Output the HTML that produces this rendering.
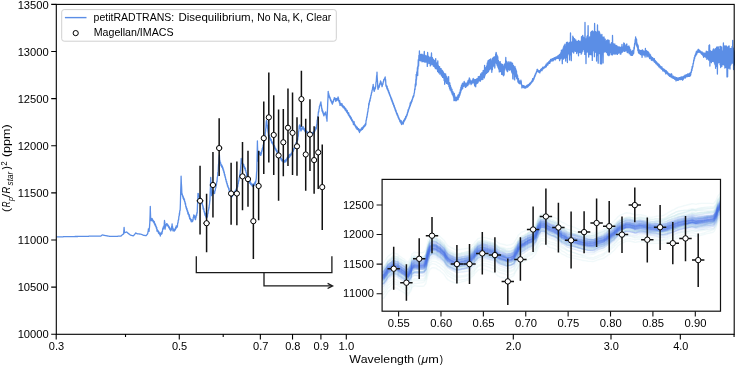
<!DOCTYPE html><html><head><meta charset="utf-8"><style>html,body{margin:0;padding:0;background:#fff;}svg text{font-kerning:none;}</style></head><body><svg width="735" height="366" viewBox="0 0 735 366" font-family='"Liberation Sans", sans-serif' style="display:block;filter:blur(0.3px)">
<rect x="0" y="0" width="735" height="366" fill="#fff"/>
<path d="M56.5 236.8 56.8 236.8 57.1 236.8 57.4 236.8 57.7 236.8 58.0 236.8 58.3 236.8 58.6 236.8 58.9 236.8 59.2 236.8 59.5 236.8 59.8 236.8 60.1 236.8 60.4 236.8 60.7 236.8 61.0 236.8 61.3 236.8 61.6 236.8 61.9 236.8 62.2 236.8 62.5 236.8 62.8 236.8 63.1 236.8 63.4 236.7 63.7 236.7 64.0 236.7 64.3 236.7 64.6 236.7 64.9 236.7 65.2 236.7 65.5 236.7 65.8 236.7 66.1 236.7 66.4 236.7 66.7 236.7 67.0 236.7 67.3 236.7 67.6 236.7 67.9 236.7 68.2 236.7 68.5 236.7 68.8 236.7 69.1 236.7 69.4 236.7 69.7 236.7 70.0 236.7 70.3 236.7 70.6 236.7 70.9 236.7 71.2 236.7 71.5 236.7 71.8 236.6 72.1 236.6 72.4 236.6 72.7 236.6 73.0 236.6 73.3 236.6 73.6 236.6 73.9 236.6 74.2 236.6 74.5 236.6 74.8 236.5 75.1 236.5 75.4 236.5 75.7 236.5 76.0 236.5 76.3 236.5 76.6 236.5 76.9 236.5 77.2 236.5 77.5 236.5 77.8 236.5 78.1 236.4 78.4 236.4 78.7 236.4 79.0 236.4 79.3 236.4 79.6 236.4 79.9 236.4 80.2 236.4 80.5 236.4 80.8 236.4 81.1 236.4 81.4 236.3 81.7 236.3 82.0 236.3 82.3 236.3 82.6 236.3 82.7 236.3 82.9 236.3 83.2 236.3 83.5 236.3 83.8 236.3 84.1 236.3 84.4 236.3 84.7 236.3 85.0 236.3 85.3 236.3 85.6 236.3 85.9 236.3 86.2 236.3 86.5 236.3 86.8 236.3 87.1 236.3 87.4 236.3 87.7 236.3 88.0 236.3 88.3 236.3 88.6 236.3 88.9 236.2 89.2 236.2 89.5 236.2 89.8 236.2 90.1 236.2 90.4 236.2 90.7 236.2 91.0 236.2 91.3 236.2 91.6 236.2 91.9 236.2 92.2 236.2 92.5 236.2 92.8 236.2 93.1 236.2 93.4 236.2 93.7 236.2 94.0 236.2 94.3 236.2 94.6 236.2 94.9 236.2 95.0 236.2 95.2 236.2 95.5 236.2 95.8 236.2 96.1 236.2 96.4 236.2 96.7 236.2 97.0 236.2 97.3 236.2 97.6 236.2 97.9 236.1 98.2 236.1 98.5 236.1 98.8 236.1 99.1 236.1 99.4 236.1 99.7 236.1 100.0 236.1 100.3 236.1 100.6 236.1 100.8 236.1 100.9 236.0 101.2 235.8 101.5 235.5 101.8 235.2 102.1 235.0 102.2 234.9 102.4 234.9 102.7 235.0 103.0 235.1 103.3 235.2 103.5 235.2 103.6 235.2 103.9 235.3 104.2 235.3 104.5 235.4 104.8 235.5 105.1 235.5 105.4 235.6 105.5 235.6 105.7 235.6 106.0 235.7 106.3 235.7 106.6 235.8 106.9 235.9 107.2 235.9 107.5 236.0 107.8 236.0 108.1 236.1 108.4 236.1 108.7 236.2 109.0 236.2 109.3 236.3 109.6 236.3 109.9 236.3 110.2 236.3 110.5 236.3 110.8 236.3 111.1 236.3 111.4 236.3 111.7 236.3 112.0 236.3 112.3 236.3 112.6 236.3 112.9 236.3 113.2 236.3 113.5 236.3 113.8 236.3 114.1 236.3 114.4 236.3 114.7 236.3 115.0 236.3 115.3 236.3 115.6 236.3 115.9 236.3 116.2 236.3 116.5 236.3 116.8 236.3 117.1 236.3 117.4 236.3 117.7 236.3 118.0 236.2 118.3 236.2 118.6 236.2 118.9 236.2 119.2 236.2 119.5 236.2 119.8 236.2 120.1 236.2 120.4 236.2 120.7 236.2 120.8 236.2 121.0 236.0 121.3 235.7 121.6 235.4 121.9 235.2 122.2 234.9 122.5 234.6 122.7 234.4 122.8 234.4 123.1 234.2 123.4 234.1 123.6 234.0 123.7 232.7 124.0 228.6 124.1 227.3 124.3 230.1 124.5 232.8 124.6 232.8 124.9 232.6 125.2 232.5 125.5 232.4 125.8 232.3 126.1 232.2 126.4 232.1 126.6 232.0 126.7 232.1 127.0 232.3 127.3 232.6 127.6 232.9 127.9 233.1 128.0 233.2 128.2 233.4 128.5 233.6 128.8 233.8 129.1 234.1 129.4 234.3 129.7 234.5 130.0 234.8 130.3 235.0 130.4 235.1 130.6 235.2 130.9 235.2 131.2 235.3 131.5 235.4 131.8 235.5 132.1 235.6 132.4 235.7 132.7 235.7 133.0 235.8 133.3 235.9 133.6 235.6 133.9 235.2 134.2 234.9 134.5 234.5 134.8 234.2 135.1 233.8 135.2 233.7 135.4 233.4 135.7 233.0 136.0 233.2 136.3 233.3 136.6 233.4 136.9 233.6 137.1 233.7 137.2 233.7 137.5 233.8 137.8 233.8 138.1 233.8 138.4 233.9 138.7 233.9 139.0 233.9 139.3 234.0 139.6 234.0 139.9 234.1 140.2 234.1 140.5 234.1 140.8 234.2 141.0 234.2 141.1 234.2 141.4 234.4 141.7 234.5 142.0 234.6 142.3 234.8 142.6 234.9 142.9 235.0 143.2 235.1 143.5 235.3 143.8 235.4 144.1 235.4 144.4 235.4 144.7 235.5 145.0 235.5 145.3 235.5 145.6 235.6 145.9 235.6 146.2 235.6 146.5 235.2 146.8 234.8 147.1 234.5 147.4 234.1 147.7 233.7 148.0 231.9 148.3 230.5 148.4 228.9 148.6 230.1 148.9 229.1 149.1 231.3 149.2 229.1 149.5 227.1 149.8 222.6 150.1 214.7 150.3 206.5 150.4 211.2 150.7 219.4 151.0 220.6 151.3 219.1 151.6 220.7 151.9 218.4 152.0 220.4 152.2 218.6 152.5 220.6 152.8 219.9 153.1 221.7 153.4 220.6 153.7 222.4 154.0 221.3 154.3 223.6 154.4 221.6 154.6 224.3 154.9 223.3 155.2 225.7 155.5 224.5 155.8 226.7 156.1 226.1 156.4 228.3 156.7 227.4 157.0 231.2 157.2 229.3 157.3 231.0 157.6 230.1 157.9 231.6 158.2 230.9 158.5 233.2 158.8 231.6 159.1 233.7 159.4 232.9 159.7 234.3 160.0 233.2 160.3 236.0 160.6 233.1 160.9 234.6 161.2 232.8 161.5 234.2 161.8 232.1 162.0 233.6 162.1 231.4 162.4 231.6 162.7 228.6 163.0 228.5 163.3 226.8 163.6 228.9 163.9 226.5 164.2 224.9 164.5 220.5 164.6 221.2 164.8 222.3 165.1 229.1 165.4 226.3 165.7 226.7 166.0 224.4 166.3 225.0 166.6 223.6 166.9 225.0 167.2 223.8 167.5 225.5 167.8 224.5 168.1 226.4 168.4 225.6 168.7 227.4 169.0 226.4 169.3 228.3 169.6 227.3 169.7 229.2 169.9 228.2 170.2 229.9 170.5 228.8 170.8 230.9 171.1 229.9 171.4 229.6 171.7 226.4 172.0 225.9 172.1 223.9 172.3 226.4 172.6 226.7 172.9 230.8 173.0 228.3 173.2 230.6 173.5 229.1 173.8 230.9 174.1 229.3 174.4 231.0 174.5 229.9 174.7 230.7 175.0 229.0 175.3 229.9 175.6 227.5 175.9 228.8 176.2 225.9 176.5 227.8 176.8 225.9 177.1 227.3 177.3 225.3 177.4 226.5 177.7 223.0 178.0 223.1 178.3 220.0 178.6 220.1 178.9 216.3 179.2 215.9 179.4 213.1 179.5 214.7 179.8 210.7 180.1 210.4 180.2 208.5 180.4 203.2 180.7 191.0 181.0 182.1 181.1 176.2 181.3 182.3 181.6 186.8 181.9 194.4 182.2 193.9 182.5 196.2 182.8 195.5 183.1 198.3 183.4 197.0 183.7 199.3 184.0 198.4 184.3 200.7 184.5 199.6 184.6 201.8 184.9 201.5 185.2 204.2 185.5 203.2 185.8 206.7 186.1 206.2 186.2 208.3 186.4 207.1 186.7 209.8 187.0 208.7 187.3 211.5 187.6 210.7 187.9 213.9 188.2 212.1 188.5 214.7 188.8 214.0 189.1 216.6 189.4 215.0 189.6 218.5 189.7 216.7 190.0 219.1 190.3 218.3 190.6 220.2 190.9 219.5 191.2 221.7 191.3 219.5 191.5 221.8 191.8 220.2 192.1 221.7 192.4 220.1 192.6 221.5 192.7 219.6 193.0 220.5 193.3 217.1 193.6 217.2 193.8 214.8 193.9 216.8 194.2 215.7 194.5 217.7 194.8 216.0 195.1 219.1 195.4 217.9 195.5 219.7 195.7 217.4 196.0 217.7 196.3 214.8 196.6 215.7 196.9 212.6 197.2 213.1 197.5 205.0 197.8 199.3 198.0 193.3 198.1 195.2 198.4 193.7 198.7 196.3 199.0 195.1 199.2 197.3 199.3 195.8 199.6 198.1 199.9 196.9 200.2 199.2 200.5 198.2 200.8 200.8 201.1 199.7 201.4 201.7 201.7 201.1 202.0 204.2 202.3 203.2 202.6 206.0 202.9 205.7 203.1 208.9 203.2 206.7 203.5 209.6 203.8 208.6 204.1 211.9 204.4 211.5 204.7 214.3 204.8 213.4 205.0 215.3 205.3 213.1 205.6 216.3 205.9 215.6 206.2 218.0 206.5 215.8 206.8 217.5 207.1 215.3 207.4 216.9 207.7 213.8 208.0 213.5 208.3 210.3 208.6 210.3 208.9 207.2 209.1 208.0 209.2 205.6 209.5 204.3 209.8 200.4 209.9 201.3 210.1 194.4 210.4 187.7 210.7 177.3 211.0 185.2 211.3 189.0 211.6 195.7 211.9 193.9 212.2 194.4 212.5 192.4 212.8 193.3 213.1 190.9 213.3 192.5 213.4 190.4 213.7 193.2 214.0 191.4 214.3 193.4 214.5 192.1 214.6 193.5 214.9 190.8 215.2 190.8 215.5 188.2 215.8 188.0 216.1 185.3 216.4 185.2 216.7 181.9 217.0 181.8 217.3 177.3 217.6 176.4 217.9 172.3 218.2 171.4 218.5 164.7 218.8 163.1 219.1 157.5 219.3 156.3 219.4 155.0 219.7 160.0 220.0 160.9 220.3 163.3 220.6 162.5 220.9 165.4 221.2 164.3 221.5 166.6 221.8 165.1 222.1 167.3 222.4 166.4 222.7 168.8 223.0 167.8 223.3 170.7 223.6 169.9 223.9 172.6 224.2 171.8 224.5 175.2 224.8 174.4 225.1 177.2 225.4 176.7 225.7 179.6 226.0 179.3 226.3 182.0 226.6 181.3 226.9 183.8 227.2 183.4 227.5 186.2 227.8 185.3 228.1 187.4 228.4 187.1 228.7 189.2 229.0 188.3 229.3 191.4 229.6 190.6 229.9 193.5 230.2 193.4 230.5 195.7 230.8 193.3 231.1 196.2 231.4 195.3 231.7 196.9 232.0 196.0 232.3 196.6 232.6 194.5 232.9 195.4 233.2 193.4 233.5 194.4 233.8 192.5 234.1 193.8 234.4 191.8 234.7 193.0 235.0 191.0 235.3 192.7 235.6 190.1 235.9 191.1 236.2 188.8 236.5 190.0 236.8 187.6 237.1 188.0 237.4 185.5 237.7 186.8 238.0 183.6 238.3 183.6 238.6 180.6 238.9 180.8 239.2 177.8 239.5 177.6 239.8 174.1 240.1 173.4 240.4 169.8 240.5 170.7 240.7 166.4 241.0 163.0 241.2 158.5 241.3 160.4 241.6 159.8 241.9 162.9 242.1 161.7 242.2 163.7 242.5 162.7 242.8 165.4 243.1 164.2 243.4 166.0 243.7 164.5 244.0 167.2 244.3 166.4 244.6 168.3 244.9 167.3 245.2 169.8 245.4 168.4 245.5 170.8 245.8 170.3 246.1 172.6 246.4 172.6 246.7 176.3 247.0 174.5 247.3 177.7 247.6 176.1 247.9 178.7 248.2 177.6 248.5 180.3 248.8 179.6 249.1 181.8 249.4 181.1 249.5 182.8 249.7 181.7 250.0 183.4 250.3 181.5 250.6 184.1 250.9 182.9 251.1 184.7 251.2 183.4 251.5 184.9 251.8 184.0 252.1 185.8 252.4 184.1 252.7 186.5 252.8 184.8 253.0 186.4 253.3 184.3 253.6 185.6 253.9 183.6 254.2 185.4 254.4 183.6 254.5 184.7 254.8 182.5 255.1 184.5 255.4 181.4 255.7 182.5 256.0 180.2 256.3 178.1 256.6 172.2 256.8 171.0 256.9 164.2 257.2 152.1 257.4 141.0 257.5 145.4 257.8 153.0 258.0 161.0 258.1 158.2 258.4 157.0 258.7 152.4 258.8 152.6 259.0 151.6 259.3 153.5 259.6 152.1 259.9 154.6 260.2 153.3 260.5 155.2 260.7 154.5 260.8 155.4 261.1 152.2 261.4 153.9 261.7 150.7 262.0 151.3 262.3 148.3 262.6 149.5 262.7 147.3 262.9 147.9 263.2 144.8 263.5 145.3 263.8 142.1 264.1 141.7 264.4 138.7 264.6 139.5 264.7 136.9 265.0 136.4 265.3 132.4 265.6 131.4 265.7 128.9 265.9 128.1 266.2 122.7 266.5 120.4 266.8 121.3 267.1 125.0 267.4 125.4 267.5 128.3 267.7 128.4 268.0 132.3 268.3 133.4 268.4 135.9 268.6 133.7 268.9 136.7 269.2 135.4 269.5 137.7 269.8 137.1 270.1 139.3 270.3 138.0 270.4 140.0 270.7 138.8 271.0 140.7 271.3 139.7 271.6 142.6 271.9 141.4 272.2 143.5 272.5 142.3 272.8 144.2 273.1 143.2 273.4 146.1 273.7 144.8 274.0 146.5 274.2 145.3 274.3 147.6 274.6 146.1 274.9 148.7 275.2 147.9 275.5 149.6 275.8 148.6 276.1 150.7 276.4 149.9 276.7 151.8 277.0 150.6 277.3 152.8 277.6 152.1 277.9 154.2 278.2 152.5 278.5 155.3 278.8 154.0 279.0 156.1 279.1 154.3 279.4 156.2 279.7 155.3 280.0 157.6 280.3 156.4 280.6 158.6 280.9 157.6 281.2 159.8 281.5 158.7 281.8 160.8 282.1 159.4 282.4 160.9 282.7 160.0 283.0 161.6 283.3 159.3 283.6 162.7 283.7 160.9 283.9 162.2 284.2 160.7 284.5 162.2 284.8 160.4 285.1 161.8 285.4 160.1 285.7 161.9 286.0 159.3 286.3 161.0 286.6 158.9 286.9 159.9 287.2 157.6 287.5 159.1 287.6 157.1 287.8 158.7 288.1 156.6 288.4 158.0 288.7 155.5 289.0 157.5 289.3 154.3 289.5 157.1 289.6 155.3 289.9 156.6 290.2 154.3 290.5 155.7 290.8 153.9 291.1 155.1 291.4 153.1 291.7 154.1 292.0 152.1 292.3 152.8 292.6 150.4 292.9 151.5 293.2 149.4 293.3 151.1 293.5 148.8 293.8 150.0 294.1 148.0 294.4 148.7 294.7 146.4 295.0 147.4 295.2 145.5 295.3 147.2 295.6 144.6 295.9 144.6 296.2 142.3 296.5 142.8 296.8 140.1 297.1 140.6 297.4 138.4 297.7 139.9 298.0 136.7 298.3 136.2 298.6 131.7 298.9 130.8 299.2 126.3 299.5 125.4 299.8 124.9 300.1 128.4 300.4 126.1 300.7 130.1 300.9 128.9 301.0 131.0 301.3 128.8 301.6 130.0 301.9 128.0 302.2 129.2 302.5 126.9 302.8 128.0 303.1 126.7 303.4 129.1 303.7 128.1 304.0 129.8 304.3 128.5 304.6 130.9 304.7 129.5 304.9 131.0 305.2 130.0 305.5 132.3 305.8 130.2 306.1 132.0 306.4 131.1 306.7 132.7 307.0 131.5 307.3 133.3 307.6 132.2 307.9 133.8 308.2 132.6 308.5 134.2 308.8 132.5 309.1 134.4 309.4 132.8 309.7 134.3 310.0 132.8 310.3 134.8 310.4 133.0 310.6 134.6 310.9 132.7 311.2 134.8 311.5 133.0 311.8 134.2 312.1 132.6 312.4 134.7 312.7 132.4 313.0 134.1 313.3 132.2 313.6 133.5 313.9 131.5 314.2 132.3 314.5 130.0 314.8 131.3 315.1 129.0 315.4 130.2 315.7 127.4 316.0 129.2 316.2 127.4 316.3 128.4 316.6 124.7 316.9 124.7 317.2 120.2 317.5 119.8 317.8 116.2 318.1 115.4 318.4 111.7 318.7 112.1 319.0 109.0 319.3 108.8 319.4 106.4 319.6 107.1 319.9 104.9 320.2 105.2 320.5 102.9 320.8 103.4 320.9 101.8 321.1 104.5 321.4 105.1 321.7 108.7 321.9 108.1 322.0 111.0 322.3 109.7 322.6 112.3 322.9 111.1 323.2 113.9 323.5 113.1 323.8 115.8 324.1 113.7 324.4 115.0 324.7 113.2 325.0 114.4 325.3 112.8 325.6 113.9 325.7 111.9 325.9 115.2 326.2 114.9 326.5 118.2 326.8 118.5 327.0 121.2 327.1 117.1 327.4 111.8 327.7 103.3 328.0 97.6 328.2 91.3 328.3 93.2 328.6 93.0 328.9 96.0 329.1 95.0 329.2 97.1 329.5 96.2 329.8 98.1 330.1 97.6 330.4 99.8 330.5 98.9 330.7 100.6 331.0 99.9 331.3 102.0 331.6 101.1 331.9 103.2 332.2 102.3 332.4 104.1 332.5 101.9 332.8 103.2 333.1 101.0 333.4 102.0 333.7 99.5 334.0 100.0 334.3 97.7 334.6 99.7 334.9 98.2 335.2 99.6 335.5 98.4 335.8 101.4 336.1 98.7 336.2 100.2 336.4 98.9 336.7 100.4 337.0 98.4 337.3 99.7 337.6 98.1 337.9 100.1 338.1 97.0 338.2 99.9 338.5 98.0 338.8 101.1 339.1 100.4 339.4 102.8 339.7 100.7 340.0 105.4 340.3 103.1 340.6 104.8 340.9 103.5 341.2 105.1 341.5 104.0 341.8 105.6 342.0 103.7 342.1 106.2 342.4 104.9 342.7 106.8 343.0 105.8 343.3 107.6 343.6 106.2 343.9 108.0 344.2 106.6 344.5 108.7 344.8 107.5 345.1 109.9 345.4 108.3 345.7 110.3 346.0 109.0 346.3 111.3 346.6 110.3 346.9 112.4 347.2 110.4 347.5 113.3 347.7 112.2 347.8 113.7 348.1 112.7 348.4 115.0 348.7 112.8 349.0 115.8 349.3 114.8 349.6 116.8 349.9 115.6 350.2 117.7 350.5 116.6 350.6 118.8 350.8 117.1 351.1 119.1 351.4 118.0 351.7 120.6 352.0 119.3 352.3 121.2 352.6 120.4 352.9 122.4 353.2 121.5 353.4 124.5 353.5 121.9 353.8 123.8 354.1 121.7 354.4 124.8 354.7 124.0 355.0 125.8 355.3 125.0 355.6 127.0 355.9 125.8 356.2 128.1 356.3 126.3 356.5 128.1 356.8 127.2 357.1 129.3 357.4 127.5 357.7 129.4 358.0 128.7 358.3 130.1 358.6 128.7 358.9 131.1 359.2 129.4 359.5 132.5 359.8 130.1 360.1 131.4 360.4 129.7 360.7 130.5 361.0 129.0 361.3 130.2 361.6 127.9 361.9 129.7 362.2 128.0 362.5 129.4 362.6 127.3 362.8 128.6 363.1 126.6 363.4 128.0 363.7 125.9 364.0 127.2 364.3 125.6 364.6 126.5 364.9 124.5 365.2 125.8 365.5 123.4 365.8 124.8 366.1 120.2 366.4 120.1 366.7 116.9 367.0 117.2 367.3 114.0 367.4 114.6 367.6 112.0 367.9 112.0 368.2 108.3 368.5 108.2 368.8 103.5 369.1 104.8 369.3 101.8 369.4 102.6 369.7 100.0 370.0 101.1 370.3 97.8 370.6 98.2 370.9 95.1 371.2 95.3 371.5 92.6 371.8 92.6 372.1 90.0 372.4 89.9 372.7 86.8 373.0 87.2 373.2 84.3 373.3 86.6 373.6 86.8 373.9 90.5 374.1 90.1 374.2 91.4 374.5 89.0 374.8 89.8 375.1 87.5 375.4 88.4 375.6 86.4 375.7 86.7 376.0 82.3 376.3 81.1 376.6 76.2 376.9 74.8 377.0 72.1 377.2 77.3 377.5 81.3 377.8 88.0 377.9 88.6 378.1 89.4 378.4 87.3 378.7 87.8 379.0 85.6 379.3 87.0 379.5 84.2 379.6 85.8 379.9 83.2 380.2 84.2 380.5 81.0 380.8 82.0 381.1 81.9 381.4 84.5 381.7 84.0 382.0 86.6 382.1 85.7 382.3 86.2 382.6 83.7 382.9 84.5 383.2 81.7 383.5 82.1 383.7 79.6 383.8 80.8 384.1 79.1 384.4 79.7 384.7 77.9 385.0 79.0 385.2 77.0 385.3 79.5 385.6 79.5 385.9 85.4 386.0 84.4 386.2 86.4 386.5 85.9 386.8 88.2 387.1 86.2 387.4 89.7 387.7 88.4 388.0 90.6 388.3 90.0 388.4 91.9 388.6 90.6 388.9 93.2 389.2 92.3 389.5 94.9 389.8 94.0 390.1 96.1 390.4 95.8 390.7 97.9 391.0 97.1 391.3 99.8 391.6 98.6 391.9 101.3 392.2 100.1 392.5 102.9 392.8 101.9 393.1 104.3 393.4 103.3 393.7 106.0 394.0 105.1 394.2 107.2 394.3 105.7 394.6 108.3 394.9 107.6 395.2 110.1 395.5 109.2 395.8 111.6 396.1 110.6 396.4 113.3 396.7 112.5 397.0 114.8 397.3 113.7 397.6 115.9 397.9 115.0 398.2 117.6 398.5 116.9 398.8 119.0 399.1 118.1 399.4 120.0 399.7 119.5 399.9 121.6 400.0 119.8 400.3 122.0 400.6 120.7 400.9 123.1 401.2 120.7 401.5 124.5 401.8 123.0 402.1 124.2 402.4 122.2 402.7 123.3 403.0 121.6 403.3 124.0 403.6 120.5 403.7 122.2 403.9 120.2 404.2 121.3 404.5 119.0 404.8 120.3 405.1 118.1 405.4 119.3 405.7 116.5 406.0 118.1 406.3 115.9 406.6 116.5 406.9 114.2 407.2 115.1 407.5 112.2 407.8 112.9 408.1 109.7 408.4 111.1 408.5 109.5 408.7 110.0 409.0 107.6 409.3 108.3 409.6 105.9 409.9 106.9 410.2 103.0 410.4 105.4 410.5 103.6 410.8 104.3 411.1 101.5 411.4 102.9 411.7 100.1 412.0 101.4 412.3 98.8 412.6 99.2 412.9 96.6 413.2 97.6 413.5 95.3 413.8 96.3 414.1 93.3 414.4 93.0 414.7 88.8 415.0 89.7 415.3 84.0 415.6 86.3 415.9 79.2 416.1 84.9 416.2 74.3 416.5 79.9 416.8 72.0 417.1 75.7 417.4 67.6 417.7 75.4 417.8 66.2 418.0 68.9 418.3 59.7 418.6 66.1 418.9 55.5 419.2 60.6 419.4 51.0 419.5 53.8 419.8 59.5 420.1 54.4 420.4 60.8 420.7 54.5 421.0 60.7 421.3 55.4 421.6 60.1 421.9 54.1 422.0 61.8 422.2 54.3 422.5 61.5 422.8 56.0 423.1 61.2 423.4 55.1 423.7 61.7 424.0 56.3 424.3 51.5 424.6 61.5 424.9 56.7 425.0 62.3 425.2 55.3 425.5 61.3 425.8 55.8 426.1 61.8 426.4 56.6 426.7 62.2 427.0 55.6 427.3 66.4 427.6 52.5 427.9 57.3 428.2 61.7 428.5 56.3 428.8 63.5 429.0 58.0 429.1 62.9 429.4 57.8 429.7 63.4 430.0 57.1 430.3 65.9 430.6 59.0 430.9 63.8 431.2 58.5 431.5 53.0 431.8 64.8 432.0 59.7 432.1 64.2 432.4 57.7 432.7 64.3 433.0 59.2 433.3 65.9 433.6 59.5 433.9 66.4 434.2 60.4 434.5 66.8 434.8 60.7 435.0 67.6 435.1 62.6 435.4 68.7 435.7 58.6 436.0 67.4 436.3 64.1 436.6 68.7 436.9 63.0 437.2 69.6 437.5 64.0 437.6 71.5 437.8 60.8 438.1 70.6 438.4 65.6 438.7 72.8 439.0 66.6 439.3 72.0 439.6 66.6 439.9 74.2 440.2 68.4 440.5 73.3 440.6 68.8 440.8 73.9 441.1 68.6 441.4 75.6 441.7 70.2 442.0 76.2 442.3 70.5 442.6 77.4 442.9 71.2 443.2 77.4 443.5 72.2 443.8 78.2 444.0 74.4 444.1 80.5 444.4 73.6 444.7 84.3 445.0 76.0 445.3 81.9 445.6 73.8 445.9 81.3 446.2 76.0 446.5 83.4 446.8 76.7 447.1 82.5 447.4 78.1 447.7 84.0 448.0 79.6 448.3 84.3 448.6 76.6 448.9 86.4 449.2 82.6 449.5 88.3 449.8 82.9 450.1 90.0 450.4 85.4 450.7 90.2 451.0 87.2 451.3 91.9 451.6 89.0 451.9 93.3 452.0 89.2 452.2 94.3 452.5 91.6 452.8 95.2 453.1 91.8 453.4 96.9 453.7 94.4 454.0 100.6 454.3 93.3 454.6 99.5 454.9 95.9 455.2 100.4 455.5 97.4 455.8 100.8 456.1 97.9 456.4 100.7 456.7 97.2 457.0 99.9 457.3 96.9 457.6 99.7 457.9 95.2 458.1 99.7 458.2 95.7 458.5 98.0 458.8 94.4 459.1 97.1 459.4 92.6 459.7 95.5 460.0 91.7 460.2 94.0 460.3 89.6 460.6 92.6 460.9 87.2 461.2 90.8 461.5 85.2 461.8 89.4 462.1 85.1 462.2 87.8 462.4 83.4 462.7 88.5 463.0 83.2 463.3 86.3 463.6 83.5 463.9 86.3 464.2 81.4 464.3 85.9 464.5 82.7 464.8 85.7 465.1 82.8 465.4 87.4 465.7 83.6 466.0 86.9 466.3 83.9 466.6 86.2 466.9 82.9 467.2 85.0 467.5 81.8 467.8 85.7 468.1 80.5 468.4 83.2 468.7 80.0 469.0 84.1 469.3 78.0 469.4 81.5 469.6 78.3 469.9 82.2 470.2 79.8 470.5 83.1 470.8 80.8 471.1 84.6 471.2 81.3 471.4 83.8 471.7 81.0 472.0 83.5 472.3 80.1 472.6 82.5 472.9 79.3 473.0 81.9 473.2 78.4 473.5 82.3 473.8 79.1 474.1 83.8 474.4 79.9 474.7 85.9 475.0 79.6 475.3 84.0 475.6 79.6 475.7 86.8 475.9 79.6 476.2 83.9 476.5 79.0 476.8 83.5 477.1 79.0 477.4 83.2 477.7 78.3 478.0 82.7 478.3 76.7 478.6 81.0 478.9 76.8 479.2 80.9 479.5 76.5 479.8 80.7 480.1 76.0 480.4 81.1 480.7 74.0 481.0 79.7 481.3 74.1 481.6 79.5 481.9 72.7 482.2 78.9 482.5 72.9 482.8 79.5 483.1 70.7 483.4 77.0 483.6 72.6 483.7 77.2 484.0 70.1 484.3 77.9 484.6 65.3 484.9 75.9 485.2 69.8 485.5 74.3 485.8 67.6 486.1 73.4 486.3 67.1 486.4 73.4 486.7 65.9 487.0 72.2 487.3 63.0 487.6 72.5 487.9 61.5 488.1 70.8 488.2 60.4 488.5 71.6 488.8 61.7 489.1 68.7 489.4 59.7 489.7 69.8 490.0 60.4 490.3 68.2 490.6 59.0 490.7 68.4 490.9 59.2 491.2 69.1 491.5 60.6 491.8 72.3 492.1 60.6 492.4 69.7 492.5 58.1 492.7 67.3 493.0 58.9 493.3 66.3 493.6 57.4 493.9 65.0 494.2 56.7 494.3 65.6 494.5 57.6 494.8 68.0 495.1 57.1 495.4 63.1 495.7 53.8 496.0 61.4 496.1 52.5 496.3 52.9 496.6 63.5 496.9 54.8 497.0 65.1 497.2 55.6 497.5 66.1 497.8 56.7 498.1 67.7 498.4 60.4 498.7 69.0 499.0 61.6 499.3 71.9 499.6 63.0 499.9 70.1 500.2 61.7 500.5 71.5 500.8 63.3 501.1 71.3 501.4 64.1 501.7 74.4 502.0 65.3 502.3 74.1 502.6 64.4 502.9 74.8 503.2 66.9 503.5 75.8 503.8 66.0 504.1 74.9 504.4 64.1 504.7 69.9 505.0 63.6 505.3 68.0 505.6 61.7 505.8 57.5 505.9 67.7 506.2 60.8 506.5 69.9 506.8 61.4 507.1 71.2 507.4 63.6 507.6 71.7 507.7 63.0 508.0 69.6 508.3 63.4 508.6 69.4 508.9 61.7 509.2 70.0 509.4 62.8 509.5 70.2 509.8 62.8 510.1 69.9 510.4 62.2 510.7 69.0 511.0 62.2 511.2 69.7 511.3 62.7 511.6 72.1 511.9 64.4 512.2 73.2 512.5 63.2 512.8 78.7 512.9 65.9 513.1 79.1 513.4 65.4 513.7 73.9 514.0 67.2 514.3 73.1 514.6 68.0 514.7 79.9 514.9 66.3 515.2 75.2 515.5 68.2 515.8 76.6 516.1 69.9 516.4 76.5 516.5 71.1 516.7 78.6 517.0 74.2 517.3 79.1 517.6 75.7 517.9 81.7 518.2 78.3 518.3 82.6 518.5 78.6 518.8 83.1 519.1 80.3 519.4 83.3 519.7 81.3 520.0 83.8 520.3 81.7 520.6 82.9 520.9 80.1 521.0 82.3 521.2 81.3 521.5 85.0 521.8 84.7 521.9 87.9 522.1 85.4 522.4 86.9 522.7 85.7 523.0 87.2 523.3 85.6 523.6 87.5 523.9 86.0 524.2 87.8 524.5 86.2 524.8 88.0 525.1 86.7 525.4 88.1 525.7 86.4 526.0 87.8 526.3 85.9 526.6 87.2 526.9 85.3 527.2 87.2 527.5 85.2 527.6 87.2 527.8 85.1 528.1 86.3 528.4 84.7 528.7 86.0 529.0 84.2 529.3 85.3 529.6 83.3 529.9 84.9 530.2 82.9 530.5 84.2 530.8 82.3 531.1 83.4 531.4 81.5 531.7 82.2 532.0 80.6 532.3 81.9 532.6 78.7 532.9 81.2 533.2 79.2 533.4 80.0 533.5 78.4 533.8 79.5 534.1 76.9 534.4 77.8 534.7 75.5 535.0 76.4 535.3 74.0 535.6 74.9 535.9 72.8 536.2 73.3 536.5 71.5 536.8 72.0 537.1 69.4 537.2 70.8 537.4 69.5 537.7 71.0 538.0 70.2 538.3 71.9 538.6 70.8 538.9 72.2 539.1 71.0 539.2 72.4 539.5 70.8 539.8 72.9 540.1 70.3 540.4 71.3 540.7 69.3 541.0 70.6 541.3 68.9 541.6 70.0 541.9 68.4 542.0 70.7 542.2 68.3 542.5 69.4 542.8 67.2 543.1 68.9 543.4 67.4 543.7 68.6 544.0 67.1 544.3 67.8 544.6 66.6 544.8 67.6 544.9 66.3 545.2 67.2 545.5 65.3 545.8 67.1 546.1 64.2 546.4 66.5 546.7 64.3 547.0 65.4 547.3 62.8 547.6 65.0 547.7 63.1 547.9 64.8 548.2 62.7 548.5 63.6 548.8 61.7 549.1 63.4 549.4 61.1 549.7 63.4 550.0 60.4 550.3 62.0 550.6 59.3 550.9 61.4 551.2 59.5 551.5 60.8 551.8 59.2 552.1 60.9 552.4 58.6 552.7 60.8 553.0 58.7 553.3 60.7 553.4 58.4 553.6 59.9 553.9 58.1 554.2 59.7 554.5 57.7 554.8 59.5 555.1 57.6 555.4 59.8 555.7 57.1 556.0 58.7 556.3 57.1 556.6 58.6 556.9 56.7 557.2 58.1 557.5 56.2 557.8 58.4 558.1 56.0 558.4 58.2 558.7 55.3 559.0 58.7 559.3 54.6 559.6 60.6 559.9 54.3 560.0 59.0 560.2 53.9 560.5 58.9 560.8 52.7 561.1 58.1 561.4 50.2 561.7 57.2 562.0 51.4 562.3 63.7 562.6 49.6 562.9 57.8 563.2 47.8 563.5 59.1 563.8 46.2 564.1 56.4 564.4 45.1 564.7 58.0 565.0 44.1 565.3 56.7 565.6 47.0 565.7 61.1 565.9 46.6 566.2 57.7 566.5 42.5 566.8 54.1 567.1 44.2 567.4 62.5 567.7 42.2 568.0 53.8 568.3 43.2 568.6 52.2 568.9 43.7 569.2 55.0 569.5 42.5 569.6 60.1 569.8 43.7 570.1 54.8 570.4 41.5 570.5 33.0 570.7 52.9 571.0 42.9 571.3 60.7 571.6 42.5 571.9 50.8 572.2 41.4 572.5 51.9 572.8 36.1 573.1 49.6 573.4 37.4 573.7 53.0 574.0 38.7 574.3 49.8 574.6 38.7 574.9 51.0 575.2 41.8 575.5 51.3 575.8 39.8 576.1 51.4 576.4 42.5 576.7 53.6 577.0 41.5 577.3 51.8 577.6 42.3 577.9 51.7 578.2 41.0 578.5 55.8 578.8 40.5 579.0 50.8 579.1 43.8 579.4 52.6 579.7 41.7 580.0 51.5 580.3 42.0 580.6 52.4 580.9 40.8 581.2 54.2 581.5 36.7 581.8 53.1 582.1 38.5 582.4 51.3 582.7 35.3 583.0 49.3 583.3 37.0 583.6 49.4 583.9 38.2 584.2 51.2 584.5 37.7 584.8 54.4 585.0 22.5 585.1 38.6 585.4 50.8 585.7 40.0 586.0 63.5 586.3 38.7 586.6 49.8 586.9 36.6 587.2 52.1 587.5 35.4 587.8 50.2 588.1 25.7 588.4 50.2 588.7 57.0 589.0 39.2 589.3 54.1 589.6 36.9 589.9 54.5 590.2 38.8 590.5 52.3 590.8 32.4 591.1 54.8 591.4 31.3 591.7 52.1 592.0 32.3 592.3 60.4 592.5 31.0 592.6 52.3 592.9 31.2 593.2 49.1 593.5 31.9 593.8 50.7 594.1 35.2 594.4 56.7 594.6 23.5 594.7 32.2 595.0 51.9 595.3 31.9 595.4 47.7 595.6 31.7 595.9 52.4 596.2 32.1 596.5 51.9 596.6 61.0 596.8 33.6 597.1 52.3 597.4 34.1 597.5 25.0 597.7 55.6 598.0 33.6 598.2 63.2 598.3 35.7 598.6 50.8 598.9 31.1 599.2 53.6 599.5 32.0 599.8 52.3 600.1 33.8 600.4 63.8 600.7 34.9 601.0 53.9 601.3 36.4 601.6 63.9 601.9 34.4 602.0 52.0 602.2 36.6 602.5 52.8 602.8 37.2 603.1 62.9 603.4 38.7 603.7 51.5 604.0 37.0 604.3 52.0 604.6 39.0 604.9 51.6 605.2 39.2 605.5 51.7 605.8 41.5 606.0 51.2 606.1 42.3 606.4 52.5 606.7 40.3 607.0 52.5 607.3 43.1 607.6 54.8 607.9 39.7 608.2 55.2 608.5 43.0 608.8 55.7 609.1 40.5 609.4 55.0 609.7 44.0 610.0 52.8 610.3 45.7 610.6 52.6 610.9 43.8 611.2 54.7 611.5 42.6 611.8 53.7 612.1 44.7 612.4 54.9 612.5 35.5 612.7 44.9 613.0 53.7 613.3 43.6 613.5 53.9 613.6 44.4 613.9 53.6 614.2 46.0 614.5 54.1 614.8 43.8 615.1 53.2 615.4 47.8 615.7 54.0 616.0 45.5 616.3 53.4 616.6 46.0 616.9 53.9 617.2 46.1 617.4 54.4 617.5 47.9 617.8 53.5 618.1 47.1 618.4 53.2 618.7 46.9 619.0 52.6 619.3 46.9 619.6 52.2 619.9 47.9 620.2 54.0 620.5 47.3 620.8 54.1 621.1 47.1 621.2 53.1 621.4 47.4 621.7 51.7 622.0 44.4 622.3 52.2 622.6 46.9 622.9 51.3 623.2 47.3 623.5 50.9 623.8 42.8 624.1 51.0 624.4 43.4 624.7 51.4 625.0 46.3 625.3 50.9 625.6 45.6 625.9 50.4 626.2 44.3 626.5 50.7 626.8 43.9 627.1 52.2 627.4 46.5 627.7 52.7 628.0 46.7 628.3 51.9 628.6 46.9 628.8 51.7 628.9 45.9 629.2 53.7 629.5 47.1 629.8 53.7 630.1 49.1 630.4 55.0 630.7 50.0 631.0 54.9 631.3 51.3 631.6 55.4 631.7 52.1 631.9 55.1 632.2 51.2 632.5 55.3 632.8 50.3 633.1 54.2 633.4 50.3 633.7 53.3 634.0 47.2 634.3 49.0 634.6 43.5 634.9 45.0 635.2 39.6 635.5 41.2 635.6 36.9 635.8 41.9 636.1 38.3 636.4 44.3 636.6 39.5 636.7 46.1 637.0 42.8 637.3 47.1 637.6 44.3 637.9 50.7 638.2 45.7 638.5 52.7 638.8 49.3 639.1 53.4 639.4 50.2 639.7 53.5 640.0 50.4 640.3 54.5 640.6 51.1 640.9 54.1 641.2 50.4 641.5 54.9 641.8 51.4 642.1 57.4 642.4 50.0 642.7 54.4 643.0 50.3 643.3 54.6 643.6 51.2 643.9 55.2 644.2 51.3 644.5 54.6 644.8 51.2 645.1 57.0 645.4 48.5 645.7 54.8 646.0 50.5 646.3 54.7 646.6 50.9 646.9 56.9 647.2 51.6 647.5 55.6 647.8 51.5 648.0 56.2 648.1 52.8 648.4 55.6 648.7 52.5 649.0 57.1 649.3 53.9 649.6 58.5 649.9 54.1 650.2 58.6 650.5 54.8 650.8 58.1 651.1 56.5 651.4 60.3 651.7 57.1 651.9 59.8 652.0 57.7 652.3 59.5 652.6 57.7 652.9 60.6 653.2 58.4 653.5 60.7 653.8 59.1 654.1 61.8 654.4 58.7 654.7 62.3 654.8 60.5 655.0 62.1 655.3 60.6 655.6 63.2 655.9 61.5 656.2 63.8 656.5 61.9 656.8 64.1 657.1 62.9 657.4 65.2 657.6 63.2 657.7 65.0 658.0 63.3 658.3 65.9 658.6 64.4 658.9 66.8 659.2 64.3 659.5 67.0 659.8 65.7 660.1 67.9 660.4 66.1 660.5 67.7 660.7 66.5 661.0 68.6 661.3 66.8 661.6 69.2 661.9 66.9 662.2 69.5 662.5 68.3 662.8 70.9 663.1 69.0 663.4 70.8 663.7 69.0 664.0 71.2 664.3 69.4 664.6 71.7 664.9 70.1 665.2 72.1 665.5 70.5 665.8 73.9 666.1 70.6 666.2 72.9 666.4 70.8 666.7 73.2 667.0 71.9 667.3 73.7 667.6 72.2 667.9 74.5 668.2 73.2 668.5 75.1 668.8 73.6 669.1 75.7 669.4 74.0 669.7 76.3 670.0 74.3 670.3 76.4 670.6 74.4 670.9 77.0 671.2 73.7 671.5 76.9 671.8 74.2 672.0 77.6 672.1 75.9 672.4 78.0 672.7 76.4 673.0 77.8 673.3 76.1 673.6 78.3 673.9 77.0 674.2 78.6 674.5 77.1 674.8 79.3 675.1 77.0 675.4 79.1 675.7 77.8 676.0 80.9 676.3 77.7 676.6 79.9 676.9 77.7 677.2 80.1 677.5 78.2 677.7 80.4 677.8 78.4 678.1 80.3 678.4 77.8 678.7 79.9 679.0 77.9 679.3 79.5 679.6 77.7 679.9 79.4 680.2 77.5 680.5 79.5 680.6 77.5 680.8 79.7 681.1 77.2 681.4 79.3 681.7 76.9 682.0 78.8 682.3 77.1 682.6 80.2 682.9 76.9 683.2 79.3 683.4 76.4 683.5 78.8 683.8 76.5 684.1 77.9 684.4 76.0 684.7 77.8 685.0 75.2 685.3 78.0 685.6 75.1 685.9 76.8 686.0 75.3 686.2 76.9 686.5 74.7 686.8 76.5 687.1 74.6 687.4 76.7 687.7 73.8 688.0 76.1 688.3 74.1 688.6 76.3 688.9 74.0 689.2 75.8 689.5 73.5 689.8 76.4 690.1 72.8 690.4 75.4 690.5 73.2 690.7 74.9 691.0 71.8 691.3 72.5 691.6 69.1 691.9 70.5 692.2 66.4 692.4 68.3 692.5 66.5 692.8 66.8 693.1 63.4 693.4 63.7 693.7 60.0 694.0 60.9 694.3 57.4 694.6 58.7 694.9 55.5 695.2 56.6 695.5 53.9 695.8 55.6 696.1 52.5 696.2 54.6 696.4 51.4 696.7 54.2 697.0 51.1 697.3 52.8 697.6 50.6 697.9 52.1 698.1 49.4 698.2 51.8 698.5 49.5 698.8 52.3 699.1 49.9 699.4 52.1 699.7 50.6 700.0 52.2 700.1 50.9 700.3 52.7 700.6 51.2 700.9 53.1 701.2 52.0 701.5 54.1 701.8 52.2 702.0 54.1 702.1 51.8 702.4 54.8 702.7 53.2 703.0 55.6 703.3 52.8 703.6 57.3 703.9 54.1 704.2 56.3 704.5 53.1 704.8 56.7 705.1 53.4 705.4 56.6 705.7 53.0 706.0 57.7 706.3 51.1 706.6 58.0 706.7 52.2 706.9 59.4 707.2 51.6 707.5 57.4 707.8 51.9 708.1 58.5 708.4 52.1 708.7 60.0 709.0 45.4 709.3 59.1 709.6 45.0 709.9 66.0 710.0 50.6 710.2 61.6 710.5 50.8 710.8 61.5 711.1 52.0 711.4 62.7 711.7 51.3 712.0 61.1 712.3 51.4 712.6 61.4 712.9 49.9 713.2 60.5 713.5 48.8 713.8 61.5 714.1 49.7 714.4 63.0 714.7 52.3 715.0 64.7 715.3 48.6 715.6 68.3 715.9 48.9 716.2 66.4 716.5 47.4 716.8 65.4 717.1 46.9 717.4 74.1 717.7 50.9 718.0 63.3 718.3 46.8 718.6 62.4 718.9 49.4 719.2 62.4 719.5 50.3 719.8 61.8 720.0 46.3 720.1 64.8 720.4 46.3 720.7 67.5 721.0 48.6 721.3 61.7 721.6 47.0 721.9 66.3 722.2 51.2 722.5 64.6 722.8 50.9 723.1 61.9 723.4 43.0 723.7 64.7 724.0 45.6 724.3 65.2 724.6 46.2 724.9 68.1 725.0 46.2 725.2 66.1 725.5 46.5 725.8 67.3 726.1 45.9 726.4 67.6 726.7 46.3 727.0 76.9 727.3 50.7 727.6 76.8 727.9 47.2 728.2 68.4 728.5 46.3 728.8 67.3 729.1 45.9 729.4 68.0 729.7 48.7 730.0 69.1 730.3 48.9 730.6 65.2 730.9 48.5 731.2 64.1 731.5 50.9 731.8 62.5 732.1 46.5 732.4 63.0 732.7 40.3 733.0 62.6 733.3 47.9 733.6 69.6 733.9 50.5 734.0 62.1 734.2 51.7 734.5 65.4" stroke="#5b8ee6" stroke-width="1.3" fill="none" stroke-linejoin="round"/>
<path d="M200.05 165.83V234.60M196.71 200.86H203.34" stroke="#111" stroke-width="1.5" fill="none"/>
<path d="M206.59 193.82V252.20M203.34 223.25H209.79" stroke="#111" stroke-width="1.5" fill="none"/>
<path d="M212.96 152.07V217.49M209.79 185.02H216.08" stroke="#111" stroke-width="1.5" fill="none"/>
<path d="M219.16 118.32V176.06M216.08 148.07H222.21" stroke="#111" stroke-width="1.5" fill="none"/>
<path d="M231.11 162.79V224.69M228.18 193.50H234.01" stroke="#111" stroke-width="1.5" fill="none"/>
<path d="M236.87 161.51V225.17M234.01 193.50H239.70" stroke="#111" stroke-width="1.5" fill="none"/>
<path d="M242.50 141.99V210.29M239.70 176.38H245.26" stroke="#111" stroke-width="1.5" fill="none"/>
<path d="M247.99 150.63V206.77M245.26 179.10H250.70" stroke="#111" stroke-width="1.5" fill="none"/>
<path d="M253.37 184.38V258.92M250.70 221.17H256.01" stroke="#111" stroke-width="1.5" fill="none"/>
<path d="M258.63 150.63V220.21M256.01 185.98H261.21" stroke="#111" stroke-width="1.5" fill="none"/>
<path d="M263.77 101.53V173.98M261.21 138.16H266.30" stroke="#111" stroke-width="1.5" fill="none"/>
<path d="M268.81 72.42V162.47M266.30 117.36H271.29" stroke="#111" stroke-width="1.5" fill="none"/>
<path d="M273.74 95.29V175.10M271.29 134.96H276.17" stroke="#111" stroke-width="1.5" fill="none"/>
<path d="M278.58 109.53V200.70M276.17 155.43H280.96" stroke="#111" stroke-width="1.5" fill="none"/>
<path d="M283.32 108.89V176.22M280.96 142.31H285.65" stroke="#111" stroke-width="1.5" fill="none"/>
<path d="M287.97 88.41V165.99M285.65 127.76H290.26" stroke="#111" stroke-width="1.5" fill="none"/>
<path d="M292.53 92.41V174.94M290.26 132.88H294.78" stroke="#111" stroke-width="1.5" fill="none"/>
<path d="M297.00 117.20V175.74M294.78 146.31H299.21" stroke="#111" stroke-width="1.5" fill="none"/>
<path d="M301.40 70.82V126.64M299.21 99.13H303.57" stroke="#111" stroke-width="1.5" fill="none"/>
<path d="M305.71 118.80V190.78M303.57 154.47H307.84" stroke="#111" stroke-width="1.5" fill="none"/>
<path d="M309.95 99.13V171.11M307.84 134.48H312.05" stroke="#111" stroke-width="1.5" fill="none"/>
<path d="M314.12 126.32V193.66M312.05 160.07H316.18" stroke="#111" stroke-width="1.5" fill="none"/>
<path d="M318.21 116.56V189.02M316.18 152.39H320.24" stroke="#111" stroke-width="1.5" fill="none"/>
<path d="M322.24 144.55V229.97M320.24 187.10H324.23" stroke="#111" stroke-width="1.5" fill="none"/>
<circle cx="200.05" cy="200.86" r="2.6" fill="#fff" stroke="#000" stroke-width="1"/>
<circle cx="206.59" cy="223.25" r="2.6" fill="#fff" stroke="#000" stroke-width="1"/>
<circle cx="212.96" cy="185.02" r="2.6" fill="#fff" stroke="#000" stroke-width="1"/>
<circle cx="219.16" cy="148.07" r="2.6" fill="#fff" stroke="#000" stroke-width="1"/>
<circle cx="231.11" cy="193.50" r="2.6" fill="#fff" stroke="#000" stroke-width="1"/>
<circle cx="236.87" cy="193.50" r="2.6" fill="#fff" stroke="#000" stroke-width="1"/>
<circle cx="242.50" cy="176.38" r="2.6" fill="#fff" stroke="#000" stroke-width="1"/>
<circle cx="247.99" cy="179.10" r="2.6" fill="#fff" stroke="#000" stroke-width="1"/>
<circle cx="253.37" cy="221.17" r="2.6" fill="#fff" stroke="#000" stroke-width="1"/>
<circle cx="258.63" cy="185.98" r="2.6" fill="#fff" stroke="#000" stroke-width="1"/>
<circle cx="263.77" cy="138.16" r="2.6" fill="#fff" stroke="#000" stroke-width="1"/>
<circle cx="268.81" cy="117.36" r="2.6" fill="#fff" stroke="#000" stroke-width="1"/>
<circle cx="273.74" cy="134.96" r="2.6" fill="#fff" stroke="#000" stroke-width="1"/>
<circle cx="278.58" cy="155.43" r="2.6" fill="#fff" stroke="#000" stroke-width="1"/>
<circle cx="283.32" cy="142.31" r="2.6" fill="#fff" stroke="#000" stroke-width="1"/>
<circle cx="287.97" cy="127.76" r="2.6" fill="#fff" stroke="#000" stroke-width="1"/>
<circle cx="292.53" cy="132.88" r="2.6" fill="#fff" stroke="#000" stroke-width="1"/>
<circle cx="297.00" cy="146.31" r="2.6" fill="#fff" stroke="#000" stroke-width="1"/>
<circle cx="301.40" cy="99.13" r="2.6" fill="#fff" stroke="#000" stroke-width="1"/>
<circle cx="305.71" cy="154.47" r="2.6" fill="#fff" stroke="#000" stroke-width="1"/>
<circle cx="309.95" cy="134.48" r="2.6" fill="#fff" stroke="#000" stroke-width="1"/>
<circle cx="314.12" cy="160.07" r="2.6" fill="#fff" stroke="#000" stroke-width="1"/>
<circle cx="318.21" cy="152.39" r="2.6" fill="#fff" stroke="#000" stroke-width="1"/>
<circle cx="322.24" cy="187.10" r="2.6" fill="#fff" stroke="#000" stroke-width="1"/>
<path d="M196.3 256.3V272.6H331.9V256.3M264 272.6V285.9H332" stroke="#1a1a1a" stroke-width="1.3" fill="none"/>
<path d="M327.6 283.3L332.6 285.9L327.6 288.5" stroke="#1a1a1a" stroke-width="1.3" fill="none"/>
<rect x="56.3" y="4.4" width="677.9" height="329.9" fill="none" stroke="#000" stroke-width="1.1"/>
<path d="M51.2 334.30H56.3M51.2 287.17H56.3M51.2 240.04H56.3M51.2 192.91H56.3M51.2 145.79H56.3M51.2 98.66H56.3M51.2 51.53H56.3M51.2 4.40H56.3M56.20 334V339.4M179.28 334V339.4M260.35 334V339.4M292.53 334V339.4M320.91 334V339.4M346.29 334V339.4M513.30 334V339.4M611.00 334V339.4M680.32 334V339.4M125.52 334V337M223.21 334V337M734.08 334V337" stroke="#000" stroke-width="1.1" fill="none"/>
<text x="17.65" y="338.40" font-size="10.6" textLength="31.09" lengthAdjust="spacingAndGlyphs" fill="#000">10000</text>
<text x="17.65" y="291.27" font-size="10.6" textLength="31.09" lengthAdjust="spacingAndGlyphs" fill="#000">10500</text>
<text x="17.65" y="244.14" font-size="10.6" textLength="31.09" lengthAdjust="spacingAndGlyphs" fill="#000">11000</text>
<text x="17.65" y="197.01" font-size="10.6" textLength="31.09" lengthAdjust="spacingAndGlyphs" fill="#000">11500</text>
<text x="17.65" y="149.89" font-size="10.6" textLength="31.09" lengthAdjust="spacingAndGlyphs" fill="#000">12000</text>
<text x="17.65" y="102.76" font-size="10.6" textLength="31.09" lengthAdjust="spacingAndGlyphs" fill="#000">12500</text>
<text x="17.65" y="55.63" font-size="10.6" textLength="31.09" lengthAdjust="spacingAndGlyphs" fill="#000">13000</text>
<text x="17.65" y="8.50" font-size="10.6" textLength="31.09" lengthAdjust="spacingAndGlyphs" fill="#000">13500</text>
<text x="48.87" y="349.70" font-size="10.6" textLength="15.31" lengthAdjust="spacingAndGlyphs" fill="#000">0.3</text>
<text x="171.95" y="349.70" font-size="10.6" textLength="15.29" lengthAdjust="spacingAndGlyphs" fill="#000">0.5</text>
<text x="253.02" y="349.70" font-size="10.6" textLength="15.39" lengthAdjust="spacingAndGlyphs" fill="#000">0.7</text>
<text x="285.20" y="349.70" font-size="10.6" textLength="15.31" lengthAdjust="spacingAndGlyphs" fill="#000">0.8</text>
<text x="313.58" y="349.70" font-size="10.6" textLength="15.35" lengthAdjust="spacingAndGlyphs" fill="#000">0.9</text>
<text x="338.53" y="349.70" font-size="10.6" textLength="15.70" lengthAdjust="spacingAndGlyphs" fill="#000">1.0</text>
<text x="505.85" y="349.70" font-size="10.6" textLength="15.39" lengthAdjust="spacingAndGlyphs" fill="#000">2.0</text>
<text x="603.68" y="349.70" font-size="10.6" textLength="15.25" lengthAdjust="spacingAndGlyphs" fill="#000">3.0</text>
<text x="673.17" y="349.70" font-size="10.6" textLength="15.07" lengthAdjust="spacingAndGlyphs" fill="#000">4.0</text>
<text x="349.15" y="362.50" font-size="10.5" textLength="65.05" lengthAdjust="spacingAndGlyphs" fill="#000">Wavelength</text>
<text x="417.49" y="362.50" font-size="10.5" textLength="3.27" lengthAdjust="spacingAndGlyphs" fill="#000">(</text>
<text x="421.45" y="362.50" font-size="10.5" textLength="6.54" lengthAdjust="spacingAndGlyphs" font-style="italic" fill="#000">μ</text>
<text x="428.26" y="362.50" font-size="10.5" textLength="10.58" lengthAdjust="spacingAndGlyphs" fill="#000">m</text>
<text x="439.84" y="362.50" font-size="10.5" textLength="3.27" lengthAdjust="spacingAndGlyphs" fill="#000">)</text>
<g transform="translate(10.3 213.2) rotate(-90)"><text x="1.15" y="0.00" font-size="10.4" textLength="4.02" lengthAdjust="spacingAndGlyphs">(</text><text x="5.95" y="0.00" font-size="10.6" textLength="5.79" lengthAdjust="spacingAndGlyphs" font-style="italic">R</text><text x="12.18" y="2.20" font-size="8.0" textLength="3.95" lengthAdjust="spacingAndGlyphs" font-style="italic">p</text><text x="15.60" y="0.00" font-size="10.4" textLength="3.80" lengthAdjust="spacingAndGlyphs">/</text><text x="19.82" y="0.00" font-size="10.6" textLength="6.67" lengthAdjust="spacingAndGlyphs" font-style="italic">R</text><text x="27.78" y="2.20" font-size="8.2" textLength="13.64" lengthAdjust="spacingAndGlyphs" font-style="italic">star</text><text x="43.64" y="0.00" font-size="10.4" textLength="3.27" lengthAdjust="spacingAndGlyphs">)</text><text x="47.40" y="-3.20" font-size="8.4" textLength="4.39" lengthAdjust="spacingAndGlyphs">2</text><text x="56.12" y="0.00" font-size="10.9" textLength="32.65" lengthAdjust="spacingAndGlyphs">(ppm)</text></g>
<rect x="61.7" y="9.6" width="274.6" height="31.6" rx="2.5" fill="#fff" fill-opacity="0.8" stroke="#d0d0d0" stroke-width="1"/>
<path d="M64.9 17.6H86.5" stroke="#5b8ee6" stroke-width="1.4"/>
<circle cx="75.7" cy="33.1" r="2.6" fill="#fff" stroke="#000" stroke-width="1"/>
<text x="93.62" y="21.00" font-size="10.5" textLength="80.64" lengthAdjust="spacingAndGlyphs" fill="#000">petitRADTRANS:</text>
<text x="178.46" y="21.00" font-size="10.5" textLength="75.38" lengthAdjust="spacingAndGlyphs" fill="#000">Disequilibrium,</text>
<text x="257.15" y="21.00" font-size="10.5" textLength="13.29" lengthAdjust="spacingAndGlyphs" fill="#000">No</text>
<text x="273.30" y="21.00" font-size="10.5" textLength="17.09" lengthAdjust="spacingAndGlyphs" fill="#000">Na,</text>
<text x="292.49" y="21.00" font-size="10.5" textLength="10.51" lengthAdjust="spacingAndGlyphs" fill="#000">K,</text>
<text x="306.37" y="21.00" font-size="10.5" textLength="24.90" lengthAdjust="spacingAndGlyphs" fill="#000">Clear</text>
<text x="93.73" y="35.50" font-size="10.5" textLength="79.86" lengthAdjust="spacingAndGlyphs" fill="#000">Magellan/IMACS</text>
<rect x="382" y="179" width="338.5" height="132" fill="#fff"/>
<defs><clipPath id="insclip"><rect x="382" y="179" width="338.5" height="132"/></clipPath></defs><g clip-path="url(#insclip)" fill="none" stroke-linejoin="round"><g stroke="#a8d8e0" stroke-opacity="0.16" stroke-width="1.4"><path d="M381 266.8 382 266.8 384 266.1 384 265.9 386 263.3 388 259.9 391 257.7 393 255.8 394 255.9 396 256.6 398 256.9 398 257.6 401 259.3 402 260.0 404 261.1 406 262.8 406 263.0 408 264.4 410 261.1 411 259.9 412 256.3 414 255.5 414 255.0 416 255.6 418 256.2 418 256.3 421 256.6 422 256.7 424 256.5 424 256.4 426 253.8 426 252.9 428 244.8 430 239.2 431 238.7 432 237.4 434 237.4 436 237.4 438 238.6 440 239.3 441 240.3 444 242.8 446 246.0 447 247.3 448 248.6 450 249.8 451 250.5 454 252.2 454 252.2 456 253.2 457 253.6 458 253.4 461 253.0 462 252.7 464 252.5 466 252.0 468 251.5 470 251.3 471 249.4 472 248.2 474 246.3 475 244.5 476 243.5 478 241.2 478 241.1 481 240.2 482 239.8 484 240.1 486 240.6 487 240.9 488 241.3 490 241.8 491 242.1 494 242.9 495 243.4 496 244.1 498 245.8 500 246.9 501 247.1 504 247.7 506 248.4 507 248.7 508 248.4 511 248.2 514 246.9 514 246.5 516 243.5 518 240.6 518 239.7 521 236.8 521 236.4 524 235.4 526 234.0 527 233.6 528 232.6 531 231.2 532 230.7 534 228.4 536 225.5 536 224.5 538 220.2 538 219.3 541 214.9 541 214.9 544 214.8 544 214.8 546 215.9 548 217.6 550 218.7 551 219.2 554 220.5 556 221.7 557 222.2 558 223.6 561 225.9 562 226.9 564 227.6 566 228.8 567 229.4 568 229.7 571 230.4 573 230.9 574 231.1 576 231.7 578 232.4 578 232.5 581 233.2 583 234.0 584 234.0 586 234.7 588 235.2 589 235.3 591 235.3 593 235.2 594 235.1 596 234.0 597 233.6 598 233.0 601 231.9 604 230.9 604 230.6 606 229.3 608 227.7 610 227.0 611 225.9 614 224.0 615 223.0 616 222.2 618 220.5 620 219.3 621 219.0 624 218.2 626 217.3 626 217.3 628 217.3 630 217.3 631 217.5 634 218.0 635 218.4 636 218.1 638 217.4 640 217.0 641 217.0 644 217.4 646 217.9 646 217.9 648 218.7 651 219.4 651 219.4 654 219.2 656 219.0 656 218.9 658 219.0 661 219.0 662 219.0 664 218.3 666 217.3 667 216.8 668 215.9 671 214.4 672 213.8 674 213.0 676 211.9 678 211.3 678 211.2 681 210.6 684 210.1 684 210.0 686 209.9 688 209.7 688 209.7 691 209.0 692 208.6 694 209.0 696 209.3 696 209.2 698 208.4 701 207.8 703 207.6 704 207.4 706 207.1 708 206.9 710 206.8 711 206.7 713 206.9 714 206.4 716 204.0 718 198.8 720 196.8 721 193.4"/><path d="M381 281.4 382 281.4 384 280.6 384 280.3 386 277.5 388 273.9 391 271.3 393 269.3 394 269.5 396 270.2 398 270.6 398 271.4 401 273.4 402 274.1 404 275.4 406 277.1 406 277.2 408 278.4 410 274.7 411 273.4 412 269.4 414 268.3 414 267.7 416 267.7 418 267.8 418 267.8 421 267.8 422 267.8 424 267.7 424 267.7 426 265.3 426 264.5 428 256.9 430 251.8 431 251.5 432 250.6 434 250.9 436 251.5 438 253.1 440 254.0 441 255.0 444 257.5 446 260.6 447 261.8 448 262.9 450 264.1 451 264.7 454 266.1 454 266.2 456 266.9 457 267.2 458 266.8 461 266.1 462 265.7 464 265.3 466 264.4 468 263.5 470 263.1 471 261.1 472 259.7 474 257.7 475 255.9 476 254.9 478 252.7 478 252.7 481 251.9 482 251.7 484 252.1 486 252.9 487 253.2 488 253.7 490 254.3 491 254.8 494 255.7 495 256.2 496 257.0 498 258.9 500 260.1 501 260.5 504 261.4 506 262.4 507 262.8 508 262.7 511 262.4 514 260.9 514 260.4 516 257.0 518 253.6 518 252.5 521 248.8 521 248.4 524 246.7 526 244.8 527 244.4 528 243.3 531 242.0 532 241.6 534 239.6 536 237.2 536 236.2 538 232.4 538 231.6 541 227.7 541 227.7 544 227.7 544 227.7 546 228.8 548 230.2 550 231.1 551 231.5 554 232.4 556 233.5 557 234.1 558 235.5 561 238.0 562 239.1 564 240.0 566 241.5 567 242.2 568 242.6 571 243.3 573 243.6 574 243.7 576 244.0 578 244.3 578 244.4 581 244.7 583 245.2 584 245.3 586 245.8 588 246.4 589 246.5 591 246.7 593 246.9 594 246.8 596 246.0 597 245.6 598 245.1 601 244.1 604 243.1 604 242.8 606 241.5 608 239.8 610 239.1 611 237.9 614 236.0 615 234.9 616 234.1 618 232.2 620 230.8 621 230.5 624 229.3 626 228.2 626 228.1 628 227.8 630 227.6 631 227.7 634 228.2 635 228.5 636 228.3 638 227.9 640 227.7 641 227.9 644 228.6 646 229.3 646 229.3 648 230.2 651 230.9 651 230.9 654 230.9 656 230.8 656 230.8 658 231.0 661 231.3 662 231.5 664 231.1 666 230.7 667 230.6 668 230.1 671 229.3 672 228.9 674 228.5 676 227.6 678 226.7 678 226.6 681 225.5 684 224.5 684 224.2 686 223.7 688 223.1 688 223.0 691 222.2 692 221.9 694 222.4 696 223.1 696 223.1 698 223.0 701 222.9 703 222.8 704 222.8 706 222.5 708 222.1 710 221.9 711 221.7 713 221.4 714 220.8 716 217.5 718 211.6 720 209.3 721 205.5"/><path d="M381 278.1 382 277.9 384 277.0 384 276.6 386 273.7 388 270.3 391 268.0 393 266.4 394 266.6 396 267.6 398 268.2 398 269.0 401 271.0 402 271.8 404 273.0 406 274.7 406 274.9 408 276.1 410 272.6 411 271.4 412 267.7 414 266.8 414 266.3 416 266.7 418 267.2 418 267.3 421 267.6 422 267.6 424 267.3 424 267.2 426 264.5 426 263.5 428 255.3 430 249.4 431 248.9 432 247.4 434 247.4 436 247.3 438 248.6 440 249.5 441 250.6 444 253.6 446 257.3 447 258.8 448 260.3 450 261.8 451 262.6 454 264.2 454 264.3 456 265.0 457 265.3 458 264.8 461 263.8 462 263.3 464 262.9 466 262.2 468 261.5 470 261.3 471 259.6 472 258.4 474 256.6 475 254.9 476 253.9 478 251.7 478 251.7 481 250.7 482 250.2 484 250.4 486 250.6 487 250.7 488 251.1 490 251.5 491 251.9 494 252.9 495 253.6 496 254.5 498 256.8 500 258.1 501 258.6 504 259.5 506 260.3 507 260.5 508 260.1 511 259.4 514 257.5 514 256.9 516 253.4 518 250.2 518 249.1 521 246.0 521 245.7 524 244.6 526 243.4 527 243.2 528 242.4 531 241.3 532 240.9 534 238.7 536 235.9 536 234.8 538 230.6 538 229.6 541 225.2 541 225.2 544 225.0 544 225.0 546 226.1 548 227.9 550 229.1 551 229.7 554 231.2 556 232.6 557 233.2 558 234.5 561 236.6 562 237.5 564 238.0 566 238.8 567 239.3 568 239.4 571 239.8 573 240.2 574 240.4 576 241.1 578 241.8 578 241.9 581 242.8 583 243.7 584 243.7 586 244.3 588 244.8 589 244.9 591 244.9 593 244.9 594 244.7 596 243.8 597 243.4 598 243.0 601 242.3 604 241.7 604 241.5 606 240.4 608 238.7 610 238.0 611 236.7 614 234.2 615 232.7 616 231.6 618 229.1 620 227.5 621 227.1 624 225.9 626 225.2 626 225.2 628 225.7 630 226.0 631 226.5 634 227.8 635 228.5 636 228.4 638 228.1 640 227.6 641 227.6 644 227.7 646 227.6 646 227.6 648 227.8 651 228.2 651 228.2 654 228.1 656 228.3 656 228.3 658 228.9 661 229.6 662 229.8 664 229.6 666 229.1 667 228.8 668 228.1 671 226.9 672 226.4 674 225.8 676 224.8 678 224.1 678 224.0 681 223.6 684 223.2 684 223.1 686 223.1 688 223.0 688 223.0 691 222.4 692 222.1 694 222.4 696 222.8 696 222.7 698 222.1 701 221.5 703 221.2 704 221.1 706 220.8 708 220.6 710 220.5 711 220.4 713 220.2 714 219.5 716 216.2 718 210.0 720 207.4 721 203.3"/><path d="M381 278.1 382 278.2 384 277.5 384 277.3 386 274.9 388 271.8 391 269.8 393 268.2 394 268.4 396 269.3 398 269.9 398 270.6 401 272.4 402 273.1 404 274.2 406 275.7 406 275.8 408 276.7 410 272.8 411 271.5 412 267.5 414 266.3 414 265.8 416 265.8 418 265.9 418 265.8 421 265.8 422 265.8 424 265.6 424 265.6 426 263.1 426 262.3 428 254.6 430 249.5 431 249.2 432 248.3 434 248.6 436 249.3 438 251.1 440 252.2 441 253.2 444 255.8 446 258.8 447 260.0 448 261.0 450 261.9 451 262.3 454 263.4 454 263.4 456 263.9 457 264.1 458 263.7 461 263.1 462 262.9 464 262.7 466 262.5 468 262.4 470 262.3 471 260.8 472 259.6 474 257.9 475 256.3 476 255.3 478 253.1 478 253.1 481 252.0 482 251.5 484 251.6 486 251.6 487 251.6 488 251.8 490 252.1 491 252.3 494 252.8 495 253.2 496 253.9 498 255.7 500 256.8 501 257.1 504 258.0 506 259.1 507 259.5 508 259.5 511 259.4 514 258.2 514 257.9 516 254.8 518 251.8 518 250.8 521 247.8 521 247.4 524 246.2 526 244.7 527 244.3 528 243.2 531 241.8 532 241.3 534 239.1 536 236.4 536 235.3 538 231.2 538 230.3 541 226.1 541 226.1 544 226.0 544 226.0 546 227.0 548 228.5 550 229.4 551 229.8 554 230.8 556 231.8 557 232.2 558 233.4 561 235.6 562 236.6 564 237.2 566 238.5 567 239.2 568 239.6 571 240.5 573 241.1 574 241.3 576 242.2 578 242.9 578 243.0 581 243.8 583 244.5 584 244.6 586 245.1 588 245.5 589 245.6 591 245.5 593 245.4 594 245.3 596 244.2 597 243.8 598 243.2 601 242.2 604 241.3 604 241.1 606 239.9 608 238.3 610 237.6 611 236.5 614 234.6 615 233.5 616 232.7 618 230.8 620 229.5 621 229.1 624 228.0 626 227.1 626 227.0 628 226.8 630 226.7 631 226.8 634 227.2 635 227.4 636 227.1 638 226.3 640 225.7 641 225.7 644 226.0 646 226.4 646 226.5 648 227.3 651 228.3 651 228.3 654 228.8 656 229.3 656 229.4 658 230.1 661 231.0 662 231.2 664 231.0 666 230.7 667 230.4 668 229.8 671 228.5 672 228.0 674 227.3 676 226.0 678 224.9 678 224.7 681 223.6 684 222.6 684 222.5 686 222.1 688 221.8 688 221.7 691 221.1 692 220.9 694 221.5 696 222.3 696 222.3 698 222.2 701 222.1 703 222.1 704 222.0 706 221.7 708 221.4 710 221.2 711 220.9 713 220.5 714 219.8 716 216.2 718 209.9 720 207.4 721 203.3"/><path d="M381 275.2 382 275.3 384 274.6 384 274.4 386 271.8 388 268.5 391 266.3 393 264.4 394 264.5 396 265.1 398 265.5 398 266.2 401 267.8 402 268.5 404 269.6 406 271.2 406 271.3 408 272.5 410 268.9 411 267.6 412 263.9 414 262.9 414 262.4 416 262.7 418 263.0 418 263.0 421 263.2 422 263.2 424 263.0 424 262.9 426 260.4 426 259.5 428 251.7 430 246.3 431 245.9 432 244.8 434 245.0 436 245.4 438 246.9 440 247.9 441 248.9 444 251.5 446 254.7 447 255.9 448 257.1 450 258.2 451 258.7 454 260.2 454 260.2 456 261.0 457 261.3 458 261.0 461 260.5 462 260.3 464 260.1 466 259.7 468 259.2 470 259.0 471 257.3 472 256.0 474 254.1 475 252.2 476 251.1 478 248.6 478 248.6 481 247.3 482 246.8 484 246.9 486 247.1 487 247.3 488 247.6 490 248.1 491 248.4 494 249.4 495 249.9 496 250.9 498 253.0 500 254.3 501 254.7 504 255.8 506 256.9 507 257.3 508 257.2 511 257.0 514 255.6 514 255.2 516 251.9 518 248.8 518 247.7 521 244.4 521 244.0 524 242.5 526 240.8 527 240.4 528 239.2 531 237.7 532 237.1 534 234.9 536 232.1 536 231.1 538 226.9 538 226.0 541 221.9 541 221.9 544 221.9 544 221.9 546 223.1 548 224.9 550 225.9 551 226.4 554 227.7 556 228.9 557 229.4 558 230.8 561 233.2 562 234.2 564 234.9 566 236.2 567 236.9 568 237.2 571 238.0 573 238.5 574 238.6 576 239.2 578 239.7 578 239.8 581 240.3 583 240.9 584 240.9 586 241.4 588 241.8 589 241.9 591 242.0 593 242.0 594 241.9 596 241.1 597 240.7 598 240.2 601 239.4 604 238.5 604 238.2 606 237.0 608 235.2 610 234.4 611 233.1 614 230.8 615 229.6 616 228.6 618 226.5 620 225.0 621 224.7 624 223.6 626 222.8 626 222.9 628 223.1 630 223.2 631 223.7 634 224.7 635 225.4 636 225.3 638 225.1 640 224.9 641 225.0 644 225.5 646 225.9 646 226.0 648 226.5 651 226.9 651 226.9 654 226.5 656 226.1 656 226.1 658 226.1 661 226.1 662 226.1 664 225.5 666 224.7 667 224.4 668 223.8 671 222.7 672 222.3 674 221.8 676 221.1 678 220.6 678 220.5 681 220.1 684 219.7 684 219.7 686 219.6 688 219.5 688 219.4 691 218.8 692 218.6 694 219.0 696 219.5 696 219.4 698 218.9 701 218.4 703 218.2 704 218.0 706 217.6 708 217.2 710 217.0 711 216.8 713 216.5 714 215.9 716 212.8 718 206.9 720 204.6 721 200.7"/><path d="M381 281.6 382 281.7 384 281.1 384 280.9 386 278.4 388 275.4 391 273.4 393 271.8 394 272.0 396 272.9 398 273.4 398 274.1 401 276.1 402 276.8 404 278.0 406 279.8 406 280.0 408 281.4 410 277.9 411 276.6 412 272.9 414 271.9 414 271.4 416 271.6 418 271.8 418 271.8 421 271.6 422 271.6 424 271.1 424 270.9 426 268.1 426 267.2 428 259.2 430 253.6 431 253.3 432 252.2 434 252.4 436 252.9 438 254.6 440 255.7 441 256.8 444 259.5 446 262.6 447 263.9 448 264.9 450 265.9 451 266.3 454 267.4 454 267.4 456 267.8 457 268.0 458 267.5 461 266.9 462 266.6 464 266.4 466 266.2 468 266.0 470 266.0 471 264.4 472 263.3 474 261.6 475 260.1 476 259.1 478 256.9 478 256.9 481 255.9 482 255.5 484 255.7 486 256.0 487 256.1 488 256.5 490 256.9 491 257.2 494 258.1 495 258.5 496 259.4 498 261.2 500 262.3 501 262.5 504 263.1 506 263.6 507 263.8 508 263.4 511 262.8 514 261.1 514 260.6 516 257.3 518 254.2 518 253.3 521 250.3 521 250.0 524 249.0 526 247.8 527 247.5 528 246.7 531 245.6 532 245.2 534 243.0 536 240.3 536 239.3 538 235.1 538 234.1 541 229.8 541 229.8 544 229.6 544 229.5 546 230.6 548 232.2 550 233.2 551 233.7 554 234.9 556 236.2 557 236.7 558 238.1 561 240.5 562 241.5 564 242.2 566 243.4 567 244.0 568 244.3 571 244.9 573 245.4 574 245.5 576 246.0 578 246.5 578 246.6 581 247.1 583 247.6 584 247.6 586 247.9 588 248.1 589 248.1 591 248.0 593 247.8 594 247.7 596 246.7 597 246.3 598 245.9 601 245.2 604 244.6 604 244.5 606 243.6 608 242.3 610 241.8 611 240.8 614 238.9 615 237.8 616 236.9 618 234.8 620 233.2 621 232.8 624 231.3 626 230.1 626 230.0 628 229.7 630 229.5 631 229.8 634 230.4 635 230.8 636 230.6 638 230.2 640 229.9 641 230.1 644 230.6 646 231.0 646 231.0 648 231.6 651 232.1 651 232.1 654 232.0 656 232.0 656 231.9 658 232.2 661 232.6 662 232.8 664 232.4 666 231.9 667 231.7 668 231.2 671 230.1 672 229.7 674 229.1 676 228.2 678 227.5 678 227.3 681 226.6 684 226.0 684 225.9 686 225.8 688 225.7 688 225.7 691 225.3 692 225.2 694 225.8 696 226.6 696 226.6 698 226.4 701 226.0 703 225.7 704 225.5 706 224.8 708 224.0 710 223.6 711 223.1 713 222.5 714 221.7 716 218.1 718 211.9 720 209.4 721 205.4"/><path d="M381 283.0 382 282.9 384 282.1 384 281.9 386 279.3 388 276.2 391 274.2 393 272.5 394 272.7 396 273.7 398 274.2 398 275.0 401 276.9 402 277.6 404 278.8 406 280.5 406 280.7 408 282.0 410 278.5 411 277.2 412 273.5 414 272.5 414 272.0 416 272.2 418 272.4 418 272.4 421 272.3 422 272.3 424 271.8 424 271.6 426 268.9 426 268.0 428 259.9 430 254.3 431 253.9 432 252.8 434 253.0 436 253.5 438 255.4 440 256.5 441 257.6 444 260.5 446 263.8 447 265.0 448 266.1 450 267.2 451 267.6 454 268.7 454 268.7 456 269.1 457 269.2 458 268.7 461 268.0 462 267.7 464 267.5 466 267.2 468 267.0 470 267.0 471 265.4 472 264.3 474 262.6 475 261.0 476 260.0 478 257.7 478 257.7 481 256.5 482 256.0 484 256.1 486 256.2 487 256.2 488 256.5 490 256.9 491 257.1 494 257.9 495 258.4 496 259.3 498 261.3 500 262.6 501 262.9 504 263.9 506 264.8 507 265.2 508 265.0 511 264.6 514 263.1 514 262.7 516 259.3 518 256.2 518 255.1 521 251.9 521 251.5 524 250.1 526 248.5 527 248.1 528 247.0 531 245.6 532 245.1 534 242.9 536 240.2 536 239.2 538 235.2 538 234.3 541 230.3 541 230.3 544 230.5 544 230.6 546 231.9 548 233.8 550 234.9 551 235.3 554 236.4 556 237.3 557 237.6 558 238.7 561 240.6 562 241.4 564 241.9 566 242.9 567 243.5 568 243.8 571 244.6 573 245.3 574 245.5 576 246.6 578 247.4 578 247.6 581 248.5 583 249.3 584 249.3 586 249.7 588 250.0 589 250.0 591 249.7 593 249.4 594 249.2 596 248.0 597 247.5 598 247.0 601 246.1 604 245.4 604 245.2 606 244.2 608 242.7 610 242.1 611 241.0 614 238.9 615 237.7 616 236.8 618 234.6 620 233.1 621 232.7 624 231.5 626 230.5 626 230.5 628 230.5 630 230.5 631 230.8 634 231.6 635 232.0 636 231.8 638 231.3 640 230.8 641 230.8 644 231.0 646 231.2 646 231.2 648 231.7 651 232.2 651 232.3 654 232.4 656 232.7 656 232.8 658 233.4 661 234.1 662 234.4 664 234.1 666 233.6 667 233.3 668 232.5 671 231.1 672 230.5 674 229.6 676 228.3 678 227.4 678 227.2 681 226.5 684 226.1 684 226.1 686 226.2 688 226.5 688 226.5 691 226.3 692 226.2 694 226.8 696 227.4 696 227.3 698 226.8 701 226.0 703 225.4 704 225.0 706 224.1 708 223.3 710 223.0 711 222.7 713 222.5 714 221.9 716 218.9 718 213.2 720 211.0 721 207.2"/><path d="M381 281.2 382 281.1 384 280.4 384 280.1 386 277.4 388 274.0 391 271.8 393 270.0 394 270.2 396 271.0 398 271.5 398 272.2 401 274.1 402 274.8 404 276.0 406 277.7 406 277.9 408 279.1 410 275.6 411 274.3 412 270.5 414 269.5 414 269.0 416 269.3 418 269.6 418 269.6 421 269.8 422 269.8 424 269.6 424 269.5 426 266.9 426 266.1 428 258.2 430 252.7 431 252.4 432 251.3 434 251.4 436 251.7 438 253.1 440 254.0 441 255.0 444 257.5 446 260.6 447 261.8 448 262.9 450 264.1 451 264.6 454 266.0 454 266.1 456 266.8 457 267.1 458 266.8 461 266.3 462 266.0 464 265.8 466 265.3 468 264.8 470 264.5 471 262.8 472 261.5 474 259.6 475 257.9 476 256.8 478 254.5 478 254.5 481 253.6 482 253.2 484 253.5 486 254.0 487 254.3 488 254.8 490 255.3 491 255.7 494 256.6 495 257.1 496 257.9 498 259.7 500 260.7 501 260.9 504 261.5 506 262.1 507 262.4 508 262.1 511 261.6 514 260.1 514 259.7 516 256.4 518 253.4 518 252.4 521 249.3 521 249.0 524 247.8 526 246.3 527 246.0 528 245.0 531 243.7 532 243.2 534 241.1 536 238.4 536 237.4 538 233.4 538 232.5 541 228.4 541 228.4 544 228.5 544 228.6 546 229.7 548 231.4 550 232.4 551 232.9 554 233.9 556 234.8 557 235.2 558 236.3 561 238.3 562 239.2 564 239.8 566 240.9 567 241.5 568 241.8 571 242.6 573 243.2 574 243.5 576 244.3 578 245.1 578 245.2 581 246.0 583 246.8 584 246.8 586 247.3 588 247.7 589 247.7 591 247.6 593 247.5 594 247.4 596 246.3 597 245.8 598 245.3 601 244.5 604 243.7 604 243.4 606 242.3 608 240.8 610 240.1 611 239.0 614 236.9 615 235.7 616 234.8 618 232.5 620 231.0 621 230.6 624 229.2 626 228.1 626 228.1 628 227.9 630 227.9 631 228.2 634 229.0 635 229.6 636 229.5 638 229.3 640 229.2 641 229.3 644 229.9 646 230.4 646 230.5 648 231.0 651 231.5 651 231.5 654 231.3 656 231.0 656 231.0 658 231.1 661 231.4 662 231.5 664 231.1 666 230.6 667 230.4 668 230.0 671 229.1 672 228.7 674 228.3 676 227.6 678 226.9 678 226.7 681 226.0 684 225.2 684 225.0 686 224.6 688 224.2 688 224.2 691 223.4 692 223.2 694 223.6 696 224.3 696 224.3 698 224.2 701 224.1 703 224.1 704 224.0 706 223.8 708 223.4 710 223.1 711 222.8 713 222.3 714 221.6 716 217.9 718 211.5 720 208.9 721 204.8"/><path d="M381 292.2 382 292.2 384 291.5 384 291.3 386 288.6 388 285.3 391 283.0 393 281.2 394 281.4 396 282.1 398 282.6 398 283.3 401 285.2 402 286.0 404 287.1 406 288.9 406 289.0 408 290.4 410 286.8 411 285.6 412 281.8 414 280.8 414 280.3 416 280.6 418 280.8 418 280.8 421 280.7 422 280.7 424 280.4 424 280.2 426 277.5 426 276.6 428 268.5 430 262.9 431 262.5 432 261.3 434 261.4 436 261.6 438 263.0 440 263.9 441 264.9 444 267.5 446 270.7 447 272.0 448 273.2 450 274.4 451 275.0 454 276.5 454 276.5 456 277.4 457 277.7 458 277.5 461 277.1 462 276.8 464 276.7 466 276.3 468 275.9 470 275.7 471 273.9 472 272.6 474 270.7 475 268.9 476 267.8 478 265.3 478 265.3 481 264.0 482 263.5 484 263.6 486 263.8 487 263.9 488 264.2 490 264.6 491 264.9 494 265.7 495 266.2 496 267.0 498 268.9 500 270.1 501 270.4 504 271.2 506 272.0 507 272.3 508 272.1 511 271.7 514 270.3 514 269.8 516 266.6 518 263.4 518 262.5 521 259.3 521 259.0 524 257.7 526 256.3 527 256.0 528 255.1 531 253.9 532 253.4 534 251.4 536 248.8 536 247.8 538 243.7 538 242.8 541 238.7 541 238.7 544 238.6 544 238.5 546 239.5 548 240.9 550 241.8 551 242.1 554 242.9 556 243.7 557 244.0 558 245.2 561 247.2 562 248.1 564 248.8 566 249.9 567 250.6 568 250.9 571 251.8 573 252.4 574 252.6 576 253.4 578 254.2 578 254.3 581 255.2 583 256.0 584 256.0 586 256.7 588 257.3 589 257.4 591 257.5 593 257.6 594 257.5 596 256.5 597 256.1 598 255.6 601 254.6 604 253.4 604 253.1 606 251.7 608 249.7 610 248.8 611 247.4 614 244.9 615 243.5 616 242.5 618 240.2 620 238.6 621 238.2 624 237.0 626 236.1 626 236.1 628 236.1 630 236.2 631 236.6 634 237.4 635 238.0 636 237.9 638 237.5 640 237.3 641 237.4 644 237.9 646 238.3 646 238.3 648 238.9 651 239.5 651 239.5 654 239.4 656 239.3 656 239.3 658 239.5 661 239.8 662 239.9 664 239.4 666 238.7 667 238.4 668 237.8 671 236.6 672 236.1 674 235.5 676 234.6 678 233.8 678 233.7 681 232.9 684 232.2 684 232.1 686 231.8 688 231.5 688 231.4 691 230.7 692 230.4 694 230.8 696 231.4 696 231.4 698 231.1 701 230.7 703 230.5 704 230.4 706 230.1 708 229.8 710 229.7 711 229.5 713 229.2 714 228.5 716 225.2 718 219.0 720 216.6 721 212.5"/><path d="M381 275.1 382 275.0 384 274.1 384 273.8 386 270.8 388 267.1 391 264.5 393 262.6 394 262.8 396 263.6 398 264.2 398 265.1 401 267.3 402 268.1 404 269.5 406 271.5 406 271.7 408 273.1 410 269.6 411 268.3 412 264.5 414 263.4 414 262.9 416 263.0 418 263.1 418 263.1 421 263.1 422 263.1 424 262.8 424 262.7 426 260.2 426 259.3 428 251.5 430 246.1 431 245.8 432 244.7 434 244.8 436 245.1 438 246.4 440 247.2 441 248.1 444 250.5 446 253.5 447 254.8 448 255.9 450 257.2 451 257.8 454 259.6 454 259.6 456 260.8 457 261.2 458 261.1 461 260.9 462 260.6 464 260.4 466 259.8 468 259.0 470 258.6 471 256.5 472 255.1 474 252.9 475 250.9 476 249.7 478 247.3 478 247.2 481 246.3 482 246.0 484 246.5 486 247.4 487 247.8 488 248.5 490 249.2 491 249.7 494 250.9 495 251.4 496 252.2 498 253.9 500 254.8 501 254.9 504 255.3 506 255.7 507 256.0 508 255.6 511 255.2 514 253.9 514 253.5 516 250.4 518 247.4 518 246.5 521 243.5 521 243.2 524 242.0 526 240.4 527 240.0 528 239.0 531 237.5 532 237.0 534 234.8 536 232.2 536 231.2 538 227.2 538 226.4 541 222.4 541 222.4 544 222.7 544 222.7 546 223.9 548 225.6 550 226.5 551 226.9 554 227.6 556 228.3 557 228.6 558 229.7 561 231.7 562 232.7 564 233.4 566 234.9 567 235.8 568 236.3 571 237.5 573 238.4 574 238.7 576 239.7 578 240.4 578 240.5 581 240.9 583 241.1 584 241.1 586 241.0 588 240.9 589 240.9 591 240.5 593 240.4 594 240.3 596 239.5 597 239.3 598 239.1 601 238.8 604 238.5 604 238.4 606 237.5 608 236.1 610 235.4 611 234.1 614 231.7 615 230.3 616 229.2 618 226.7 620 225.0 621 224.6 624 223.3 626 222.4 626 222.4 628 222.6 630 222.8 631 223.3 634 224.3 635 225.0 636 224.9 638 224.5 640 224.1 641 224.1 644 224.4 646 224.6 646 224.6 648 225.0 651 225.6 651 225.6 654 225.6 656 225.7 656 225.7 658 226.1 661 226.6 662 226.8 664 226.4 666 225.7 667 225.3 668 224.6 671 223.1 672 222.5 674 221.8 676 220.6 678 219.9 678 219.8 681 219.3 684 219.0 684 218.9 686 219.1 688 219.2 688 219.2 691 218.7 692 218.5 694 218.9 696 219.4 696 219.2 698 218.4 701 217.6 703 217.1 704 216.8 706 216.1 708 215.7 710 215.6 711 215.5 713 215.6 714 215.0 716 212.4 718 207.0 720 204.8 721 201.2"/><path d="M381 270.1 382 270.2 384 269.6 384 269.4 386 266.9 388 263.8 391 261.8 393 260.2 394 260.4 396 261.3 398 261.8 398 262.6 401 264.4 402 265.1 404 266.3 406 267.9 406 268.1 408 269.3 410 265.7 411 264.4 412 260.7 414 259.6 414 259.1 416 259.4 418 259.7 418 259.7 421 259.7 422 259.7 424 259.4 424 259.2 426 256.5 426 255.6 428 247.6 430 242.0 431 241.6 432 240.4 434 240.4 436 240.6 438 242.1 440 243.0 441 244.0 444 246.7 446 250.1 447 251.4 448 252.7 450 254.1 451 254.8 454 256.5 454 256.6 456 257.6 457 257.9 458 257.7 461 257.3 462 257.0 464 256.8 466 256.3 468 255.6 470 255.3 471 253.4 472 252.1 474 250.1 475 248.2 476 247.1 478 244.6 478 244.6 481 243.5 482 243.1 484 243.4 486 243.9 487 244.1 488 244.6 490 245.1 491 245.5 494 246.4 495 246.9 496 247.7 498 249.5 500 250.6 501 250.8 504 251.4 506 252.1 507 252.4 508 252.1 511 251.8 514 250.4 514 250.1 516 247.0 518 244.1 518 243.2 521 240.4 521 240.1 524 239.0 526 237.8 527 237.4 528 236.5 531 235.1 532 234.6 534 232.4 536 229.5 536 228.4 538 224.2 538 223.2 541 218.9 541 218.8 544 218.7 544 218.6 546 219.7 548 221.3 550 222.4 551 222.9 554 224.1 556 225.2 557 225.7 558 227.0 561 229.2 562 230.2 564 230.8 566 231.8 567 232.4 568 232.7 571 233.3 573 233.8 574 233.9 576 234.7 578 235.4 578 235.5 581 236.5 583 237.5 584 237.5 586 238.4 588 239.2 589 239.3 591 239.4 593 239.5 594 239.4 596 238.4 597 237.9 598 237.2 601 236.0 604 234.8 604 234.5 606 233.1 608 231.3 610 230.5 611 229.3 614 227.3 615 226.2 616 225.4 618 223.6 620 222.3 621 222.0 624 221.1 626 220.2 626 220.2 628 220.1 630 219.9 631 220.1 634 220.6 635 221.0 636 220.7 638 220.1 640 219.8 641 219.9 644 220.5 646 221.2 646 221.3 648 222.3 651 223.3 651 223.4 654 223.5 656 223.6 656 223.6 658 223.8 661 223.8 662 223.8 664 223.1 666 221.9 667 221.4 668 220.4 671 218.7 672 218.1 674 217.3 676 216.2 678 215.5 678 215.4 681 214.9 684 214.5 684 214.4 686 214.3 688 214.1 688 214.1 691 213.4 692 213.1 694 213.4 696 213.8 696 213.6 698 212.9 701 212.3 703 212.1 704 212.0 706 211.7 708 211.7 710 211.7 711 211.8 713 212.0 714 211.5 716 209.1 718 203.9 720 201.8 721 198.2"/><path d="M381 284.0 382 283.9 384 283.0 384 282.7 386 279.8 388 276.3 391 274.0 393 272.2 394 272.4 396 273.3 398 273.9 398 274.7 401 276.8 402 277.7 404 279.0 406 280.9 406 281.0 408 282.4 410 278.9 411 277.6 412 273.8 414 272.7 414 272.2 416 272.3 418 272.4 418 272.3 421 272.2 422 272.2 424 271.8 424 271.6 426 269.0 426 268.1 428 260.2 430 254.8 431 254.5 432 253.5 434 253.7 436 254.2 438 256.0 440 257.0 441 258.0 444 260.7 446 263.8 447 265.0 448 266.0 450 267.0 451 267.5 454 268.6 454 268.7 456 269.2 457 269.5 458 269.1 461 268.5 462 268.2 464 268.1 466 267.8 468 267.5 470 267.3 471 265.7 472 264.5 474 262.6 475 260.9 476 259.8 478 257.5 478 257.4 481 256.2 482 255.7 484 255.8 486 256.0 487 256.1 488 256.5 490 256.9 491 257.2 494 258.1 495 258.7 496 259.6 498 261.7 500 263.0 501 263.4 504 264.4 506 265.4 507 265.8 508 265.6 511 265.1 514 263.5 514 263.0 516 259.5 518 256.2 518 255.1 521 251.7 521 251.3 524 249.8 526 248.3 527 247.9 528 247.0 531 245.8 532 245.4 534 243.4 536 240.9 536 239.9 538 236.0 538 235.1 541 231.1 541 231.1 544 231.1 544 231.1 546 232.1 548 233.6 550 234.4 551 234.7 554 235.5 556 236.4 557 236.8 558 238.0 561 240.2 562 241.3 564 242.0 566 243.5 567 244.3 568 244.8 571 245.8 573 246.5 574 246.7 576 247.5 578 248.1 578 248.2 581 248.7 583 249.2 584 249.2 586 249.4 588 249.6 589 249.6 591 249.4 593 249.3 594 249.2 596 248.3 597 247.9 598 247.4 601 246.7 604 246.0 604 245.8 606 244.7 608 243.1 610 242.4 611 241.2 614 239.0 615 237.7 616 236.7 618 234.4 620 232.8 621 232.4 624 231.1 626 230.1 626 230.0 628 230.0 630 230.0 631 230.4 634 231.3 635 231.9 636 231.8 638 231.5 640 231.3 641 231.5 644 232.0 646 232.4 646 232.4 648 233.0 651 233.4 651 233.4 654 233.2 656 233.0 656 233.0 658 233.1 661 233.4 662 233.5 664 233.1 666 232.6 667 232.4 668 231.9 671 231.0 672 230.6 674 230.2 676 229.4 678 228.7 678 228.6 681 227.9 684 227.1 684 226.9 686 226.5 688 226.1 688 226.0 691 225.2 692 224.8 694 225.2 696 225.8 696 225.7 698 225.4 701 225.3 703 225.2 704 225.1 706 225.0 708 224.9 710 224.8 711 224.6 713 224.3 714 223.7 716 220.3 718 214.0 720 211.5 721 207.3"/><path d="M381 298.7 382 298.7 384 298.0 384 297.7 386 295.0 388 291.6 391 289.2 393 287.3 394 287.4 396 288.0 398 288.4 398 289.1 401 290.8 402 291.5 404 292.6 406 294.3 406 294.4 408 295.7 410 292.1 411 290.9 412 287.1 414 286.1 414 285.6 416 285.9 418 286.2 418 286.2 421 286.3 422 286.3 424 286.0 424 285.9 426 283.3 426 282.5 428 274.5 430 269.0 431 268.7 432 267.6 434 267.7 436 268.1 438 269.7 440 270.6 441 271.7 444 274.3 446 277.5 447 278.7 448 279.8 450 280.9 451 281.4 454 282.6 454 282.6 456 283.2 457 283.4 458 282.9 461 282.1 462 281.7 464 281.4 466 280.7 468 280.1 470 279.9 471 278.1 472 276.8 474 275.0 475 273.2 476 272.2 478 270.0 478 270.0 481 269.1 482 268.8 484 269.2 486 269.8 487 270.1 488 270.6 490 271.2 491 271.6 494 272.6 495 273.2 496 274.0 498 275.9 500 276.9 501 277.2 504 277.7 506 278.2 507 278.4 508 277.9 511 277.2 514 275.3 514 274.8 516 271.3 518 268.1 518 267.0 521 263.8 521 263.4 524 262.1 526 260.7 527 260.4 528 259.6 531 258.5 532 258.1 534 256.1 536 253.6 536 252.7 538 248.8 538 247.9 541 243.8 541 243.8 544 243.9 544 243.8 546 244.9 548 246.4 550 247.3 551 247.7 554 248.6 556 249.5 557 249.9 558 251.1 561 253.2 562 254.1 564 254.8 566 255.9 567 256.6 568 256.9 571 257.6 573 258.1 574 258.2 576 258.8 578 259.3 578 259.4 581 259.9 583 260.5 584 260.5 586 260.9 588 261.3 589 261.4 591 261.4 593 261.5 594 261.4 596 260.6 597 260.2 598 259.8 601 259.0 604 258.2 604 257.9 606 256.7 608 254.9 610 254.2 611 252.9 614 250.5 615 249.2 616 248.1 618 245.8 620 244.2 621 243.7 624 242.4 626 241.2 626 241.2 628 241.1 630 241.0 631 241.3 634 242.0 635 242.4 636 242.3 638 241.8 640 241.5 641 241.6 644 242.1 646 242.4 646 242.5 648 243.0 651 243.5 651 243.5 654 243.4 656 243.2 656 243.2 658 243.3 661 243.5 662 243.6 664 243.1 666 242.4 667 242.1 668 241.4 671 240.3 672 239.9 674 239.4 676 238.6 678 238.0 678 237.9 681 237.4 684 236.8 684 236.7 686 236.6 688 236.4 688 236.3 691 235.6 692 235.4 694 235.8 696 236.3 696 236.2 698 235.7 701 235.2 703 234.8 704 234.5 706 233.9 708 233.3 710 233.0 711 232.7 713 232.2 714 231.5 716 227.9 718 221.7 720 219.2 721 215.1"/><path d="M381 282.0 382 281.9 384 281.1 384 280.8 386 278.0 388 274.6 391 272.4 393 270.7 394 270.9 396 271.8 398 272.3 398 273.1 401 275.2 402 276.0 404 277.3 406 279.1 406 279.3 408 280.7 410 277.3 411 276.0 412 272.3 414 271.3 414 270.9 416 271.1 418 271.4 418 271.4 421 271.4 422 271.4 424 271.1 424 271.0 426 268.3 426 267.5 428 259.5 430 253.9 431 253.6 432 252.4 434 252.5 436 252.8 438 254.2 440 255.1 441 256.1 444 258.5 446 261.6 447 262.8 448 263.9 450 264.9 451 265.5 454 266.8 454 266.8 456 267.5 457 267.8 458 267.5 461 267.0 462 266.8 464 266.7 466 266.4 468 266.1 470 266.0 471 264.4 472 263.2 474 261.4 475 259.7 476 258.7 478 256.4 478 256.3 481 255.3 482 254.8 484 255.0 486 255.3 487 255.4 488 255.7 490 256.1 491 256.4 494 257.2 495 257.7 496 258.5 498 260.4 500 261.5 501 261.8 504 262.6 506 263.4 507 263.8 508 263.5 511 263.1 514 261.6 514 261.2 516 257.8 518 254.7 518 253.7 521 250.4 521 250.1 524 248.7 526 247.2 527 246.8 528 245.9 531 244.6 532 244.2 534 242.1 536 239.4 536 238.5 538 234.5 538 233.6 541 229.5 541 229.5 544 229.6 544 229.6 546 230.7 548 232.3 550 233.3 551 233.7 554 234.7 556 235.8 557 236.2 558 237.4 561 239.6 562 240.6 564 241.3 566 242.5 567 243.2 568 243.5 571 244.3 573 244.8 574 245.0 576 245.7 578 246.3 578 246.4 581 247.0 583 247.6 584 247.6 586 248.0 588 248.4 589 248.4 591 248.3 593 248.2 594 248.1 596 247.1 597 246.7 598 246.2 601 245.2 604 244.4 604 244.1 606 242.9 608 241.3 610 240.7 611 239.5 614 237.5 615 236.4 616 235.6 618 233.6 620 232.3 621 232.0 624 231.0 626 230.1 626 230.1 628 230.1 630 230.1 631 230.4 634 231.0 635 231.3 636 231.1 638 230.4 640 229.9 641 229.9 644 230.1 646 230.3 646 230.3 648 230.8 651 231.3 651 231.3 654 231.3 656 231.3 656 231.3 658 231.7 661 232.2 662 232.4 664 232.1 666 231.7 667 231.5 668 231.0 671 230.0 672 229.6 674 229.2 676 228.4 678 227.7 678 227.6 681 227.0 684 226.4 684 226.3 686 226.1 688 225.9 688 225.8 691 225.2 692 224.9 694 225.3 696 225.8 696 225.7 698 225.3 701 224.8 703 224.5 704 224.3 706 223.8 708 223.2 710 223.0 711 222.7 713 222.2 714 221.5 716 218.1 718 211.9 720 209.5 721 205.5"/><path d="M381 274.1 382 273.9 384 272.9 384 272.5 386 269.6 388 266.0 391 263.8 393 262.2 394 262.4 396 263.6 398 264.4 398 265.3 401 267.6 402 268.5 404 269.9 406 271.8 406 271.9 408 273.2 410 269.5 411 268.2 412 264.3 414 263.1 414 262.6 416 262.6 418 262.7 418 262.6 421 262.6 422 262.6 424 262.4 424 262.3 426 259.8 426 259.0 428 251.3 430 246.1 431 245.8 432 244.8 434 245.1 436 245.6 438 247.2 440 248.1 441 249.1 444 251.5 446 254.4 447 255.6 448 256.6 450 257.7 451 258.2 454 259.5 454 259.5 456 260.3 457 260.5 458 260.2 461 259.7 462 259.4 464 259.2 466 258.7 468 258.1 470 257.8 471 256.0 472 254.7 474 252.7 475 250.9 476 249.8 478 247.5 478 247.5 481 246.6 482 246.3 484 246.7 486 247.5 487 248.0 488 248.6 490 249.4 491 249.9 494 251.1 495 251.7 496 252.5 498 254.4 500 255.4 501 255.5 504 255.9 506 256.2 507 256.3 508 255.8 511 255.1 514 253.4 514 253.0 516 249.7 518 246.8 518 245.8 521 243.0 521 242.7 524 241.7 526 240.5 527 240.2 528 239.3 531 238.0 532 237.5 534 235.2 536 232.4 536 231.3 538 227.0 538 226.1 541 221.7 541 221.7 544 221.5 544 221.5 546 222.6 548 224.4 550 225.5 551 226.1 554 227.5 556 228.9 557 229.5 558 230.9 561 233.3 562 234.3 564 235.0 566 236.2 567 236.8 568 237.1 571 237.7 573 238.1 574 238.2 576 238.8 578 239.3 578 239.4 581 240.0 583 240.6 584 240.7 586 241.1 588 241.4 589 241.4 591 241.3 593 241.1 594 240.9 596 239.8 597 239.3 598 238.7 601 237.8 604 237.0 604 236.9 606 235.9 608 234.6 610 234.1 611 233.2 614 231.5 615 230.6 616 229.8 618 228.0 620 226.6 621 226.3 624 225.0 626 223.8 626 223.7 628 223.3 630 223.1 631 223.2 634 223.6 635 224.0 636 223.8 638 223.4 640 223.2 641 223.4 644 224.1 646 224.8 646 224.9 648 225.8 651 226.5 651 226.5 654 226.4 656 226.1 656 226.0 658 226.0 661 225.9 662 225.8 664 225.1 666 224.3 667 223.9 668 223.2 671 222.2 672 221.8 674 221.4 676 220.9 678 220.5 678 220.5 681 220.2 684 219.8 684 219.7 686 219.5 688 219.2 688 219.2 691 218.4 692 218.0 694 218.3 696 218.8 696 218.7 698 218.2 701 217.9 703 217.7 704 217.6 706 217.4 708 217.1 710 217.0 711 216.7 713 216.4 714 215.7 716 212.3 718 206.1 720 203.7 721 199.6"/><path d="M381 277.9 382 277.9 384 277.0 384 276.7 386 273.8 388 270.3 391 268.1 393 266.5 394 266.8 396 268.0 398 268.8 398 269.8 401 272.1 402 273.0 404 274.4 406 276.1 406 276.3 408 277.4 410 273.6 411 272.2 412 268.2 414 267.1 414 266.5 416 266.5 418 266.6 418 266.6 421 266.7 422 266.7 424 266.5 424 266.4 426 263.9 426 263.0 428 255.1 430 249.5 431 249.1 432 247.9 434 247.9 436 247.9 438 249.1 440 249.9 441 250.9 444 253.6 446 257.1 447 258.6 448 260.0 450 261.5 451 262.2 454 264.1 454 264.1 456 265.1 457 265.4 458 265.0 461 264.3 462 263.8 464 263.5 466 262.8 468 262.1 470 261.9 471 260.2 472 259.0 474 257.2 475 255.6 476 254.6 478 252.5 478 252.4 481 251.4 482 250.9 484 251.0 486 251.0 487 250.9 488 251.1 490 251.4 491 251.6 494 252.3 495 252.7 496 253.6 498 255.9 500 257.3 501 257.8 504 259.0 506 260.1 507 260.5 508 260.3 511 259.9 514 258.1 514 257.6 516 254.1 518 250.8 518 249.8 521 246.6 521 246.2 524 245.1 526 243.9 527 243.7 528 242.9 531 241.9 532 241.5 534 239.3 536 236.6 536 235.5 538 231.2 538 230.2 541 225.6 541 225.6 544 225.2 544 225.1 546 226.0 548 227.6 550 228.7 551 229.2 554 230.6 556 231.9 557 232.5 558 233.8 561 236.1 562 237.1 564 237.7 566 238.7 567 239.3 568 239.6 571 240.3 573 240.9 574 241.1 576 242.1 578 242.9 578 243.1 581 244.0 583 244.8 584 244.8 586 245.2 588 245.4 589 245.4 591 245.0 593 244.6 594 244.5 596 243.3 597 242.8 598 242.3 601 241.6 604 241.0 604 240.8 606 239.9 608 238.5 610 237.9 611 236.7 614 234.5 615 233.2 616 232.2 618 229.8 620 228.2 621 227.8 624 226.7 626 225.9 626 225.9 628 226.2 630 226.5 631 226.9 634 228.0 635 228.6 636 228.4 638 227.8 640 227.3 641 227.3 644 227.3 646 227.3 646 227.3 648 227.7 651 228.2 651 228.2 654 228.4 656 228.7 656 228.7 658 229.3 661 229.9 662 230.1 664 229.7 666 229.1 667 228.7 668 228.0 671 226.7 672 226.2 674 225.7 676 224.9 678 224.4 678 224.3 681 224.1 684 223.9 684 223.8 686 223.8 688 223.6 688 223.6 691 222.7 692 222.3 694 222.5 696 222.7 696 222.6 698 221.9 701 221.3 703 221.0 704 220.9 706 220.7 708 220.6 710 220.6 711 220.5 713 220.3 714 219.6 716 216.2 718 209.9 720 207.3 721 203.1"/><path d="M381 262.9 382 262.9 384 262.3 384 262.1 386 259.5 388 256.4 391 254.3 393 252.6 394 252.8 396 253.8 398 254.3 398 255.1 401 257.1 402 257.9 404 259.1 406 260.9 406 261.1 408 262.4 410 258.8 411 257.6 412 253.8 414 252.8 414 252.3 416 252.5 418 252.7 418 252.7 421 252.6 422 252.6 424 252.3 424 252.1 426 249.4 426 248.6 428 240.6 430 235.1 431 234.7 432 233.6 434 233.7 436 234.0 438 235.6 440 236.5 441 237.6 444 240.2 446 243.4 447 244.7 448 245.8 450 247.0 451 247.5 454 248.9 454 249.0 456 249.8 457 250.0 458 249.7 461 249.3 462 249.1 464 248.9 466 248.6 468 248.3 470 248.2 471 246.6 472 245.4 474 243.6 475 242.0 476 241.0 478 238.8 478 238.7 481 237.8 482 237.4 484 237.6 486 237.9 487 238.1 488 238.4 490 238.8 491 239.1 494 239.8 495 240.2 496 241.0 498 242.7 500 243.7 501 243.9 504 244.5 506 245.1 507 245.4 508 245.1 511 244.6 514 243.1 514 242.7 516 239.5 518 236.5 518 235.5 521 232.7 521 232.3 524 231.3 526 230.3 527 230.0 528 229.4 531 228.5 532 228.1 534 226.2 536 223.8 536 222.8 538 218.9 538 218.0 541 213.9 541 213.9 544 213.8 544 213.7 546 214.6 548 215.9 550 216.6 551 216.9 554 217.5 556 218.2 557 218.5 558 219.6 561 221.5 562 222.4 564 223.0 566 224.2 567 224.9 568 225.3 571 226.2 573 226.9 574 227.2 576 228.2 578 229.0 578 229.2 581 230.2 583 231.2 584 231.2 586 232.0 588 232.8 589 232.8 591 233.0 593 233.2 594 233.1 596 232.2 597 231.8 598 231.3 601 230.4 604 229.4 604 229.1 606 227.7 608 225.8 610 225.0 611 223.6 614 221.2 615 219.9 616 218.9 618 216.7 620 215.2 621 214.8 624 213.7 626 212.8 626 212.8 628 213.0 630 213.1 631 213.5 634 214.5 635 215.1 636 215.0 638 214.8 640 214.7 641 214.8 644 215.5 646 216.0 646 216.1 648 216.9 651 217.4 651 217.4 654 216.9 656 216.4 656 216.3 658 216.1 661 216.0 662 215.9 664 215.2 666 214.0 667 213.6 668 212.7 671 211.1 672 210.4 674 209.6 676 208.4 678 207.5 678 207.4 681 206.6 684 205.8 684 205.6 686 205.3 688 204.8 688 204.8 691 204.0 692 203.6 694 203.9 696 204.4 696 204.3 698 203.7 701 203.4 703 203.4 704 203.4 706 203.4 708 203.4 710 203.4 711 203.4 713 203.6 714 203.2 716 200.8 718 195.7 720 193.7 721 190.3"/><path d="M381 278.8 382 278.8 384 277.9 384 277.6 386 274.8 388 271.3 391 268.9 393 267.0 394 267.1 396 267.9 398 268.4 398 269.2 401 271.2 402 272.0 404 273.3 406 275.2 406 275.4 408 276.9 410 273.6 411 272.4 412 268.7 414 267.8 414 267.3 416 267.7 418 268.0 418 268.0 421 268.0 422 268.0 424 267.7 424 267.5 426 264.8 426 263.9 428 255.8 430 250.2 431 249.8 432 248.5 434 248.6 436 248.8 438 250.3 440 251.2 441 252.2 444 254.8 446 258.1 447 259.4 448 260.6 450 261.8 451 262.4 454 263.8 454 263.9 456 264.7 457 265.0 458 264.7 461 264.2 462 263.9 464 263.7 466 263.2 468 262.7 470 262.4 471 260.6 472 259.3 474 257.4 475 255.6 476 254.5 478 252.1 478 252.1 481 251.0 482 250.6 484 250.8 486 251.3 487 251.5 488 252.0 490 252.6 491 253.0 494 254.1 495 254.7 496 255.6 498 257.7 500 258.9 501 259.3 504 260.1 506 260.8 507 261.1 508 260.8 511 260.2 514 258.4 514 257.9 516 254.4 518 251.1 518 250.0 521 246.7 521 246.2 524 244.8 526 243.3 527 242.9 528 242.0 531 240.8 532 240.4 534 238.4 536 235.9 536 234.9 538 231.1 538 230.2 541 226.3 541 226.4 544 226.6 544 226.6 546 227.8 548 229.6 550 230.6 551 231.0 554 232.0 556 233.0 557 233.4 558 234.6 561 236.7 562 237.6 564 238.2 566 239.3 567 239.9 568 240.2 571 240.9 573 241.4 574 241.6 576 242.2 578 242.7 578 242.8 581 243.5 583 244.2 584 244.2 586 244.7 588 245.2 589 245.2 591 245.3 593 245.3 594 245.2 596 244.3 597 243.9 598 243.4 601 242.5 604 241.7 604 241.4 606 240.2 608 238.5 610 237.8 611 236.6 614 234.5 615 233.3 616 232.5 618 230.5 620 229.2 621 228.8 624 227.9 626 227.0 626 227.1 628 227.2 630 227.2 631 227.5 634 228.3 635 228.8 636 228.6 638 228.0 640 227.5 641 227.6 644 227.8 646 227.9 646 228.0 648 228.3 651 228.7 651 228.7 654 228.6 656 228.4 656 228.4 658 228.7 661 229.2 662 229.3 664 229.1 666 228.7 667 228.6 668 228.2 671 227.4 672 227.1 674 226.7 676 226.1 678 225.6 678 225.5 681 225.0 684 224.5 684 224.3 686 224.1 688 223.7 688 223.7 691 222.9 692 222.5 694 222.8 696 223.2 696 223.1 698 222.6 701 222.0 703 221.7 704 221.5 706 221.1 708 220.7 710 220.5 711 220.3 713 220.0 714 219.4 716 216.1 718 210.1 720 207.7 721 203.7"/><path d="M381 270.8 382 270.8 384 270.2 384 269.9 386 267.4 388 264.3 391 262.2 393 260.6 394 260.8 396 261.8 398 262.4 398 263.2 401 265.2 402 266.0 404 267.3 406 269.0 406 269.2 408 270.5 410 266.9 411 265.6 412 261.7 414 260.6 414 260.1 416 260.2 418 260.2 418 260.2 421 259.9 422 259.9 424 259.3 424 259.1 426 256.3 426 255.4 428 247.3 430 241.7 431 241.3 432 240.1 434 240.2 436 240.6 438 242.3 440 243.3 441 244.5 444 247.3 446 250.8 447 252.3 448 253.6 450 254.9 451 255.6 454 257.3 454 257.4 456 258.4 457 258.8 458 258.6 461 258.2 462 257.9 464 257.8 466 257.3 468 256.8 470 256.5 471 254.6 472 253.3 474 251.3 475 249.4 476 248.2 478 245.6 478 245.5 481 244.1 482 243.6 484 243.6 486 243.7 487 243.8 488 244.1 490 244.5 491 244.8 494 245.7 495 246.2 496 247.0 498 249.1 500 250.4 501 250.8 504 251.8 506 252.9 507 253.3 508 253.2 511 253.1 514 251.9 514 251.5 516 248.4 518 245.4 518 244.4 521 241.4 521 241.0 524 239.8 526 238.3 527 238.0 528 237.0 531 235.6 532 235.1 534 232.9 536 230.1 536 229.1 538 224.9 538 224.0 541 219.6 541 219.6 544 219.4 544 219.3 546 220.2 548 221.6 550 222.5 551 222.9 554 223.8 556 224.8 557 225.3 558 226.6 561 229.0 562 230.0 564 230.8 566 232.2 567 233.0 568 233.5 571 234.4 573 235.1 574 235.4 576 236.2 578 236.8 578 237.0 581 237.7 583 238.3 584 238.3 586 238.8 588 239.2 589 239.2 591 239.2 593 239.2 594 239.1 596 238.1 597 237.7 598 237.2 601 236.3 604 235.5 604 235.2 606 234.0 608 232.4 610 231.6 611 230.4 614 228.3 615 227.1 616 226.2 618 224.1 620 222.7 621 222.3 624 221.2 626 220.3 626 220.3 628 220.3 630 220.3 631 220.6 634 221.3 635 221.7 636 221.6 638 221.1 640 220.8 641 220.9 644 221.3 646 221.7 646 221.8 648 222.5 651 223.1 651 223.1 654 223.0 656 222.9 656 222.9 658 223.2 661 223.5 662 223.6 664 223.2 666 222.5 667 222.3 668 221.6 671 220.4 672 219.9 674 219.3 676 218.3 678 217.5 678 217.3 681 216.5 684 215.7 684 215.5 686 215.1 688 214.6 688 214.5 691 213.6 692 213.2 694 213.5 696 213.9 696 213.7 698 213.2 701 212.8 703 212.7 704 212.6 706 212.4 708 212.3 710 212.3 711 212.3 713 212.3 714 211.8 716 209.1 718 203.6 720 201.4 721 197.8"/><path d="M381 270.8 382 270.9 384 270.2 384 270.0 386 267.5 388 264.3 391 262.3 393 260.6 394 260.8 396 261.6 398 262.2 398 262.9 401 264.8 402 265.6 404 266.7 406 268.4 406 268.5 408 269.7 410 266.1 411 264.9 412 261.1 414 260.1 414 259.6 416 259.8 418 260.1 418 260.1 421 260.2 422 260.2 424 259.9 424 259.7 426 257.1 426 256.2 428 248.1 430 242.5 431 242.1 432 240.9 434 241.0 436 241.2 438 242.8 440 243.7 441 244.9 444 247.7 446 251.2 447 252.7 448 254.0 450 255.3 451 256.0 454 257.5 454 257.6 456 258.3 457 258.6 458 258.1 461 257.3 462 256.8 464 256.5 466 255.8 468 255.3 470 255.1 471 253.3 472 252.1 474 250.4 475 248.8 476 247.8 478 245.6 478 245.6 481 244.6 482 244.2 484 244.4 486 244.5 487 244.5 488 244.8 490 245.1 491 245.3 494 246.1 495 246.5 496 247.4 498 249.6 500 251.0 501 251.5 504 252.7 506 254.0 507 254.4 508 254.3 511 253.9 514 252.2 514 251.7 516 248.1 518 244.7 518 243.6 521 240.1 521 239.7 524 238.3 526 236.9 527 236.6 528 235.8 531 234.9 532 234.5 534 232.6 536 230.1 536 229.1 538 225.1 538 224.2 541 219.8 541 219.8 544 219.4 544 219.3 546 220.0 548 221.3 550 222.2 551 222.6 554 223.8 556 225.2 557 225.8 558 227.3 561 230.1 562 231.2 564 232.1 566 233.5 567 234.2 568 234.5 571 235.0 573 235.4 574 235.4 576 235.8 578 236.2 578 236.3 581 237.0 583 237.8 584 237.8 586 238.5 588 239.2 589 239.2 591 239.3 593 239.3 594 239.2 596 238.1 597 237.5 598 236.9 601 235.7 604 234.5 604 234.3 606 233.0 608 231.5 610 230.8 611 229.8 614 228.1 615 227.1 616 226.4 618 224.6 620 223.3 621 223.0 624 221.9 626 220.9 626 220.9 628 220.7 630 220.6 631 220.8 634 221.5 635 222.0 636 221.8 638 221.5 640 221.3 641 221.4 644 222.0 646 222.5 646 222.5 648 223.1 651 223.5 651 223.5 654 223.1 656 222.6 656 222.6 658 222.5 661 222.6 662 222.6 664 222.1 666 221.4 667 221.2 668 220.6 671 219.5 672 219.1 674 218.6 676 217.8 678 217.1 678 217.0 681 216.4 684 215.7 684 215.6 686 215.3 688 214.9 688 214.9 691 214.1 692 213.8 694 214.2 696 214.7 696 214.6 698 214.2 701 213.9 703 213.7 704 213.7 706 213.4 708 213.2 710 213.0 711 212.9 713 212.7 714 212.1 716 209.0 718 203.2 720 200.9 721 197.0"/><path d="M381 273.9 382 273.9 384 273.2 384 272.9 386 270.3 388 267.2 391 265.2 393 263.5 394 263.7 396 264.6 398 265.1 398 265.9 401 267.6 402 268.3 404 269.3 406 270.7 406 270.8 408 271.8 410 268.1 411 266.8 412 262.9 414 261.9 414 261.4 416 261.7 418 262.1 418 262.1 421 262.4 422 262.4 424 262.3 424 262.2 426 259.7 426 258.9 428 251.0 430 245.6 431 245.2 432 244.2 434 244.3 436 244.8 438 246.4 440 247.4 441 248.6 444 251.3 446 254.6 447 255.8 448 256.9 450 258.0 451 258.5 454 259.6 454 259.6 456 260.0 457 260.2 458 259.7 461 258.9 462 258.6 464 258.4 466 258.0 468 257.7 470 257.6 471 256.0 472 254.8 474 253.0 475 251.4 476 250.3 478 248.0 478 248.0 481 246.8 482 246.4 484 246.5 486 246.9 487 247.1 488 247.5 490 248.1 491 248.5 494 249.6 495 250.3 496 251.3 498 253.4 500 254.7 501 255.0 504 255.8 506 256.5 507 256.7 508 256.3 511 255.7 514 254.0 514 253.5 516 250.0 518 246.8 518 245.8 521 242.6 521 242.2 524 240.9 526 239.3 527 239.0 528 237.9 531 236.6 532 236.1 534 234.0 536 231.4 536 230.4 538 226.5 538 225.6 541 221.8 541 221.8 544 222.2 544 222.3 546 223.6 548 225.6 550 226.7 551 227.1 554 228.2 556 229.1 557 229.4 558 230.5 561 232.4 562 233.3 564 233.8 566 234.9 567 235.5 568 235.8 571 236.6 573 237.2 574 237.4 576 238.0 578 238.6 578 238.7 581 239.3 583 239.8 584 239.8 586 240.2 588 240.7 589 240.7 591 240.8 593 241.0 594 240.9 596 240.3 597 240.0 598 239.7 601 239.0 604 238.3 604 238.1 606 236.8 608 235.1 610 234.3 611 233.0 614 230.8 615 229.6 616 228.7 618 226.7 620 225.3 621 225.0 624 224.0 626 223.1 626 223.1 628 223.1 630 223.0 631 223.2 634 223.6 635 223.9 636 223.7 638 223.0 640 222.5 641 222.6 644 223.0 646 223.6 646 223.6 648 224.5 651 225.4 651 225.4 654 225.6 656 225.7 656 225.7 658 226.0 661 226.4 662 226.5 664 226.1 666 225.4 667 225.2 668 224.5 671 223.4 672 223.0 674 222.4 676 221.4 678 220.6 678 220.4 681 219.5 684 218.5 684 218.3 686 217.7 688 217.2 688 217.2 691 216.3 692 216.0 694 216.5 696 217.2 696 217.1 698 217.1 701 217.1 703 217.1 704 217.1 706 217.0 708 216.8 710 216.6 711 216.5 713 216.2 714 215.5 716 212.3 718 206.4 720 204.1 721 200.2"/><path d="M381 268.7 382 268.7 384 267.9 384 267.7 386 264.8 388 261.2 391 258.5 393 256.3 394 256.4 396 256.7 398 257.0 398 257.7 401 259.4 402 260.2 404 261.5 406 263.5 406 263.7 408 265.5 410 262.4 411 261.2 412 257.8 414 257.0 414 256.6 416 257.2 418 257.8 418 257.8 421 258.0 422 258.0 424 257.6 424 257.3 426 254.6 426 253.6 428 245.4 430 239.5 431 239.1 432 237.8 434 237.8 436 237.9 438 239.3 440 240.2 441 241.3 444 244.1 446 247.5 447 248.9 448 250.2 450 251.5 451 252.1 454 253.6 454 253.7 456 254.4 457 254.7 458 254.3 461 253.5 462 253.1 464 252.8 466 252.2 468 251.6 470 251.4 471 249.7 472 248.5 474 246.7 475 245.1 476 244.1 478 242.1 478 242.0 481 241.3 482 241.0 484 241.4 486 242.0 487 242.3 488 242.7 490 243.2 491 243.5 494 244.3 495 244.6 496 245.4 498 247.0 500 248.0 501 248.2 504 248.7 506 249.3 507 249.6 508 249.3 511 249.0 514 247.5 514 247.2 516 244.0 518 241.0 518 240.0 521 237.0 521 236.6 524 235.5 526 234.1 527 233.8 528 232.9 531 231.7 532 231.3 534 229.2 536 226.6 536 225.6 538 221.6 538 220.8 541 216.7 541 216.7 544 216.8 544 216.8 546 218.0 548 219.6 550 220.5 551 220.9 554 221.8 556 222.6 557 222.9 558 224.0 561 226.0 562 226.8 564 227.4 566 228.5 567 229.2 568 229.5 571 230.4 573 231.2 574 231.4 576 232.4 578 233.3 578 233.5 581 234.5 583 235.4 584 235.5 586 236.1 588 236.6 589 236.6 591 236.5 593 236.3 594 236.2 596 235.0 597 234.4 598 233.8 601 232.7 604 231.7 604 231.4 606 230.2 608 228.7 610 228.0 611 227.0 614 225.1 615 224.1 616 223.3 618 221.4 620 220.1 621 219.8 624 218.7 626 217.7 626 217.6 628 217.4 630 217.3 631 217.5 634 218.0 635 218.4 636 218.2 638 217.7 640 217.5 641 217.6 644 218.4 646 219.1 646 219.2 648 220.3 651 221.1 651 221.2 654 221.1 656 220.9 656 220.8 658 220.8 661 220.6 662 220.5 664 219.6 666 218.2 667 217.6 668 216.6 671 214.8 672 214.1 674 213.3 676 212.1 678 211.5 678 211.4 681 210.9 684 210.6 684 210.6 686 210.6 688 210.7 688 210.7 691 210.2 692 210.0 694 210.4 696 211.0 696 210.9 698 210.3 701 209.7 703 209.5 704 209.4 706 209.0 708 208.6 710 208.5 711 208.4 713 208.3 714 207.8 716 205.1 718 199.7 720 197.6 721 194.0"/><path d="M381 283.4 382 283.3 384 282.4 384 282.1 386 279.3 388 275.9 391 273.5 393 271.7 394 271.8 396 272.6 398 273.1 398 273.9 401 275.9 402 276.7 404 277.9 406 279.7 406 279.9 408 281.3 410 277.8 411 276.6 412 272.8 414 271.8 414 271.3 416 271.6 418 271.8 418 271.8 421 271.8 422 271.8 424 271.5 424 271.3 426 268.7 426 267.8 428 259.9 430 254.4 431 254.0 432 252.9 434 253.1 436 253.5 438 255.2 440 256.2 441 257.2 444 260.0 446 263.2 447 264.5 448 265.7 450 266.8 451 267.4 454 268.7 454 268.7 456 269.4 457 269.6 458 269.1 461 268.4 462 267.9 464 267.6 466 267.0 468 266.3 470 266.0 471 264.2 472 262.9 474 260.9 475 259.1 476 258.1 478 255.7 478 255.7 481 254.7 482 254.4 484 254.7 486 255.3 487 255.6 488 256.2 490 256.8 491 257.3 494 258.5 495 259.2 496 260.1 498 262.3 500 263.6 501 263.9 504 264.7 506 265.5 507 265.7 508 265.4 511 264.7 514 262.9 514 262.3 516 258.8 518 255.4 518 254.2 521 250.7 521 250.3 524 248.8 526 247.1 527 246.7 528 245.7 531 244.4 532 244.0 534 241.9 536 239.4 536 238.5 538 234.6 538 233.8 541 229.9 541 229.9 544 230.2 544 230.3 546 231.5 548 233.3 550 234.4 551 234.9 554 236.1 556 237.1 557 237.6 558 238.9 561 241.0 562 242.0 564 242.6 566 243.7 567 244.3 568 244.6 571 245.2 573 245.6 574 245.7 576 246.2 578 246.6 578 246.7 581 247.2 583 247.8 584 247.8 586 248.2 588 248.6 589 248.7 591 248.7 593 248.8 594 248.7 596 247.8 597 247.5 598 247.0 601 246.3 604 245.5 604 245.2 606 244.1 608 242.4 610 241.7 611 240.5 614 238.3 615 237.1 616 236.2 618 234.1 620 232.7 621 232.3 624 231.2 626 230.3 626 230.3 628 230.4 630 230.4 631 230.7 634 231.5 635 232.0 636 231.8 638 231.3 640 230.9 641 231.0 644 231.3 646 231.6 646 231.6 648 232.0 651 232.5 651 232.5 654 232.3 656 232.1 656 232.0 658 232.2 661 232.5 662 232.6 664 232.1 666 231.6 667 231.3 668 230.8 671 229.9 672 229.5 674 229.1 676 228.5 678 228.1 678 228.0 681 227.6 684 227.2 684 227.2 686 227.1 688 227.0 688 227.0 691 226.3 692 226.1 694 226.5 696 227.0 696 226.9 698 226.4 701 225.8 703 225.3 704 225.1 706 224.4 708 223.7 710 223.3 711 223.0 713 222.5 714 221.7 716 218.2 718 212.0 720 209.6 721 205.5"/><path d="M381 272.1 382 272.1 384 271.3 384 271.0 386 268.2 388 264.5 391 262.0 393 259.9 394 260.0 396 260.5 398 260.9 398 261.6 401 263.4 402 264.2 404 265.5 406 267.5 406 267.7 408 269.4 410 266.2 411 265.0 412 261.5 414 260.7 414 260.2 416 260.8 418 261.2 418 261.3 421 261.4 422 261.4 424 261.1 424 260.9 426 258.2 426 257.3 428 249.1 430 243.4 431 242.9 432 241.6 434 241.7 436 241.7 438 243.1 440 243.9 441 245.0 444 247.5 446 250.8 447 252.1 448 253.3 450 254.5 451 255.1 454 256.6 454 256.6 456 257.5 457 257.8 458 257.5 461 257.0 462 256.8 464 256.6 466 256.3 468 255.9 470 255.8 471 254.1 472 252.9 474 251.2 475 249.5 476 248.5 478 246.2 478 246.2 481 245.2 482 244.7 484 244.9 486 245.2 487 245.3 488 245.6 490 245.9 491 246.2 494 246.8 495 247.2 496 247.9 498 249.7 500 250.8 501 251.0 504 251.8 506 252.7 507 253.1 508 253.0 511 252.9 514 251.7 514 251.4 516 248.3 518 245.3 518 244.3 521 241.3 521 240.9 524 239.7 526 238.1 527 237.7 528 236.7 531 235.2 532 234.7 534 232.4 536 229.6 536 228.6 538 224.4 538 223.5 541 219.3 541 219.3 544 219.3 544 219.3 546 220.5 548 222.2 550 223.3 551 223.7 554 224.9 556 226.0 557 226.5 558 227.7 561 230.0 562 230.9 564 231.6 566 232.7 567 233.3 568 233.6 571 234.4 573 234.9 574 235.1 576 235.8 578 236.5 578 236.6 581 237.5 583 238.3 584 238.3 586 238.9 588 239.5 589 239.6 591 239.6 593 239.6 594 239.5 596 238.4 597 238.0 598 237.4 601 236.3 604 235.2 604 234.9 606 233.6 608 231.8 610 231.0 611 229.8 614 227.8 615 226.6 616 225.8 618 223.9 620 222.7 621 222.4 624 221.6 626 220.9 626 220.9 628 221.1 630 221.1 631 221.5 634 222.2 635 222.7 636 222.5 638 222.0 640 221.6 641 221.7 644 222.0 646 222.4 646 222.4 648 223.0 651 223.5 651 223.5 654 223.2 656 222.9 656 222.9 658 223.0 661 223.1 662 223.1 664 222.5 666 221.6 667 221.3 668 220.6 671 219.3 672 218.8 674 218.2 676 217.4 678 216.9 678 216.8 681 216.4 684 216.0 684 216.0 686 215.9 688 215.9 688 215.8 691 215.2 692 214.9 694 215.3 696 215.7 696 215.6 698 214.9 701 214.2 703 213.8 704 213.5 706 212.9 708 212.4 710 212.1 711 211.9 713 211.7 714 211.1 716 208.3 718 202.8 720 200.6 721 197.1"/><path d="M381 286.2 382 286.2 384 285.3 384 285.0 386 282.2 388 278.7 391 276.4 393 274.6 394 274.7 396 275.7 398 276.3 398 277.2 401 279.4 402 280.3 404 281.7 406 283.7 406 283.9 408 285.3 410 281.8 411 280.5 412 276.7 414 275.6 414 275.1 416 275.2 418 275.3 418 275.2 421 275.1 422 275.0 424 274.6 424 274.4 426 271.8 426 270.9 428 262.9 430 257.4 431 257.0 432 255.9 434 256.0 436 256.2 438 257.6 440 258.4 441 259.3 444 261.8 446 264.9 447 266.2 448 267.4 450 268.6 451 269.3 454 270.9 454 271.0 456 272.0 457 272.4 458 272.3 461 271.9 462 271.7 464 271.5 466 271.0 468 270.4 470 270.2 471 268.3 472 267.0 474 265.0 475 263.2 476 262.1 478 259.7 478 259.7 481 258.6 482 258.2 484 258.4 486 258.7 487 258.8 488 259.1 490 259.5 491 259.8 494 260.4 495 260.8 496 261.5 498 263.3 500 264.5 501 264.8 504 265.7 506 266.7 507 267.1 508 267.1 511 267.0 514 265.7 514 265.3 516 262.1 518 259.0 518 258.0 521 254.7 521 254.3 524 252.9 526 251.3 527 250.9 528 249.9 531 248.6 532 248.1 534 246.0 536 243.4 536 242.4 538 238.3 538 237.4 541 233.2 541 233.2 544 233.0 544 232.9 546 233.8 548 235.1 550 235.8 551 236.2 554 237.0 556 238.1 557 238.6 558 239.9 561 242.5 562 243.6 564 244.5 566 246.1 567 247.0 568 247.4 571 248.3 573 248.9 574 249.1 576 249.6 578 250.1 578 250.2 581 250.7 583 251.2 584 251.2 586 251.6 588 252.0 589 252.1 591 252.0 593 252.0 594 251.9 596 250.8 597 250.3 598 249.7 601 248.6 604 247.4 604 247.1 606 245.8 608 244.0 610 243.3 611 242.1 614 240.2 615 239.1 616 238.3 618 236.5 620 235.3 621 235.0 624 234.0 626 233.1 626 233.1 628 233.0 630 232.9 631 233.2 634 233.8 635 234.2 636 234.0 638 233.4 640 233.1 641 233.2 644 233.6 646 234.0 646 234.0 648 234.5 651 234.9 651 234.9 654 234.6 656 234.3 656 234.3 658 234.4 661 234.6 662 234.7 664 234.3 666 233.9 667 233.7 668 233.3 671 232.5 672 232.2 674 231.8 676 231.2 678 230.6 678 230.4 681 229.8 684 229.1 684 228.9 686 228.6 688 228.3 688 228.2 691 227.5 692 227.3 694 227.7 696 228.4 696 228.3 698 228.0 701 227.7 703 227.4 704 227.2 706 226.6 708 225.9 710 225.6 711 225.2 713 224.7 714 224.0 716 220.4 718 214.3 720 211.9 721 207.9"/><path d="M381 276.8 382 276.9 384 276.2 384 275.9 386 273.2 388 269.6 391 267.1 393 265.0 394 265.1 396 265.5 398 265.8 398 266.5 401 268.4 402 269.1 404 270.4 406 272.3 406 272.5 408 274.2 410 270.9 411 269.7 412 266.1 414 265.2 414 264.8 416 265.2 418 265.5 418 265.5 421 265.4 422 265.4 424 264.9 424 264.6 426 261.8 426 260.9 428 252.7 430 247.1 431 246.7 432 245.5 434 245.7 436 246.1 438 247.8 440 248.9 441 250.0 444 252.9 446 256.3 447 257.7 448 258.9 450 260.1 451 260.6 454 261.9 454 262.0 456 262.6 457 262.8 458 262.3 461 261.5 462 261.1 464 260.8 466 260.3 468 259.8 470 259.6 471 257.8 472 256.6 474 254.8 475 253.1 476 252.1 478 249.8 478 249.8 481 248.8 482 248.5 484 248.7 486 249.2 487 249.4 488 249.8 490 250.3 491 250.7 494 251.6 495 252.2 496 253.0 498 255.0 500 256.2 501 256.5 504 257.3 506 258.1 507 258.4 508 258.1 511 257.6 514 255.9 514 255.5 516 252.1 518 248.9 518 247.9 521 244.7 521 244.3 524 243.1 526 241.7 527 241.3 528 240.5 531 239.3 532 238.9 534 236.8 536 234.2 536 233.2 538 229.1 538 228.2 541 223.9 541 223.9 544 223.7 544 223.7 546 224.7 548 226.2 550 227.1 551 227.5 554 228.7 556 229.9 557 230.5 558 231.9 561 234.4 562 235.6 564 236.4 566 237.8 567 238.6 568 238.9 571 239.6 573 240.0 574 240.1 576 240.4 578 240.7 578 240.7 581 241.0 583 241.5 584 241.5 586 241.9 588 242.4 589 242.5 591 242.7 593 243.0 594 242.9 596 242.3 597 242.1 598 241.7 601 241.0 604 240.1 604 239.8 606 238.5 608 236.6 610 235.7 611 234.4 614 232.0 615 230.7 616 229.7 618 227.7 620 226.4 621 226.1 624 225.3 626 224.7 626 224.8 628 225.2 630 225.4 631 225.8 634 226.6 635 227.1 636 226.9 638 226.2 640 225.6 641 225.6 644 225.6 646 225.6 646 225.6 648 226.0 651 226.4 651 226.4 654 226.4 656 226.6 656 226.6 658 227.2 661 227.9 662 228.1 664 228.0 666 227.6 667 227.4 668 226.8 671 225.7 672 225.2 674 224.6 676 223.5 678 222.6 678 222.4 681 221.6 684 220.9 684 220.7 686 220.5 688 220.4 688 220.4 691 219.9 692 219.7 694 220.3 696 221.1 696 221.0 698 220.8 701 220.5 703 220.3 704 220.1 706 219.6 708 219.0 710 218.8 711 218.5 713 218.0 714 217.3 716 213.9 718 207.9 720 205.5 721 201.5"/><path d="M381 269.3 382 269.4 384 268.7 384 268.5 386 265.8 388 262.2 391 259.7 393 257.6 394 257.7 396 258.2 398 258.5 398 259.2 401 261.0 402 261.8 404 263.0 406 265.0 406 265.1 408 266.7 410 263.5 411 262.3 412 258.7 414 257.8 414 257.4 416 257.8 418 258.1 418 258.2 421 258.2 422 258.2 424 257.7 424 257.5 426 254.8 426 253.9 428 245.8 430 240.2 431 239.8 432 238.6 434 238.7 436 239.1 438 240.7 440 241.7 441 242.8 444 245.6 446 248.9 447 250.2 448 251.4 450 252.5 451 253.0 454 254.3 454 254.4 456 254.9 457 255.1 458 254.7 461 254.0 462 253.7 464 253.5 466 253.1 468 252.8 470 252.7 471 251.1 472 249.9 474 248.3 475 246.7 476 245.7 478 243.6 478 243.6 481 242.7 482 242.2 484 242.4 486 242.7 487 242.7 488 243.0 490 243.3 491 243.5 494 244.1 495 244.5 496 245.2 498 247.0 500 248.2 501 248.5 504 249.5 506 250.5 507 250.9 508 250.9 511 250.8 514 249.5 514 249.1 516 245.9 518 242.8 518 241.8 521 238.6 521 238.2 524 236.7 526 235.1 527 234.7 528 233.6 531 232.1 532 231.6 534 229.5 536 226.8 536 225.8 538 221.8 538 221.0 541 217.0 541 217.0 544 217.1 544 217.1 546 218.3 548 220.0 550 220.9 551 221.4 554 222.4 556 223.4 557 223.8 558 225.0 561 227.2 562 228.2 564 228.9 566 230.3 567 231.0 568 231.4 571 232.4 573 233.0 574 233.3 576 234.0 578 234.7 578 234.8 581 235.3 583 235.8 584 235.8 586 236.1 588 236.3 589 236.3 591 236.1 593 235.9 594 235.8 596 234.8 597 234.4 598 234.0 601 233.3 604 232.8 604 232.6 606 231.7 608 230.4 610 229.8 611 228.8 614 226.8 615 225.7 616 224.8 618 222.7 620 221.1 621 220.7 624 219.4 626 218.2 626 218.2 628 218.0 630 217.9 631 218.1 634 218.8 635 219.3 636 219.1 638 218.8 640 218.6 641 218.7 644 219.4 646 219.9 646 220.0 648 220.7 651 221.3 651 221.3 654 221.1 656 220.7 656 220.7 658 220.7 661 220.8 662 220.8 664 220.2 666 219.4 667 219.0 668 218.3 671 217.0 672 216.5 674 215.8 676 214.8 678 214.0 678 213.8 681 213.0 684 212.2 684 212.0 686 211.6 688 211.1 688 211.1 691 210.2 692 209.9 694 210.3 696 210.8 696 210.7 698 210.4 701 210.3 703 210.3 704 210.4 706 210.4 708 210.5 710 210.4 711 210.4 713 210.4 714 209.8 716 206.9 718 201.2 720 198.8 721 195.0"/><path d="M381 267.8 382 267.8 384 267.1 384 266.9 386 264.3 388 261.0 391 258.9 393 257.2 394 257.3 396 258.2 398 258.8 398 259.5 401 261.5 402 262.3 404 263.5 406 265.3 406 265.5 408 266.8 410 263.3 411 262.0 412 258.3 414 257.2 414 256.7 416 257.0 418 257.2 418 257.2 421 257.1 422 257.1 424 256.7 424 256.6 426 253.9 426 253.0 428 245.0 430 239.5 431 239.1 432 237.9 434 238.1 436 238.4 438 240.0 440 241.0 441 242.0 444 244.7 446 248.0 447 249.3 448 250.5 450 251.8 451 252.4 454 253.9 454 253.9 456 254.7 457 255.1 458 254.8 461 254.3 462 254.1 464 253.9 466 253.5 468 253.0 470 252.8 471 251.0 472 249.8 474 247.9 475 246.1 476 245.0 478 242.5 478 242.5 481 241.3 482 240.8 484 240.9 486 241.2 487 241.3 488 241.7 490 242.1 491 242.5 494 243.4 495 243.9 496 244.8 498 246.8 500 248.1 501 248.4 504 249.4 506 250.4 507 250.8 508 250.7 511 250.4 514 249.1 514 248.7 516 245.5 518 242.4 518 241.4 521 238.2 521 237.9 524 236.5 526 235.0 527 234.6 528 233.5 531 232.1 532 231.6 534 229.3 536 226.5 536 225.5 538 221.3 538 220.3 541 216.0 541 216.0 544 215.9 544 215.8 546 216.9 548 218.4 550 219.4 551 219.9 554 221.1 556 222.4 557 222.9 558 224.4 561 226.9 562 228.1 564 229.0 566 230.5 567 231.4 568 231.8 571 232.8 573 233.4 574 233.6 576 234.3 578 234.7 578 234.8 581 235.2 583 235.5 584 235.5 586 235.6 588 235.7 589 235.7 591 235.4 593 235.1 594 235.0 596 233.9 597 233.4 598 232.9 601 232.1 604 231.4 604 231.3 606 230.3 608 229.0 610 228.4 611 227.4 614 225.7 615 224.8 616 224.0 618 222.3 620 221.1 621 220.9 624 220.0 626 219.1 626 219.1 628 219.1 630 219.1 631 219.3 634 219.8 635 220.1 636 219.8 638 219.0 640 218.3 641 218.3 644 218.4 646 218.5 646 218.5 648 218.9 651 219.3 651 219.3 654 219.0 656 218.7 656 218.7 658 219.0 661 219.4 662 219.5 664 219.2 666 218.8 667 218.6 668 218.0 671 217.1 672 216.6 674 216.1 676 215.2 678 214.6 678 214.4 681 213.7 684 212.8 684 212.6 686 212.1 688 211.4 688 211.3 691 210.2 692 209.7 694 209.8 696 210.0 696 209.8 698 209.1 701 208.5 703 208.3 704 208.2 706 208.1 708 208.0 710 208.1 711 208.1 713 208.3 714 207.8 716 205.4 718 200.3 720 198.2 721 194.8"/><path d="M381 279.8 382 279.8 384 279.2 384 278.9 386 276.4 388 273.2 391 271.1 393 269.4 394 269.6 396 270.5 398 271.0 398 271.8 401 273.8 402 274.6 404 275.8 406 277.6 406 277.7 408 279.0 410 275.5 411 274.2 412 270.4 414 269.3 414 268.8 416 269.0 418 269.1 418 269.0 421 268.9 422 268.8 424 268.4 424 268.1 426 265.4 426 264.5 428 256.4 430 250.7 431 250.3 432 249.2 434 249.3 436 249.6 438 251.2 440 252.1 441 253.2 444 256.0 446 259.4 447 260.7 448 262.0 450 263.3 451 263.9 454 265.6 454 265.6 456 266.6 457 266.9 458 266.7 461 266.2 462 266.0 464 265.8 466 265.3 468 264.8 470 264.5 471 262.7 472 261.4 474 259.4 475 257.5 476 256.4 478 253.8 478 253.8 481 252.5 482 252.0 484 252.1 486 252.3 487 252.4 488 252.8 490 253.3 491 253.6 494 254.6 495 255.1 496 256.0 498 258.1 500 259.4 501 259.8 504 260.7 506 261.7 507 262.0 508 261.8 511 261.5 514 260.0 514 259.5 516 256.2 518 253.0 518 252.0 521 248.7 521 248.3 524 246.9 526 245.3 527 245.0 528 244.0 531 242.6 532 242.2 534 240.1 536 237.5 536 236.5 538 232.5 538 231.6 541 227.6 541 227.6 544 227.7 544 227.7 546 228.9 548 230.6 550 231.6 551 232.0 554 233.1 556 234.1 557 234.6 558 235.8 561 237.9 562 238.8 564 239.5 566 240.5 567 241.1 568 241.4 571 241.9 573 242.4 574 242.5 576 243.0 578 243.5 578 243.6 581 244.2 583 244.8 584 244.8 586 245.4 588 246.0 589 246.1 591 246.3 593 246.6 594 246.5 596 245.9 597 245.6 598 245.3 601 244.7 604 244.1 604 243.8 606 242.7 608 241.0 610 240.3 611 239.0 614 236.6 615 235.3 616 234.3 618 231.9 620 230.2 621 229.7 624 228.3 626 227.1 626 227.1 628 226.9 630 226.8 631 227.0 634 227.7 635 228.2 636 228.0 638 227.6 640 227.4 641 227.5 644 228.2 646 228.8 646 228.9 648 229.7 651 230.6 651 230.6 654 230.8 656 231.0 656 231.0 658 231.4 661 231.9 662 232.0 664 231.7 666 231.1 667 230.8 668 230.2 671 229.0 672 228.5 674 227.9 676 226.9 678 226.1 678 226.0 681 225.2 684 224.4 684 224.3 686 223.9 688 223.6 688 223.5 691 222.8 692 222.5 694 222.9 696 223.4 696 223.4 698 223.0 701 222.6 703 222.4 704 222.3 706 222.0 708 221.7 710 221.6 711 221.4 713 221.2 714 220.6 716 217.3 718 211.4 720 209.0 721 205.1"/><path d="M381 275.0 382 275.1 384 274.6 384 274.4 386 271.9 388 268.7 391 266.6 393 264.8 394 264.9 396 265.6 398 266.0 398 266.7 401 268.5 402 269.2 404 270.3 406 272.0 406 272.2 408 273.5 410 270.0 411 268.7 412 265.0 414 264.0 414 263.5 416 263.7 418 263.9 418 263.9 421 263.8 422 263.8 424 263.4 424 263.2 426 260.4 426 259.5 428 251.4 430 245.8 431 245.4 432 244.3 434 244.4 436 244.8 438 246.5 440 247.6 441 248.8 444 251.8 446 255.4 447 256.8 448 258.2 450 259.5 451 260.2 454 261.7 454 261.8 456 262.5 457 262.8 458 262.3 461 261.5 462 261.0 464 260.6 466 259.7 468 258.9 470 258.5 471 256.6 472 255.2 474 253.3 475 251.5 476 250.4 478 248.1 478 248.1 481 247.2 482 246.8 484 247.2 486 247.8 487 248.1 488 248.6 490 249.2 491 249.7 494 250.7 495 251.3 496 252.2 498 254.2 500 255.4 501 255.7 504 256.5 506 257.4 507 257.7 508 257.5 511 257.2 514 255.7 514 255.3 516 252.0 518 248.9 518 247.9 521 244.6 521 244.2 524 242.7 526 240.9 527 240.5 528 239.3 531 237.7 532 237.1 534 234.8 536 232.0 536 230.9 538 226.8 538 225.9 541 221.8 541 221.8 544 222.0 544 222.1 546 223.4 548 225.4 550 226.7 551 227.3 554 228.7 556 230.1 557 230.7 558 232.1 561 234.4 562 235.4 564 236.1 566 237.2 567 237.8 568 238.0 571 238.5 573 238.8 574 238.9 576 239.3 578 239.7 578 239.8 581 240.3 583 240.8 584 240.9 586 241.3 588 241.7 589 241.7 591 241.7 593 241.7 594 241.6 596 240.6 597 240.2 598 239.7 601 238.9 604 238.1 604 237.9 606 236.9 608 235.5 610 234.9 611 233.8 614 232.1 615 231.1 616 230.3 618 228.6 620 227.3 621 227.1 624 226.1 626 225.1 626 225.1 628 224.9 630 224.7 631 224.8 634 225.1 635 225.3 636 224.9 638 224.0 640 223.4 641 223.4 644 223.6 646 223.9 646 223.9 648 224.6 651 225.4 651 225.4 654 225.7 656 226.0 656 226.0 658 226.6 661 227.2 662 227.4 664 227.2 666 226.7 667 226.5 668 225.9 671 224.8 672 224.3 674 223.8 676 222.9 678 222.1 678 222.0 681 221.3 684 220.7 684 220.6 686 220.3 688 219.9 688 219.9 691 219.1 692 218.7 694 219.0 696 219.4 696 219.3 698 218.6 701 217.9 703 217.5 704 217.3 706 216.8 708 216.5 710 216.3 711 216.2 713 216.1 714 215.6 716 212.7 718 207.2 720 205.0 721 201.4"/><path d="M381 281.6 382 281.6 384 280.8 384 280.5 386 277.7 388 274.3 391 272.0 393 270.1 394 270.3 396 271.1 398 271.5 398 272.3 401 274.1 402 274.9 404 276.0 406 277.7 406 277.9 408 279.1 410 275.5 411 274.3 412 270.5 414 269.4 414 268.9 416 269.1 418 269.4 418 269.4 421 269.4 422 269.4 424 269.2 424 269.1 426 266.6 426 265.8 428 258.0 430 252.7 431 252.3 432 251.4 434 251.6 436 252.2 438 254.0 440 255.0 441 256.1 444 258.7 446 261.8 447 263.1 448 264.1 450 265.1 451 265.6 454 266.6 454 266.7 456 267.1 457 267.3 458 266.7 461 265.9 462 265.5 464 265.2 466 264.6 468 264.1 470 264.0 471 262.2 472 261.0 474 259.2 475 257.6 476 256.6 478 254.5 478 254.4 481 253.6 482 253.3 484 253.6 486 254.1 487 254.4 488 254.8 490 255.4 491 255.7 494 256.7 495 257.2 496 258.1 498 260.0 500 261.2 501 261.5 504 262.2 506 263.0 507 263.3 508 263.1 511 262.6 514 261.0 514 260.6 516 257.2 518 254.0 518 252.9 521 249.6 521 249.2 524 247.8 526 246.2 527 245.8 528 244.7 531 243.3 532 242.8 534 240.6 536 237.9 536 236.8 538 232.8 538 231.9 541 227.8 541 227.8 544 227.9 544 228.0 546 229.2 548 231.0 550 232.1 551 232.6 554 233.9 556 235.2 557 235.7 558 237.1 561 239.5 562 240.5 564 241.2 566 242.4 567 243.1 568 243.4 571 243.9 573 244.3 574 244.4 576 244.8 578 245.2 578 245.2 581 245.6 583 246.1 584 246.1 586 246.4 588 246.8 589 246.8 591 246.9 593 246.9 594 246.8 596 246.0 597 245.7 598 245.3 601 244.6 604 243.8 604 243.6 606 242.5 608 240.9 610 240.2 611 239.0 614 236.9 615 235.7 616 234.7 618 232.7 620 231.3 621 230.9 624 229.8 626 229.0 626 229.0 628 229.0 630 229.0 631 229.4 634 230.1 635 230.6 636 230.4 638 229.9 640 229.4 641 229.5 644 229.7 646 229.9 646 229.9 648 230.3 651 230.7 651 230.7 654 230.5 656 230.4 656 230.4 658 230.7 661 231.1 662 231.3 664 231.0 666 230.6 667 230.5 668 230.0 671 229.2 672 228.9 674 228.5 676 227.9 678 227.4 678 227.3 681 226.7 684 226.1 684 226.0 686 225.7 688 225.3 688 225.3 691 224.4 692 224.0 694 224.3 696 224.7 696 224.6 698 224.1 701 223.6 703 223.3 704 223.2 706 222.8 708 222.4 710 222.2 711 222.1 713 221.8 714 221.2 716 217.9 718 211.9 720 209.4 721 205.5"/><path d="M381 294.8 382 294.9 384 294.3 384 294.1 386 291.5 388 288.0 391 285.6 393 283.6 394 283.7 396 284.3 398 284.7 398 285.5 401 287.4 402 288.3 404 289.6 406 291.7 406 291.9 408 293.5 410 290.1 411 288.8 412 285.1 414 284.0 414 283.5 416 283.5 418 283.4 418 283.3 421 282.9 422 282.8 424 282.2 424 281.9 426 279.2 426 278.3 428 270.3 430 265.0 431 264.6 432 263.7 434 263.9 436 264.5 438 266.2 440 267.1 441 268.2 444 270.7 446 273.7 447 274.9 448 275.9 450 277.0 451 277.5 454 279.0 454 279.1 456 280.0 457 280.4 458 280.3 461 280.0 462 279.8 464 279.6 466 279.1 468 278.3 470 277.9 471 275.9 472 274.5 474 272.4 475 270.4 476 269.2 478 266.6 478 266.6 481 265.5 482 265.1 484 265.5 486 266.1 487 266.4 488 266.9 490 267.5 491 267.9 494 268.8 495 269.2 496 270.0 498 271.8 500 272.8 501 273.0 504 273.7 506 274.6 507 275.0 508 274.9 511 274.7 514 273.4 514 273.0 516 269.8 518 266.6 518 265.5 521 262.1 521 261.7 524 260.1 526 258.2 527 257.7 528 256.6 531 255.2 532 254.7 534 252.7 536 250.2 536 249.2 538 245.4 538 244.6 541 240.7 541 240.7 544 240.8 544 240.8 546 241.8 548 243.2 550 243.9 551 244.2 554 244.9 556 245.8 557 246.2 558 247.5 561 249.9 562 251.0 564 251.8 566 253.3 567 254.2 568 254.6 571 255.4 573 255.8 574 255.9 576 256.3 578 256.6 578 256.7 581 257.0 583 257.5 584 257.6 586 258.1 588 258.7 589 258.8 591 259.1 593 259.3 594 259.2 596 258.4 597 258.0 598 257.4 601 256.3 604 255.0 604 254.6 606 253.2 608 251.2 610 250.4 611 249.1 614 247.0 615 245.8 616 245.0 618 243.1 620 241.7 621 241.4 624 240.3 626 239.2 626 239.1 628 238.9 630 238.7 631 238.9 634 239.4 635 239.8 636 239.6 638 239.2 640 239.0 641 239.2 644 239.9 646 240.4 646 240.5 648 241.1 651 241.5 651 241.5 654 241.2 656 240.7 656 240.7 658 240.6 661 240.7 662 240.8 664 240.3 666 239.8 667 239.6 668 239.1 671 238.3 672 238.0 674 237.6 676 236.7 678 236.0 678 235.8 681 235.0 684 234.1 684 234.0 686 233.6 688 233.3 688 233.3 691 232.7 692 232.6 694 233.2 696 234.0 696 234.0 698 233.9 701 233.6 703 233.2 704 233.0 706 232.2 708 231.4 710 231.0 711 230.5 713 229.9 714 229.2 716 225.6 718 219.5 720 217.1 721 213.2"/><path d="M381 269.7 382 269.7 384 268.9 384 268.7 386 265.9 388 262.5 391 260.2 393 258.4 394 258.6 396 259.3 398 259.8 398 260.5 401 262.4 402 263.2 404 264.4 406 266.2 406 266.4 408 267.7 410 264.2 411 263.0 412 259.3 414 258.3 414 257.8 416 258.1 418 258.4 418 258.4 421 258.5 422 258.5 424 258.2 424 258.1 426 255.5 426 254.7 428 246.7 430 241.2 431 240.9 432 239.8 434 239.9 436 240.3 438 241.9 440 242.8 441 243.8 444 246.5 446 249.7 447 250.9 448 252.1 450 253.2 451 253.7 454 255.1 454 255.2 456 255.9 457 256.1 458 255.8 461 255.2 462 254.9 464 254.7 466 254.3 468 253.9 470 253.7 471 251.9 472 250.7 474 248.9 475 247.1 476 246.1 478 243.8 478 243.7 481 242.7 482 242.3 484 242.5 486 242.9 487 243.1 488 243.5 490 244.0 491 244.4 494 245.3 495 245.8 496 246.7 498 248.6 500 249.8 501 250.1 504 250.9 506 251.7 507 252.1 508 251.8 511 251.4 514 249.9 514 249.5 516 246.2 518 243.0 518 242.0 521 238.9 521 238.5 524 237.2 526 235.8 527 235.5 528 234.5 531 233.3 532 232.9 534 230.8 536 228.1 536 227.1 538 223.1 538 222.2 541 218.0 541 218.0 544 218.0 544 217.9 546 219.0 548 220.5 550 221.4 551 221.8 554 222.8 556 223.8 557 224.3 558 225.5 561 227.8 562 228.8 564 229.6 566 231.0 567 231.7 568 232.1 571 233.0 573 233.7 574 233.9 576 234.7 578 235.3 578 235.4 581 236.1 583 236.8 584 236.8 586 237.2 588 237.6 589 237.7 591 237.6 593 237.6 594 237.5 596 236.5 597 236.0 598 235.5 601 234.5 604 233.6 604 233.3 606 232.1 608 230.4 610 229.6 611 228.4 614 226.3 615 225.1 616 224.2 618 222.2 620 220.8 621 220.5 624 219.5 626 218.8 626 218.8 628 219.0 630 219.1 631 219.5 634 220.4 635 221.0 636 220.9 638 220.6 640 220.3 641 220.5 644 221.0 646 221.3 646 221.4 648 222.0 651 222.4 651 222.4 654 222.0 656 221.5 656 221.4 658 221.4 661 221.3 662 221.3 664 220.6 666 219.6 667 219.2 668 218.4 671 217.0 672 216.5 674 215.8 676 214.8 678 214.1 678 214.0 681 213.4 684 212.9 684 212.8 686 212.7 688 212.6 688 212.6 691 212.0 692 211.8 694 212.3 696 213.0 696 213.0 698 212.7 701 212.4 703 212.3 704 212.3 706 212.1 708 211.8 710 211.6 711 211.4 713 211.2 714 210.6 716 207.5 718 201.6 720 199.3 721 195.4"/><path d="M381 289.3 382 289.4 384 288.7 384 288.5 386 285.9 388 282.6 391 280.4 393 278.7 394 278.9 396 279.7 398 280.3 398 281.1 401 283.0 402 283.8 404 285.1 406 287.0 406 287.1 408 288.6 410 285.1 411 283.9 412 280.2 414 279.2 414 278.7 416 279.0 418 279.2 418 279.2 421 279.1 422 279.1 424 278.6 424 278.3 426 275.5 426 274.6 428 266.3 430 260.6 431 260.1 432 258.8 434 258.8 436 258.9 438 260.2 440 261.1 441 262.1 444 264.8 446 268.2 447 269.6 448 270.9 450 272.2 451 272.9 454 274.7 454 274.8 456 275.9 457 276.3 458 276.1 461 275.8 462 275.6 464 275.4 466 274.9 468 274.3 470 274.0 471 272.1 472 270.7 474 268.6 475 266.7 476 265.4 478 262.7 478 262.7 481 261.3 482 260.8 484 260.8 486 261.0 487 261.2 488 261.5 490 262.0 491 262.4 494 263.4 495 264.0 496 264.9 498 267.0 500 268.3 501 268.7 504 269.6 506 270.5 507 270.9 508 270.7 511 270.3 514 268.8 514 268.4 516 265.1 518 261.9 518 260.9 521 257.8 521 257.4 524 256.1 526 254.7 527 254.3 528 253.4 531 252.1 532 251.6 534 249.4 536 246.7 536 245.6 538 241.5 538 240.5 541 236.1 541 236.1 544 235.8 544 235.7 546 236.6 548 237.9 550 238.7 551 239.0 554 240.0 556 241.0 557 241.5 558 242.8 561 245.3 562 246.5 564 247.4 566 249.0 567 250.0 568 250.5 571 251.6 573 252.4 574 252.6 576 253.4 578 254.0 578 254.1 581 254.5 583 254.9 584 254.9 586 254.9 588 254.9 589 254.9 591 254.6 593 254.2 594 254.1 596 252.9 597 252.4 598 251.8 601 250.9 604 250.0 604 249.8 606 248.7 608 247.2 610 246.5 611 245.4 614 243.5 615 242.4 616 241.5 618 239.5 620 238.2 621 237.8 624 236.7 626 235.8 626 235.8 628 235.7 630 235.7 631 235.9 634 236.6 635 237.0 636 236.8 638 236.3 640 235.8 641 235.9 644 236.2 646 236.5 646 236.5 648 237.0 651 237.4 651 237.4 654 237.2 656 236.9 656 236.9 658 237.0 661 237.2 662 237.3 664 236.8 666 236.1 667 235.9 668 235.3 671 234.4 672 234.0 674 233.6 676 233.0 678 232.6 678 232.5 681 232.2 684 231.9 684 231.8 686 231.8 688 231.6 688 231.6 691 230.9 692 230.6 694 230.9 696 231.3 696 231.2 698 230.5 701 229.8 703 229.3 704 229.0 706 228.2 708 227.5 710 227.2 711 226.9 713 226.4 714 225.7 716 222.3 718 216.3 720 213.9 721 210.0"/><path d="M381 273.7 382 273.8 384 273.1 384 272.9 386 270.3 388 267.1 391 265.0 393 263.2 394 263.4 396 264.2 398 264.7 398 265.4 401 267.3 402 268.1 404 269.2 406 270.9 406 271.1 408 272.3 410 268.8 411 267.5 412 263.7 414 262.7 414 262.2 416 262.4 418 262.7 418 262.7 421 262.7 422 262.7 424 262.4 424 262.3 426 259.7 426 258.9 428 250.9 430 245.5 431 245.1 432 244.1 434 244.2 436 244.7 438 246.3 440 247.2 441 248.2 444 250.9 446 254.0 447 255.3 448 256.4 450 257.5 451 258.0 454 259.3 454 259.4 456 260.0 457 260.3 458 259.9 461 259.3 462 259.0 464 258.8 466 258.4 468 258.0 470 257.9 471 256.2 472 255.0 474 253.2 475 251.5 476 250.4 478 248.2 478 248.2 481 247.2 482 246.8 484 247.0 486 247.4 487 247.6 488 248.0 490 248.5 491 248.8 494 249.7 495 250.1 496 250.9 498 252.8 500 253.9 501 254.2 504 254.8 506 255.6 507 255.9 508 255.6 511 255.2 514 253.7 514 253.3 516 250.0 518 246.9 518 245.9 521 242.9 521 242.5 524 241.4 526 240.1 527 239.8 528 238.9 531 237.8 532 237.3 534 235.3 536 232.7 536 231.6 538 227.6 538 226.7 541 222.5 541 222.5 544 222.3 544 222.3 546 223.2 548 224.6 550 225.4 551 225.8 554 226.7 556 227.6 557 228.0 558 229.2 561 231.5 562 232.5 564 233.2 566 234.6 567 235.4 568 235.9 571 236.9 573 237.6 574 237.8 576 238.7 578 239.4 578 239.5 581 240.3 583 241.0 584 241.0 586 241.5 588 241.9 589 241.9 591 241.9 593 241.7 594 241.6 596 240.6 597 240.1 598 239.5 601 238.5 604 237.5 604 237.2 606 235.9 608 234.2 610 233.5 611 232.2 614 230.1 615 228.9 616 228.0 618 226.0 620 224.7 621 224.4 624 223.4 626 222.6 626 222.7 628 222.8 630 222.9 631 223.3 634 224.1 635 224.7 636 224.5 638 224.1 640 223.8 641 223.9 644 224.3 646 224.7 646 224.7 648 225.3 651 225.8 651 225.8 654 225.6 656 225.4 656 225.4 658 225.6 661 225.9 662 225.9 664 225.5 666 224.9 667 224.6 668 223.9 671 222.8 672 222.4 674 221.8 676 220.9 678 220.2 678 220.1 681 219.4 684 218.7 684 218.5 686 218.2 688 217.9 688 217.8 691 217.1 692 216.7 694 217.1 696 217.6 696 217.6 698 217.2 701 216.9 703 216.7 704 216.7 706 216.5 708 216.3 710 216.3 711 216.2 713 216.1 714 215.5 716 212.6 718 206.8 720 204.5 721 200.7"/><path d="M381 284.6 382 284.6 384 283.9 384 283.7 386 281.1 388 277.9 391 275.8 393 274.1 394 274.2 396 275.1 398 275.7 398 276.4 401 278.4 402 279.1 404 280.3 406 282.0 406 282.1 408 283.3 410 279.7 411 278.4 412 274.6 414 273.5 414 273.0 416 273.1 418 273.2 418 273.2 421 273.1 422 273.1 424 272.6 424 272.5 426 269.8 426 268.9 428 260.9 430 255.4 431 255.0 432 253.9 434 254.1 436 254.5 438 256.1 440 257.1 441 258.1 444 260.9 446 264.1 447 265.5 448 266.7 450 267.8 451 268.4 454 269.9 454 270.0 456 270.8 457 271.1 458 270.8 461 270.3 462 270.0 464 269.9 466 269.4 468 269.0 470 268.8 471 267.0 472 265.8 474 263.8 475 262.0 476 260.9 478 258.4 478 258.4 481 257.1 482 256.6 484 256.7 486 256.9 487 256.9 488 257.2 490 257.6 491 257.9 494 258.7 495 259.1 496 260.0 498 261.9 500 263.1 501 263.4 504 264.4 506 265.3 507 265.7 508 265.6 511 265.4 514 264.1 514 263.7 516 260.5 518 257.5 518 256.5 521 253.4 521 253.1 524 251.8 526 250.3 527 249.9 528 248.9 531 247.4 532 246.9 534 244.7 536 241.9 536 240.9 538 236.7 538 235.7 541 231.5 541 231.5 544 231.3 544 231.3 546 232.3 548 233.9 550 234.9 551 235.3 554 236.4 556 237.6 557 238.1 558 239.4 561 241.7 562 242.7 564 243.5 566 244.7 567 245.4 568 245.7 571 246.4 573 246.9 574 247.0 576 247.5 578 247.9 578 248.0 581 248.5 583 249.0 584 249.0 586 249.4 588 249.9 589 249.9 591 250.0 593 250.2 594 250.1 596 249.5 597 249.2 598 248.9 601 248.3 604 247.7 604 247.5 606 246.4 608 244.8 610 244.1 611 242.8 614 240.5 615 239.2 616 238.1 618 235.7 620 234.0 621 233.5 624 231.9 626 230.7 626 230.6 628 230.3 630 230.1 631 230.3 634 231.0 635 231.4 636 231.3 638 230.9 640 230.7 641 230.9 644 231.6 646 232.2 646 232.3 648 233.2 651 234.2 651 234.2 654 234.4 656 234.6 656 234.6 658 235.0 661 235.3 662 235.4 664 235.0 666 234.2 667 233.9 668 233.1 671 231.8 672 231.3 674 230.7 676 229.6 678 228.8 678 228.6 681 227.9 684 227.3 684 227.2 686 227.0 688 226.8 688 226.7 691 226.2 692 225.9 694 226.4 696 227.1 696 227.0 698 226.7 701 226.4 703 226.1 704 225.9 706 225.4 708 224.9 710 224.7 711 224.4 713 223.9 714 223.2 716 219.7 718 213.5 720 211.1 721 207.0"/></g><g stroke="#5375ea" stroke-opacity="0.1" stroke-width="1.3"><path d="M381 277.0 382 277.0 384 276.2 384 276.0 386 273.3 388 269.9 391 267.7 393 265.8 394 266.0 396 266.7 398 267.2 398 267.9 401 269.7 402 270.4 404 271.5 406 273.2 406 273.3 408 274.5 410 270.9 411 269.7 412 265.9 414 264.9 414 264.4 416 264.7 418 265.0 418 265.0 421 265.2 422 265.3 424 265.1 424 265.0 426 262.6 426 261.8 428 254.0 430 248.6 431 248.3 432 247.3 434 247.5 436 247.9 438 249.4 440 250.3 441 251.2 444 253.7 446 256.6 447 257.8 448 258.8 450 259.8 451 260.2 454 261.4 454 261.5 456 262.1 457 262.4 458 262.1 461 261.7 462 261.5 464 261.4 466 261.2 468 261.0 470 260.9 471 259.3 472 258.1 474 256.3 475 254.6 476 253.6 478 251.2 478 251.2 481 250.0 482 249.5 484 249.5 486 249.6 487 249.7 488 249.9 490 250.3 491 250.6 494 251.3 495 251.8 496 252.6 498 254.6 500 255.9 501 256.3 504 257.3 506 258.4 507 258.9 508 258.8 511 258.6 514 257.3 514 256.9 516 253.6 518 250.5 518 249.5 521 246.2 521 245.8 524 244.3 526 242.6 527 242.2 528 241.1 531 239.6 532 239.1 534 236.9 536 234.1 536 233.1 538 229.0 538 228.1 541 224.0 541 224.0 544 224.0 544 224.1 546 225.2 548 226.9 550 227.9 551 228.4 554 229.5 556 230.6 557 231.1 558 232.4 561 234.8 562 235.8 564 236.5 566 237.8 567 238.6 568 238.9 571 239.8 573 240.4 574 240.6 576 241.3 578 241.8 578 241.9 581 242.5 583 243.0 584 243.0 586 243.4 588 243.6 589 243.7 591 243.5 593 243.4 594 243.3 596 242.2 597 241.8 598 241.3 601 240.5 604 239.7 604 239.5 606 238.4 608 236.9 610 236.3 611 235.2 614 233.3 615 232.2 616 231.3 618 229.4 620 228.0 621 227.7 624 226.5 626 225.5 626 225.5 628 225.3 630 225.2 631 225.4 634 225.9 635 226.2 636 226.0 638 225.4 640 225.0 641 225.1 644 225.6 646 226.1 646 226.2 648 227.1 651 228.0 651 228.0 654 228.3 656 228.5 656 228.6 658 229.1 661 229.5 662 229.6 664 229.2 666 228.5 667 228.2 668 227.4 671 226.1 672 225.5 674 224.8 676 223.6 678 222.8 678 222.6 681 221.8 684 221.2 684 221.1 686 221.0 688 220.9 688 220.9 691 220.5 692 220.4 694 221.0 696 221.9 696 221.8 698 221.8 701 221.6 703 221.5 704 221.4 706 221.0 708 220.5 710 220.3 711 220.0 713 219.5 714 218.8 716 215.3 718 209.0 720 206.5 721 202.4"/><path d="M381 275.7 382 275.7 384 274.9 384 274.7 386 272.0 388 268.7 391 266.5 393 264.7 394 264.9 396 265.8 398 266.4 398 267.2 401 269.3 402 270.2 404 271.5 406 273.4 406 273.6 408 275.0 410 271.6 411 270.4 412 266.6 414 265.6 414 265.1 416 265.2 418 265.3 418 265.3 421 265.0 422 265.0 424 264.4 424 264.2 426 261.4 426 260.5 428 252.3 430 246.6 431 246.2 432 245.1 434 245.2 436 245.6 438 247.3 440 248.4 441 249.5 444 252.4 446 255.8 447 257.2 448 258.5 450 259.7 451 260.4 454 261.9 454 261.9 456 262.7 457 263.0 458 262.6 461 262.1 462 261.7 464 261.5 466 261.0 468 260.5 470 260.3 471 258.5 472 257.2 474 255.3 475 253.6 476 252.4 478 250.0 478 250.0 481 248.8 482 248.3 484 248.5 486 248.7 487 248.8 488 249.1 490 249.5 491 249.8 494 250.7 495 251.2 496 252.1 498 254.1 500 255.4 501 255.8 504 256.8 506 257.9 507 258.3 508 258.2 511 258.0 514 256.6 514 256.2 516 253.0 518 249.8 518 248.8 521 245.5 521 245.1 524 243.6 526 242.0 527 241.5 528 240.4 531 239.0 532 238.5 534 236.3 536 233.6 536 232.6 538 228.6 538 227.7 541 223.6 541 223.6 544 223.6 544 223.7 546 224.8 548 226.5 550 227.5 551 227.9 554 229.0 556 230.0 557 230.5 558 231.8 561 234.0 562 235.0 564 235.8 566 237.1 567 237.8 568 238.2 571 239.1 573 239.7 574 239.9 576 240.6 578 241.2 578 241.3 581 241.9 583 242.4 584 242.4 586 242.7 588 242.9 589 243.0 591 242.8 593 242.7 594 242.6 596 241.6 597 241.2 598 240.7 601 239.9 604 239.3 604 239.1 606 238.1 608 236.6 610 236.0 611 235.0 614 233.0 615 231.9 616 231.0 618 229.0 620 227.5 621 227.1 624 225.9 626 224.8 626 224.8 628 224.6 630 224.5 631 224.7 634 225.3 635 225.7 636 225.5 638 225.0 640 224.6 641 224.7 644 225.2 646 225.6 646 225.7 648 226.4 651 227.1 651 227.1 654 227.2 656 227.3 656 227.3 658 227.6 661 228.1 662 228.3 664 228.0 666 227.5 667 227.3 668 226.8 671 225.9 672 225.5 674 225.1 676 224.3 678 223.6 678 223.5 681 222.8 684 222.1 684 221.9 686 221.5 688 221.0 688 221.0 691 220.0 692 219.7 694 219.9 696 220.4 696 220.2 698 219.8 701 219.4 703 219.2 704 219.1 706 218.9 708 218.8 710 218.8 711 218.7 713 218.7 714 218.1 716 215.0 718 209.1 720 206.7 721 202.8"/><path d="M381 277.8 382 277.9 384 277.3 384 277.1 386 274.5 388 271.2 391 268.9 393 267.1 394 267.2 396 267.9 398 268.4 398 269.2 401 271.2 402 272.0 404 273.2 406 275.1 406 275.3 408 276.7 410 273.2 411 272.0 412 268.2 414 267.2 414 266.6 416 266.7 418 266.8 418 266.7 421 266.4 422 266.4 424 265.8 424 265.5 426 262.8 426 261.9 428 253.9 430 248.4 431 248.1 432 247.1 434 247.3 436 248.0 438 249.9 440 251.0 441 252.1 444 255.0 446 258.3 447 259.6 448 260.7 450 261.8 451 262.3 454 263.5 454 263.6 456 264.1 457 264.4 458 264.0 461 263.4 462 263.1 464 263.0 466 262.6 468 262.2 470 262.0 471 260.2 472 259.0 474 257.0 475 255.2 476 254.1 478 251.5 478 251.5 481 250.2 482 249.7 484 249.8 486 250.1 487 250.2 488 250.7 490 251.2 491 251.7 494 252.9 495 253.6 496 254.6 498 256.9 500 258.2 501 258.6 504 259.5 506 260.3 507 260.6 508 260.3 511 259.6 514 257.9 514 257.4 516 253.9 518 250.6 518 249.6 521 246.4 521 246.0 524 244.7 526 243.4 527 243.0 528 242.1 531 240.9 532 240.5 534 238.4 536 235.7 536 234.6 538 230.5 538 229.6 541 225.3 541 225.3 544 225.1 544 225.1 546 226.1 548 227.8 550 228.9 551 229.3 554 230.6 556 232.0 557 232.5 558 234.0 561 236.4 562 237.4 564 238.1 566 239.3 567 240.0 568 240.2 571 240.7 573 241.1 574 241.2 576 241.7 578 242.2 578 242.3 581 242.9 583 243.6 584 243.6 586 244.1 588 244.7 589 244.7 591 244.8 593 244.8 594 244.6 596 243.6 597 243.2 598 242.6 601 241.7 604 240.8 604 240.5 606 239.3 608 237.8 610 237.2 611 236.1 614 234.2 615 233.2 616 232.4 618 230.5 620 229.2 621 228.8 624 227.7 626 226.7 626 226.6 628 226.4 630 226.3 631 226.5 634 227.0 635 227.3 636 227.1 638 226.6 640 226.3 641 226.4 644 227.0 646 227.5 646 227.6 648 228.4 651 229.1 651 229.1 654 229.1 656 229.0 656 228.9 658 229.2 661 229.4 662 229.5 664 229.1 666 228.5 667 228.3 668 227.8 671 226.9 672 226.6 674 226.2 676 225.6 678 225.1 678 225.0 681 224.4 684 223.7 684 223.6 686 223.2 688 222.8 688 222.7 691 221.8 692 221.5 694 221.8 696 222.3 696 222.2 698 221.9 701 221.7 703 221.5 704 221.5 706 221.3 708 221.1 710 221.0 711 220.8 713 220.5 714 219.8 716 216.3 718 210.0 720 207.5 721 203.4"/><path d="M381 280.1 382 280.1 384 279.3 384 279.0 386 276.2 388 272.6 391 270.0 393 268.0 394 268.1 396 268.6 398 269.0 398 269.7 401 271.5 402 272.2 404 273.4 406 275.3 406 275.5 408 277.0 410 273.7 411 272.5 412 268.9 414 268.0 414 267.6 416 268.0 418 268.5 418 268.6 421 268.8 422 268.8 424 268.6 424 268.4 426 265.8 426 264.9 428 256.9 430 251.2 431 250.8 432 249.6 434 249.6 436 249.7 438 251.0 440 251.8 441 252.8 444 255.2 446 258.3 447 259.6 448 260.7 450 261.9 451 262.5 454 264.0 454 264.1 456 265.0 457 265.3 458 265.1 461 264.8 462 264.6 464 264.4 466 264.1 468 263.8 470 263.6 471 261.9 472 260.6 474 258.7 475 256.9 476 255.8 478 253.3 478 253.3 481 252.1 482 251.6 484 251.7 486 251.9 487 252.1 488 252.4 490 252.9 491 253.2 494 254.1 495 254.7 496 255.5 498 257.6 500 258.8 501 259.1 504 260.0 506 260.9 507 261.3 508 261.1 511 260.7 514 259.1 514 258.7 516 255.3 518 252.2 518 251.1 521 247.9 521 247.5 524 246.2 526 244.7 527 244.3 528 243.3 531 242.1 532 241.6 534 239.5 536 236.9 536 235.9 538 231.9 538 231.0 541 226.9 541 226.9 544 227.0 544 227.0 546 228.0 548 229.6 550 230.5 551 230.9 554 231.9 556 232.9 557 233.3 558 234.5 561 236.8 562 237.7 564 238.4 566 239.7 567 240.4 568 240.8 571 241.6 573 242.2 574 242.5 576 243.2 578 243.8 578 243.9 581 244.6 583 245.3 584 245.3 586 245.7 588 246.1 589 246.2 591 246.1 593 246.0 594 245.9 596 244.8 597 244.4 598 243.8 601 242.9 604 242.0 604 241.7 606 240.5 608 238.9 610 238.1 611 237.0 614 234.9 615 233.8 616 233.0 618 231.1 620 229.8 621 229.5 624 228.6 626 227.8 626 227.8 628 227.9 630 227.9 631 228.2 634 228.9 635 229.3 636 229.1 638 228.5 640 228.0 641 228.0 644 228.2 646 228.4 646 228.4 648 228.9 651 229.4 651 229.4 654 229.4 656 229.4 656 229.4 658 229.8 661 230.4 662 230.6 664 230.4 666 230.1 667 230.0 668 229.6 671 228.7 672 228.4 674 228.0 676 227.2 678 226.5 678 226.4 681 225.7 684 224.9 684 224.7 686 224.3 688 223.8 688 223.7 691 222.8 692 222.5 694 222.8 696 223.2 696 223.1 698 222.7 701 222.3 703 222.2 704 222.1 706 221.9 708 221.7 710 221.7 711 221.6 713 221.5 714 220.9 716 217.7 718 211.8 720 209.5 721 205.5"/><path d="M381 274.5 382 274.5 384 273.7 384 273.4 386 270.8 388 267.5 391 265.5 393 263.8 394 264.0 396 265.0 398 265.6 398 266.4 401 268.4 402 269.2 404 270.4 406 272.0 406 272.1 408 273.2 410 269.4 411 268.1 412 264.2 414 263.0 414 262.5 416 262.5 418 262.5 418 262.5 421 262.4 422 262.4 424 262.1 424 262.0 426 259.5 426 258.7 428 250.9 430 245.7 431 245.4 432 244.5 434 244.8 436 245.5 438 247.4 440 248.4 441 249.5 444 252.1 446 255.2 447 256.4 448 257.5 450 258.5 451 258.9 454 260.1 454 260.1 456 260.7 457 260.9 458 260.5 461 259.9 462 259.7 464 259.5 466 259.1 468 258.8 470 258.6 471 256.9 472 255.7 474 253.8 475 252.1 476 251.0 478 248.5 478 248.5 481 247.3 482 246.8 484 246.9 486 247.1 487 247.2 488 247.6 490 248.1 491 248.5 494 249.5 495 250.1 496 251.1 498 253.3 500 254.7 501 255.2 504 256.3 506 257.4 507 257.8 508 257.6 511 257.2 514 255.6 514 255.1 516 251.5 518 248.2 518 247.1 521 243.5 521 243.1 524 241.5 526 239.8 527 239.4 528 238.3 531 237.0 532 236.6 534 234.6 536 232.1 536 231.1 538 227.3 538 226.5 541 222.6 541 222.6 544 222.8 544 222.8 546 224.0 548 225.6 550 226.6 551 226.9 554 227.9 556 228.8 557 229.2 558 230.4 561 232.6 562 233.6 564 234.3 566 235.7 567 236.5 568 236.9 571 237.9 573 238.6 574 238.8 576 239.7 578 240.3 578 240.4 581 241.0 583 241.5 584 241.5 586 241.7 588 241.8 589 241.8 591 241.5 593 241.3 594 241.1 596 240.0 597 239.6 598 239.1 601 238.3 604 237.6 604 237.4 606 236.5 608 235.2 610 234.6 611 233.6 614 231.8 615 230.7 616 229.9 618 227.9 620 226.4 621 226.1 624 224.8 626 223.7 626 223.7 628 223.5 630 223.4 631 223.6 634 224.2 635 224.6 636 224.4 638 224.0 640 223.7 641 223.8 644 224.4 646 224.9 646 225.0 648 225.7 651 226.4 651 226.4 654 226.4 656 226.2 656 226.2 658 226.4 661 226.6 662 226.6 664 226.1 666 225.5 667 225.2 668 224.6 671 223.6 672 223.3 674 222.9 676 222.3 678 221.8 678 221.8 681 221.5 684 221.1 684 221.0 686 220.9 688 220.7 688 220.7 691 219.9 692 219.5 694 219.8 696 220.2 696 220.1 698 219.4 701 218.8 703 218.4 704 218.2 706 217.8 708 217.4 710 217.3 711 217.2 713 217.0 714 216.4 716 213.3 718 207.4 720 205.1 721 201.1"/><path d="M381 273.4 382 273.3 384 272.5 384 272.2 386 269.5 388 266.3 391 264.3 393 262.7 394 263.0 396 264.1 398 264.8 398 265.8 401 268.0 402 268.8 404 270.1 406 271.9 406 272.1 408 273.3 410 269.7 411 268.4 412 264.5 414 263.4 414 262.8 416 262.9 418 263.0 418 262.9 421 262.8 422 262.8 424 262.5 424 262.4 426 259.8 426 258.9 428 251.0 430 245.6 431 245.3 432 244.2 434 244.4 436 244.7 438 246.2 440 247.0 441 248.0 444 250.4 446 253.4 447 254.6 448 255.7 450 256.8 451 257.4 454 258.8 454 258.9 456 259.8 457 260.2 458 260.0 461 259.8 462 259.7 464 259.6 466 259.4 468 259.1 470 258.9 471 257.2 472 255.9 474 254.0 475 252.2 476 251.1 478 248.6 478 248.5 481 247.3 482 246.8 484 246.9 486 247.2 487 247.4 488 247.8 490 248.3 491 248.6 494 249.6 495 250.1 496 251.0 498 252.9 500 254.1 501 254.4 504 255.1 506 255.7 507 256.0 508 255.7 511 255.2 514 253.6 514 253.2 516 249.9 518 246.8 518 245.8 521 242.8 521 242.4 524 241.3 526 240.0 527 239.7 528 238.9 531 237.8 532 237.3 534 235.3 536 232.7 536 231.7 538 227.7 538 226.8 541 222.7 541 222.7 544 222.7 544 222.7 546 223.8 548 225.3 550 226.3 551 226.7 554 227.7 556 228.6 557 229.0 558 230.2 561 232.3 562 233.2 564 233.8 566 234.9 567 235.5 568 235.8 571 236.5 573 237.1 574 237.3 576 238.0 578 238.7 578 238.9 581 239.7 583 240.5 584 240.5 586 241.1 588 241.7 589 241.7 591 241.8 593 241.8 594 241.6 596 240.7 597 240.2 598 239.7 601 238.9 604 238.1 604 237.8 606 236.7 608 235.2 610 234.6 611 233.5 614 231.5 615 230.3 616 229.5 618 227.4 620 225.9 621 225.5 624 224.2 626 223.0 626 223.0 628 222.6 630 222.4 631 222.6 634 223.1 635 223.5 636 223.3 638 222.9 640 222.6 641 222.8 644 223.5 646 224.1 646 224.2 648 225.1 651 226.0 651 226.0 654 226.1 656 226.1 656 226.1 658 226.4 661 226.7 662 226.8 664 226.3 666 225.7 667 225.5 668 224.9 671 223.9 672 223.5 674 223.1 676 222.4 678 221.9 678 221.8 681 221.3 684 220.7 684 220.5 686 220.2 688 219.8 688 219.7 691 218.8 692 218.4 694 218.6 696 219.0 696 218.8 698 218.3 701 217.8 703 217.6 704 217.5 706 217.3 708 217.1 710 217.0 711 217.0 713 216.9 714 216.2 716 213.1 718 207.2 720 204.8 721 200.8"/><path d="M381 277.7 382 277.7 384 277.0 384 276.7 386 274.2 388 271.2 391 269.1 393 267.5 394 267.7 396 268.5 398 269.0 398 269.8 401 271.8 402 272.6 404 273.9 406 275.9 406 276.1 408 277.6 410 274.3 411 273.0 412 269.3 414 268.3 414 267.8 416 268.0 418 268.0 418 268.0 421 267.6 422 267.6 424 267.0 424 266.7 426 264.0 426 263.1 428 255.1 430 249.8 431 249.4 432 248.5 434 248.8 436 249.5 438 251.3 440 252.2 441 253.2 444 255.6 446 258.3 447 259.4 448 260.2 450 261.1 451 261.5 454 262.7 454 262.7 456 263.6 457 264.0 458 264.0 461 264.1 462 264.2 464 264.3 466 264.4 468 264.3 470 264.1 471 262.3 472 260.9 474 258.8 475 256.8 476 255.5 478 252.6 478 252.5 481 251.1 482 250.5 484 250.7 486 251.0 487 251.3 488 251.8 490 252.4 491 252.8 494 253.9 495 254.5 496 255.4 498 257.3 500 258.4 501 258.6 504 259.3 506 260.1 507 260.4 508 260.2 511 259.9 514 258.6 514 258.2 516 255.0 518 251.9 518 250.8 521 247.6 521 247.2 524 245.7 526 244.1 527 243.7 528 242.7 531 241.5 532 241.2 534 239.2 536 236.9 536 235.9 538 232.2 538 231.4 541 227.4 541 227.4 544 227.4 544 227.3 546 228.1 548 229.1 550 229.7 551 229.8 554 230.3 556 231.0 557 231.4 558 232.7 561 235.3 562 236.5 564 237.6 566 239.6 567 240.6 568 241.2 571 242.4 573 243.1 574 243.2 576 243.7 578 243.9 578 243.9 581 244.0 583 244.3 584 244.3 586 244.5 588 245.0 589 245.1 591 245.3 593 245.5 594 245.4 596 244.7 597 244.4 598 244.0 601 243.1 604 242.0 604 241.7 606 240.4 608 238.5 610 237.7 611 236.5 614 234.4 615 233.2 616 232.4 618 230.4 620 229.1 621 228.8 624 227.7 626 226.7 626 226.7 628 226.6 630 226.6 631 226.9 634 227.8 635 228.4 636 228.4 638 228.3 640 228.3 641 228.4 644 229.1 646 229.6 646 229.6 648 230.0 651 230.1 651 230.1 654 229.4 656 228.8 656 228.7 658 228.7 661 228.9 662 229.1 664 228.9 666 228.8 667 228.9 668 228.6 671 228.2 672 227.9 674 227.6 676 226.9 678 226.0 678 225.9 681 224.8 684 223.8 684 223.6 686 223.1 688 222.8 688 222.7 691 222.2 692 222.1 694 222.7 696 223.6 696 223.7 698 223.7 701 223.5 703 223.3 704 223.2 706 222.6 708 221.9 710 221.6 711 221.2 713 220.6 714 219.9 716 216.4 718 210.3 720 207.9 721 203.9"/><path d="M381 274.6 382 274.6 384 273.9 384 273.6 386 270.9 388 267.5 391 265.1 393 263.2 394 263.3 396 264.0 398 264.4 398 265.1 401 266.9 402 267.6 404 268.8 406 270.6 406 270.8 408 272.2 410 268.8 411 267.5 412 263.9 414 262.9 414 262.5 416 262.8 418 263.2 418 263.2 421 263.3 422 263.3 424 263.1 424 262.9 426 260.3 426 259.4 428 251.4 430 245.9 431 245.6 432 244.4 434 244.6 436 244.9 438 246.4 440 247.4 441 248.4 444 251.0 446 254.2 447 255.5 448 256.6 450 257.7 451 258.2 454 259.5 454 259.6 456 260.2 457 260.4 458 260.0 461 259.4 462 259.0 464 258.8 466 258.4 468 258.0 470 257.9 471 256.2 472 255.0 474 253.3 475 251.7 476 250.7 478 248.6 478 248.5 481 247.6 482 247.3 484 247.6 486 248.0 487 248.1 488 248.5 490 248.9 491 249.2 494 250.0 495 250.4 496 251.2 498 252.9 500 254.0 501 254.3 504 255.0 506 255.7 507 256.0 508 255.8 511 255.5 514 254.0 514 253.6 516 250.3 518 247.3 518 246.3 521 243.2 521 242.8 524 241.6 526 240.1 527 239.8 528 238.8 531 237.6 532 237.2 534 235.1 536 232.5 536 231.5 538 227.5 538 226.6 541 222.5 541 222.5 544 222.6 544 222.6 546 223.7 548 225.2 550 226.2 551 226.6 554 227.5 556 228.5 557 228.9 558 230.1 561 232.2 562 233.2 564 233.9 566 235.1 567 235.8 568 236.2 571 237.0 573 237.7 574 237.9 576 238.7 578 239.3 578 239.4 581 240.2 583 240.9 584 240.9 586 241.3 588 241.7 589 241.8 591 241.7 593 241.6 594 241.5 596 240.5 597 240.1 598 239.6 601 238.7 604 237.9 604 237.7 606 236.5 608 235.0 610 234.3 611 233.2 614 231.1 615 230.0 616 229.1 618 227.1 620 225.7 621 225.3 624 224.1 626 223.1 626 223.1 628 223.0 630 222.9 631 223.2 634 223.8 635 224.3 636 224.1 638 223.6 640 223.3 641 223.4 644 223.9 646 224.4 646 224.4 648 225.2 651 225.9 651 225.9 654 226.0 656 226.0 656 226.0 658 226.3 661 226.7 662 226.8 664 226.4 666 225.8 667 225.6 668 225.0 671 223.9 672 223.5 674 223.0 676 222.2 678 221.5 678 221.4 681 220.8 684 220.2 684 220.0 686 219.8 688 219.4 688 219.4 691 218.6 692 218.3 694 218.7 696 219.3 696 219.2 698 218.8 701 218.5 703 218.3 704 218.2 706 218.0 708 217.8 710 217.7 711 217.6 713 217.4 714 216.8 716 213.6 718 207.5 720 205.1 721 201.1"/><path d="M381 272.8 382 272.8 384 272.1 384 271.8 386 269.3 388 266.1 391 264.1 393 262.6 394 262.8 396 263.8 398 264.3 398 265.1 401 267.0 402 267.8 404 268.9 406 270.5 406 270.6 408 271.7 410 268.0 411 266.7 412 262.9 414 261.8 414 261.3 416 261.6 418 261.9 418 261.9 421 262.1 422 262.1 424 262.0 424 262.0 426 259.5 426 258.7 428 250.9 430 245.6 431 245.2 432 244.2 434 244.3 436 244.6 438 246.0 440 246.8 441 247.8 444 250.1 446 253.1 447 254.3 448 255.4 450 256.5 451 257.0 454 258.4 454 258.5 456 259.3 457 259.7 458 259.5 461 259.1 462 258.9 464 258.8 466 258.5 468 258.0 470 257.8 471 256.0 472 254.7 474 252.7 475 250.9 476 249.7 478 247.2 478 247.1 481 245.9 482 245.5 484 245.7 486 246.1 487 246.4 488 246.9 490 247.6 491 248.1 494 249.3 495 250.0 496 251.0 498 253.1 500 254.4 501 254.8 504 255.5 506 256.2 507 256.4 508 256.0 511 255.2 514 253.4 514 252.9 516 249.3 518 246.1 518 245.0 521 241.8 521 241.4 524 240.2 526 238.9 527 238.6 528 237.9 531 236.9 532 236.5 534 234.5 536 231.9 536 230.9 538 226.9 538 226.0 541 221.8 541 221.8 544 221.6 544 221.6 546 222.5 548 224.0 550 224.9 551 225.3 554 226.3 556 227.5 557 228.1 558 229.5 561 232.0 562 233.2 564 234.1 566 235.6 567 236.4 568 236.8 571 237.6 573 238.1 574 238.2 576 238.6 578 238.9 578 238.9 581 239.2 583 239.5 584 239.5 586 239.8 588 240.1 589 240.1 591 240.2 593 240.3 594 240.2 596 239.6 597 239.3 598 238.9 601 238.3 604 237.6 604 237.4 606 236.3 608 234.6 610 233.8 611 232.5 614 230.2 615 229.0 616 228.0 618 225.8 620 224.4 621 224.1 624 223.1 626 222.3 626 222.4 628 222.7 630 222.8 631 223.2 634 224.2 635 224.8 636 224.7 638 224.2 640 223.8 641 223.8 644 224.0 646 224.1 646 224.1 648 224.4 651 224.6 651 224.7 654 224.4 656 224.3 656 224.3 658 224.7 661 225.2 662 225.4 664 225.2 666 224.9 667 224.8 668 224.4 671 223.5 672 223.1 674 222.7 676 221.8 678 221.1 678 220.9 681 220.1 684 219.4 684 219.2 686 218.9 688 218.6 688 218.6 691 218.0 692 217.7 694 218.3 696 219.0 696 219.0 698 218.9 701 218.8 703 218.7 704 218.6 706 218.3 708 217.9 710 217.6 711 217.3 713 216.7 714 216.0 716 212.3 718 205.9 720 203.4 721 199.2"/><path d="M381 275.1 382 275.0 384 274.2 384 273.9 386 271.3 388 268.0 391 266.0 393 264.4 394 264.6 396 265.8 398 266.5 398 267.4 401 269.6 402 270.5 404 271.8 406 273.7 406 273.9 408 275.2 410 271.6 411 270.3 412 266.5 414 265.4 414 264.8 416 264.8 418 264.8 418 264.7 421 264.4 422 264.3 424 263.8 424 263.5 426 260.8 426 259.9 428 251.9 430 246.4 431 246.0 432 245.0 434 245.2 436 245.8 438 247.7 440 248.8 441 250.0 444 253.0 446 256.4 447 257.8 448 259.0 450 260.2 451 260.8 454 262.1 454 262.1 456 262.7 457 262.9 458 262.4 461 261.5 462 261.0 464 260.7 466 260.0 468 259.3 470 259.1 471 257.3 472 256.0 474 254.2 475 252.5 476 251.5 478 249.3 478 249.3 481 248.5 482 248.2 484 248.6 486 249.2 487 249.5 488 250.0 490 250.6 491 251.0 494 252.0 495 252.5 496 253.3 498 255.2 500 256.3 501 256.5 504 257.1 506 257.7 507 257.9 508 257.6 511 257.0 514 255.4 514 254.9 516 251.6 518 248.4 518 247.4 521 244.3 521 243.9 524 242.8 526 241.4 527 241.1 528 240.3 531 239.2 532 238.8 534 236.7 536 234.2 536 233.2 538 229.2 538 228.3 541 224.1 541 224.1 544 224.1 544 224.1 546 225.1 548 226.6 550 227.6 551 227.9 554 228.9 556 229.9 557 230.4 558 231.6 561 233.8 562 234.8 564 235.5 566 236.8 567 237.5 568 237.9 571 238.6 573 239.2 574 239.4 576 240.0 578 240.6 578 240.7 581 241.3 583 242.0 584 242.0 586 242.5 588 242.9 589 243.0 591 243.1 593 243.2 594 243.1 596 242.2 597 241.9 598 241.4 601 240.6 604 239.8 604 239.5 606 238.3 608 236.6 610 235.8 611 234.5 614 232.3 615 231.0 616 230.0 618 227.9 620 226.4 621 226.1 624 225.0 626 224.1 626 224.1 628 224.2 630 224.3 631 224.7 634 225.6 635 226.2 636 226.1 638 225.8 640 225.5 641 225.6 644 226.0 646 226.4 646 226.4 648 226.9 651 227.3 651 227.4 654 227.2 656 226.9 656 226.9 658 227.1 661 227.4 662 227.5 664 227.1 666 226.6 667 226.4 668 225.9 671 225.0 672 224.7 674 224.3 676 223.8 678 223.3 678 223.2 681 222.7 684 222.2 684 222.1 686 221.9 688 221.6 688 221.5 691 220.7 692 220.3 694 220.6 696 221.0 696 220.9 698 220.3 701 219.7 703 219.4 704 219.2 706 218.8 708 218.5 710 218.4 711 218.2 713 218.1 714 217.5 716 214.4 718 208.5 720 206.2 721 202.3"/><path d="M381 275.0 382 274.9 384 274.1 384 273.8 386 271.2 388 267.9 391 265.8 393 264.2 394 264.4 396 265.5 398 266.1 398 266.9 401 269.0 402 269.8 404 271.0 406 272.6 406 272.7 408 273.8 410 270.0 411 268.7 412 264.8 414 263.6 414 263.1 416 263.1 418 263.3 418 263.3 421 263.3 422 263.4 424 263.2 424 263.2 426 260.8 426 260.0 428 252.4 430 247.2 431 246.9 432 246.0 434 246.2 436 246.7 438 248.2 440 249.0 441 250.0 444 252.2 446 255.0 447 256.1 448 257.0 450 257.9 451 258.4 454 259.6 454 259.7 456 260.5 457 260.8 458 260.6 461 260.4 462 260.4 464 260.4 466 260.3 468 260.1 470 260.0 471 258.3 472 257.1 474 255.2 475 253.3 476 252.1 478 249.5 478 249.5 481 248.1 482 247.6 484 247.6 486 247.8 487 248.0 488 248.4 490 248.9 491 249.3 494 250.4 495 251.1 496 252.0 498 254.2 500 255.5 501 255.9 504 256.7 506 257.4 507 257.7 508 257.3 511 256.7 514 254.9 514 254.5 516 251.1 518 247.9 518 246.9 521 243.8 521 243.4 524 242.4 526 241.2 527 240.9 528 240.1 531 239.1 532 238.7 534 236.6 536 233.9 536 232.8 538 228.7 538 227.7 541 223.3 541 223.2 544 222.9 544 222.8 546 223.7 548 225.1 550 226.0 551 226.4 554 227.6 556 229.0 557 229.7 558 231.2 561 233.9 562 235.1 564 236.0 566 237.4 567 238.2 568 238.5 571 239.1 573 239.4 574 239.4 576 239.6 578 239.8 578 239.8 581 240.0 583 240.4 584 240.4 586 240.8 588 241.5 589 241.6 591 241.9 593 242.3 594 242.3 596 241.8 597 241.6 598 241.3 601 240.7 604 239.9 604 239.6 606 238.3 608 236.4 610 235.5 611 234.1 614 231.6 615 230.3 616 229.3 618 227.1 620 225.7 621 225.3 624 224.4 626 223.7 626 223.7 628 224.0 630 224.1 631 224.5 634 225.3 635 225.8 636 225.6 638 225.0 640 224.5 641 224.6 644 224.8 646 225.1 646 225.1 648 225.6 651 226.3 651 226.3 654 226.5 656 226.7 656 226.7 658 227.3 661 227.9 662 228.1 664 227.7 666 227.2 667 226.9 668 226.2 671 224.9 672 224.3 674 223.6 676 222.5 678 221.7 678 221.5 681 220.8 684 220.3 684 220.3 686 220.3 688 220.4 688 220.4 691 220.1 692 220.0 694 220.6 696 221.4 696 221.3 698 221.0 701 220.5 703 220.1 704 219.8 706 219.0 708 218.2 710 217.9 711 217.5 713 217.0 714 216.3 716 212.9 718 207.0 720 204.6 721 200.8"/><path d="M381 271.4 382 271.4 384 270.6 384 270.3 386 267.6 388 264.2 391 262.0 393 260.2 394 260.3 396 261.2 398 261.7 398 262.5 401 264.5 402 265.3 404 266.5 406 268.3 406 268.5 408 269.8 410 266.3 411 265.0 412 261.2 414 260.2 414 259.7 416 259.9 418 260.0 418 260.0 421 259.9 422 259.9 424 259.5 424 259.3 426 256.7 426 255.8 428 247.8 430 242.4 431 242.0 432 241.0 434 241.2 436 241.7 438 243.4 440 244.5 441 245.6 444 248.5 446 251.9 447 253.2 448 254.4 450 255.6 451 256.1 454 257.5 454 257.5 456 258.1 457 258.3 458 257.8 461 257.0 462 256.5 464 256.2 466 255.5 468 254.8 470 254.6 471 252.7 472 251.5 474 249.6 475 247.9 476 246.8 478 244.6 478 244.6 481 243.8 482 243.5 484 244.0 486 244.7 487 245.1 488 245.6 490 246.3 491 246.8 494 247.9 495 248.5 496 249.4 498 251.4 500 252.5 501 252.7 504 253.3 506 253.8 507 254.0 508 253.5 511 252.7 514 250.8 514 250.3 516 246.8 518 243.5 518 242.5 521 239.3 521 238.9 524 237.7 526 236.5 527 236.2 528 235.5 531 234.6 532 234.3 534 232.5 536 230.1 536 229.2 538 225.4 538 224.6 541 220.7 541 220.7 544 220.8 544 220.8 546 221.8 548 223.2 550 224.0 551 224.4 554 225.1 556 225.8 557 226.1 558 227.2 561 229.2 562 230.1 564 230.8 566 232.0 567 232.7 568 233.1 571 234.0 573 234.7 574 234.9 576 235.9 578 236.7 578 236.8 581 237.7 583 238.5 584 238.5 586 239.1 588 239.6 589 239.6 591 239.6 593 239.6 594 239.5 596 238.4 597 238.0 598 237.4 601 236.4 604 235.4 604 235.1 606 233.9 608 232.1 610 231.4 611 230.2 614 228.1 615 227.0 616 226.1 618 224.1 620 222.8 621 222.5 624 221.5 626 220.7 626 220.7 628 220.8 630 220.8 631 221.1 634 221.8 635 222.2 636 222.0 638 221.5 640 221.0 641 221.1 644 221.4 646 221.8 646 221.8 648 222.4 651 223.0 651 223.0 654 223.1 656 223.2 656 223.2 658 223.6 661 224.2 662 224.3 664 224.0 666 223.6 667 223.4 668 222.8 671 221.8 672 221.3 674 220.8 676 219.8 678 219.1 678 218.9 681 218.1 684 217.3 684 217.2 686 216.9 688 216.5 688 216.5 691 215.8 692 215.5 694 216.0 696 216.7 696 216.6 698 216.5 701 216.3 703 216.2 704 216.2 706 216.0 708 215.8 710 215.7 711 215.5 713 215.2 714 214.5 716 211.1 718 204.9 720 202.4 721 198.2"/><path d="M381 275.7 382 275.6 384 274.7 384 274.4 386 271.6 388 268.2 391 266.1 393 264.4 394 264.7 396 265.8 398 266.5 398 267.4 401 269.7 402 270.7 404 272.1 406 274.2 406 274.4 408 276.1 410 272.7 411 271.5 412 267.9 414 266.9 414 266.4 416 266.6 418 266.8 418 266.8 421 266.6 422 266.6 424 266.1 424 265.8 426 263.0 426 262.1 428 253.9 430 248.1 431 247.7 432 246.4 434 246.5 436 246.7 438 248.1 440 249.0 441 250.1 444 252.7 446 255.9 447 257.2 448 258.4 450 259.6 451 260.2 454 261.6 454 261.7 456 262.5 457 262.8 458 262.4 461 261.9 462 261.7 464 261.5 466 261.1 468 260.7 470 260.5 471 258.8 472 257.6 474 255.8 475 254.2 476 253.2 478 251.0 478 251.0 481 250.1 482 249.8 484 250.1 486 250.6 487 250.9 488 251.3 490 251.9 491 252.2 494 253.1 495 253.6 496 254.4 498 256.1 500 257.1 501 257.3 504 257.8 506 258.2 507 258.4 508 258.0 511 257.2 514 255.4 514 254.9 516 251.5 518 248.3 518 247.3 521 244.1 521 243.8 524 242.7 526 241.5 527 241.2 528 240.5 531 239.7 532 239.4 534 237.5 536 235.2 536 234.3 538 230.5 538 229.7 541 225.8 541 225.8 544 225.9 544 225.9 546 227.0 548 228.5 550 229.3 551 229.6 554 230.4 556 231.2 557 231.5 558 232.6 561 234.6 562 235.5 564 236.1 566 237.2 567 237.9 568 238.2 571 238.9 573 239.5 574 239.6 576 240.3 578 240.9 578 241.0 581 241.7 583 242.4 584 242.4 586 242.8 588 243.3 589 243.4 591 243.4 593 243.4 594 243.3 596 242.4 597 242.1 598 241.7 601 240.9 604 240.2 604 240.0 606 239.0 608 237.5 610 236.9 611 235.8 614 233.9 615 232.8 616 231.9 618 230.0 620 228.6 621 228.2 624 227.1 626 226.1 626 226.0 628 225.8 630 225.7 631 225.8 634 226.3 635 226.5 636 226.2 638 225.4 640 224.8 641 224.8 644 225.0 646 225.3 646 225.3 648 225.9 651 226.6 651 226.6 654 226.8 656 227.1 656 227.1 658 227.8 661 228.6 662 228.8 664 228.7 666 228.5 667 228.4 668 228.0 671 227.2 672 226.8 674 226.4 676 225.5 678 224.8 678 224.6 681 223.8 684 223.0 684 222.8 686 222.4 688 221.8 688 221.8 691 220.9 692 220.5 694 220.8 696 221.3 696 221.2 698 220.7 701 220.3 703 220.1 704 220.0 706 219.7 708 219.4 710 219.2 711 219.1 713 218.8 714 218.1 716 214.8 718 208.8 720 206.4 721 202.4"/><path d="M381 283.8 382 284.0 384 283.5 384 283.4 386 281.0 388 277.8 391 275.6 393 273.7 394 273.8 396 274.4 398 274.8 398 275.5 401 277.3 402 278.0 404 279.2 406 281.0 406 281.1 408 282.4 410 278.9 411 277.6 412 273.7 414 272.7 414 272.1 416 272.2 418 272.2 418 272.2 421 272.0 422 272.0 424 271.7 424 271.6 426 269.1 426 268.3 428 260.7 430 255.6 431 255.3 432 254.5 434 254.8 436 255.5 438 257.1 440 257.9 441 258.9 444 261.1 446 263.9 447 265.0 448 265.8 450 266.8 451 267.2 454 268.5 454 268.5 456 269.3 457 269.6 458 269.4 461 269.0 462 268.8 464 268.6 466 268.2 468 267.7 470 267.5 471 265.8 472 264.5 474 262.7 475 261.0 476 260.0 478 257.9 478 257.9 481 257.1 482 256.8 484 257.2 486 257.7 487 257.8 488 258.2 490 258.5 491 258.8 494 259.2 495 259.5 496 260.1 498 261.7 500 262.7 501 262.9 504 263.7 506 264.7 507 265.1 508 265.1 511 265.0 514 263.8 514 263.4 516 260.1 518 257.0 518 255.9 521 252.6 521 252.2 524 250.7 526 249.1 527 248.7 528 247.8 531 246.6 532 246.2 534 244.2 536 241.7 536 240.7 538 236.7 538 235.8 541 231.6 541 231.5 544 231.3 544 231.2 546 232.0 548 233.3 550 234.2 551 234.6 554 235.6 556 236.9 557 237.4 558 238.9 561 241.5 562 242.6 564 243.4 566 244.7 567 245.4 568 245.7 571 246.2 573 246.5 574 246.7 576 247.1 578 247.6 578 247.7 581 248.3 583 249.1 584 249.1 586 249.8 588 250.3 589 250.4 591 250.4 593 250.3 594 250.1 596 249.0 597 248.4 598 247.8 601 246.8 604 245.9 604 245.7 606 244.6 608 243.2 610 242.6 611 241.5 614 239.7 615 238.6 616 237.7 618 235.6 620 234.1 621 233.7 624 232.4 626 231.4 626 231.3 628 231.3 630 231.3 631 231.7 634 232.6 635 233.2 636 233.1 638 232.7 640 232.4 641 232.5 644 232.7 646 232.8 646 232.8 648 233.1 651 233.4 651 233.4 654 233.3 656 233.3 656 233.4 658 234.0 661 234.8 662 235.1 664 235.0 666 234.8 667 234.7 668 234.1 671 233.1 672 232.6 674 232.0 676 230.9 678 230.0 678 229.9 681 229.1 684 228.4 684 228.3 686 228.1 688 227.9 688 227.9 691 227.2 692 226.8 694 227.2 696 227.6 696 227.5 698 226.9 701 226.4 703 226.2 704 226.1 706 225.9 708 225.9 710 226.0 711 226.1 713 226.1 714 225.6 716 222.5 718 216.5 720 214.1 721 209.9"/><path d="M381 278.4 382 278.4 384 277.7 384 277.4 386 274.7 388 271.4 391 269.1 393 267.2 394 267.3 396 268.0 398 268.4 398 269.2 401 271.0 402 271.7 404 272.8 406 274.5 406 274.6 408 275.8 410 272.3 411 271.0 412 267.2 414 266.2 414 265.7 416 266.0 418 266.3 418 266.3 421 266.4 422 266.4 424 266.3 424 266.2 426 263.7 426 262.8 428 255.0 430 249.7 431 249.4 432 248.4 434 248.6 436 249.1 438 250.8 440 251.7 441 252.8 444 255.3 446 258.4 447 259.6 448 260.6 450 261.5 451 262.0 454 263.0 454 263.1 456 263.5 457 263.7 458 263.1 461 262.4 462 262.0 464 261.8 466 261.4 468 261.0 470 260.9 471 259.3 472 258.2 474 256.6 475 255.1 476 254.2 478 252.2 478 252.2 481 251.5 482 251.2 484 251.6 486 252.2 487 252.5 488 252.9 490 253.3 491 253.6 494 254.3 495 254.7 496 255.3 498 256.9 500 257.8 501 257.9 504 258.2 506 258.6 507 258.8 508 258.4 511 257.8 514 256.3 514 255.9 516 252.7 518 249.7 518 248.8 521 246.1 521 245.8 524 244.9 526 243.9 527 243.7 528 243.1 531 242.2 532 241.8 534 239.9 536 237.3 536 236.3 538 232.2 538 231.3 541 226.9 541 226.9 544 226.5 544 226.3 546 227.1 548 228.2 550 228.8 551 229.1 554 229.7 556 230.4 557 230.8 558 232.0 561 234.3 562 235.4 564 236.3 566 237.9 567 238.8 568 239.3 571 240.6 573 241.5 574 241.8 576 242.9 578 243.7 578 243.8 581 244.6 583 245.2 584 245.2 586 245.5 588 245.6 589 245.7 591 245.3 593 245.0 594 244.8 596 243.5 597 243.0 598 242.3 601 241.2 604 240.2 604 239.9 606 238.7 608 237.1 610 236.5 611 235.4 614 233.5 615 232.5 616 231.7 618 230.0 620 228.8 621 228.5 624 227.7 626 226.9 626 227.0 628 227.1 630 227.1 631 227.4 634 228.1 635 228.5 636 228.3 638 227.6 640 227.1 641 227.1 644 227.3 646 227.5 646 227.5 648 227.9 651 228.4 651 228.4 654 228.3 656 228.3 656 228.3 658 228.7 661 229.2 662 229.3 664 229.1 666 228.7 667 228.5 668 228.0 671 227.1 672 226.8 674 226.4 676 225.6 678 225.1 678 225.0 681 224.4 684 223.8 684 223.7 686 223.5 688 223.2 688 223.2 691 222.5 692 222.1 694 222.5 696 223.0 696 222.9 698 222.4 701 221.9 703 221.6 704 221.4 706 220.9 708 220.4 710 220.2 711 219.9 713 219.6 714 218.9 716 215.6 718 209.5 720 207.2 721 203.2"/><path d="M381 284.7 382 284.7 384 283.9 384 283.6 386 280.9 388 277.5 391 275.3 393 273.5 394 273.7 396 274.5 398 275.1 398 275.9 401 277.9 402 278.7 404 279.9 406 281.8 406 281.9 408 283.3 410 279.7 411 278.5 412 274.7 414 273.6 414 273.1 416 273.3 418 273.4 418 273.4 421 273.3 422 273.3 424 272.9 424 272.7 426 270.0 426 269.1 428 261.2 430 255.7 431 255.3 432 254.3 434 254.5 436 255.0 438 256.7 440 257.7 441 258.8 444 261.5 446 264.8 447 266.0 448 267.1 450 268.2 451 268.7 454 270.0 454 270.0 456 270.6 457 270.8 458 270.3 461 269.6 462 269.2 464 269.0 466 268.5 468 268.0 470 267.8 471 266.1 472 264.9 474 263.2 475 261.5 476 260.5 478 258.3 478 258.3 481 257.4 482 257.0 484 257.3 486 257.7 487 257.9 488 258.3 490 258.8 491 259.1 494 260.0 495 260.4 496 261.2 498 263.1 500 264.2 501 264.5 504 265.2 506 265.9 507 266.2 508 265.9 511 265.5 514 263.9 514 263.5 516 260.1 518 257.0 518 255.9 521 252.7 521 252.3 524 251.0 526 249.4 527 249.1 528 248.1 531 246.8 532 246.4 534 244.3 536 241.7 536 240.7 538 236.8 538 235.9 541 231.9 541 231.9 544 232.0 544 232.1 546 233.3 548 235.0 550 236.0 551 236.4 554 237.4 556 238.4 557 238.8 558 239.9 561 242.0 562 242.9 564 243.5 566 244.5 567 245.1 568 245.3 571 245.9 573 246.4 574 246.5 576 247.1 578 247.7 578 247.8 581 248.6 583 249.3 584 249.4 586 250.0 588 250.6 589 250.7 591 250.9 593 251.0 594 250.9 596 250.1 597 249.7 598 249.2 601 248.3 604 247.4 604 247.2 606 245.9 608 244.2 610 243.4 611 242.1 614 239.9 615 238.6 616 237.7 618 235.6 620 234.1 621 233.8 624 232.6 626 231.7 626 231.7 628 231.7 630 231.7 631 232.0 634 232.7 635 233.2 636 233.0 638 232.5 640 232.2 641 232.3 644 232.8 646 233.2 646 233.3 648 234.0 651 234.8 651 234.8 654 235.0 656 235.1 656 235.2 658 235.6 661 236.1 662 236.2 664 235.9 666 235.3 667 235.0 668 234.3 671 233.1 672 232.5 674 231.9 676 230.8 678 229.9 678 229.8 681 229.0 684 228.3 684 228.1 686 227.9 688 227.7 688 227.7 691 227.2 692 227.0 694 227.6 696 228.4 696 228.3 698 228.2 701 228.1 703 228.0 704 227.9 706 227.6 708 227.3 710 227.1 711 226.8 713 226.4 714 225.7 716 222.3 718 216.0 720 213.6 721 209.5"/><path d="M381 276.9 382 276.9 384 276.2 384 275.9 386 273.2 388 269.7 391 267.3 393 265.2 394 265.3 396 265.8 398 266.1 398 266.7 401 268.4 402 269.0 404 270.1 406 271.8 406 271.9 408 273.2 410 269.7 411 268.5 412 264.8 414 263.9 414 263.5 416 264.0 418 264.5 418 264.5 421 264.9 422 265.0 424 265.0 424 265.0 426 262.6 426 261.8 428 254.0 430 248.7 431 248.4 432 247.3 434 247.5 436 247.9 438 249.3 440 250.1 441 251.1 444 253.4 446 256.3 447 257.4 448 258.3 450 259.2 451 259.7 454 260.7 454 260.8 456 261.3 457 261.5 458 261.0 461 260.4 462 260.1 464 260.0 466 259.7 468 259.4 470 259.4 471 257.8 472 256.6 474 255.0 475 253.4 476 252.4 478 250.4 478 250.3 481 249.5 482 249.1 484 249.5 486 249.9 487 250.1 488 250.5 490 250.9 491 251.3 494 252.0 495 252.5 496 253.2 498 255.0 500 256.1 501 256.3 504 257.0 506 257.6 507 257.9 508 257.6 511 257.2 514 255.7 514 255.3 516 252.0 518 248.9 518 247.9 521 244.9 521 244.5 524 243.3 526 241.9 527 241.6 528 240.7 531 239.5 532 239.0 534 236.9 536 234.2 536 233.2 538 229.1 538 228.2 541 224.0 541 224.0 544 223.8 544 223.8 546 224.7 548 226.2 550 227.1 551 227.5 554 228.5 556 229.6 557 230.1 558 231.4 561 233.8 562 234.9 564 235.7 566 237.2 567 238.1 568 238.5 571 239.5 573 240.2 574 240.4 576 241.2 578 241.7 578 241.8 581 242.4 583 242.9 584 242.9 586 243.2 588 243.4 589 243.4 591 243.2 593 243.0 594 242.8 596 241.7 597 241.2 598 240.7 601 239.7 604 238.8 604 238.6 606 237.4 608 235.8 610 235.1 611 234.0 614 232.1 615 231.0 616 230.1 618 228.3 620 227.0 621 226.7 624 225.8 626 225.0 626 225.0 628 225.2 630 225.2 631 225.5 634 226.3 635 226.8 636 226.6 638 226.1 640 225.6 641 225.7 644 226.0 646 226.3 646 226.3 648 226.8 651 227.3 651 227.3 654 227.2 656 227.2 656 227.1 658 227.4 661 227.8 662 227.9 664 227.6 666 227.0 667 226.8 668 226.2 671 225.2 672 224.8 674 224.3 676 223.5 678 222.9 678 222.7 681 222.1 684 221.5 684 221.4 686 221.2 688 221.0 688 221.0 691 220.3 692 220.1 694 220.5 696 221.2 696 221.1 698 220.9 701 220.6 703 220.4 704 220.3 706 220.1 708 219.8 710 219.6 711 219.4 713 219.1 714 218.4 716 215.1 718 208.9 720 206.4 721 202.4"/><path d="M381 278.4 382 278.4 384 277.5 384 277.2 386 274.4 388 270.9 391 268.6 393 266.7 394 266.9 396 267.8 398 268.3 398 269.2 401 271.3 402 272.1 404 273.4 406 275.3 406 275.5 408 276.7 410 273.1 411 271.8 412 267.9 414 266.8 414 266.2 416 266.3 418 266.3 418 266.3 421 266.2 422 266.2 424 266.0 424 265.9 426 263.5 426 262.7 428 255.0 430 249.8 431 249.6 432 248.6 434 248.9 436 249.4 438 250.9 440 251.7 441 252.6 444 254.9 446 257.7 447 258.9 448 259.9 450 261.0 451 261.5 454 263.0 454 263.0 456 264.0 457 264.4 458 264.3 461 264.1 462 263.9 464 263.7 466 263.3 468 262.6 470 262.2 471 260.3 472 258.9 474 256.8 475 254.8 476 253.6 478 251.1 478 251.0 481 250.0 482 249.6 484 250.0 486 250.7 487 251.1 488 251.7 490 252.4 491 252.8 494 253.9 495 254.5 496 255.4 498 257.2 500 258.3 501 258.5 504 259.1 506 259.8 507 260.0 508 259.8 511 259.4 514 257.9 514 257.5 516 254.3 518 251.2 518 250.2 521 247.0 521 246.7 524 245.3 526 243.8 527 243.4 528 242.4 531 241.0 532 240.6 534 238.4 536 235.8 536 234.8 538 230.8 538 229.9 541 225.7 541 225.7 544 225.7 544 225.7 546 226.7 548 228.2 550 229.1 551 229.5 554 230.5 556 231.6 557 232.1 558 233.5 561 235.9 562 237.0 564 237.9 566 239.3 567 240.1 568 240.5 571 241.3 573 241.8 574 241.9 576 242.3 578 242.6 578 242.7 581 243.1 583 243.6 584 243.6 586 244.1 588 244.8 589 244.8 591 245.1 593 245.3 594 245.2 596 244.5 597 244.1 598 243.6 601 242.6 604 241.4 604 241.1 606 239.6 608 237.6 610 236.8 611 235.5 614 233.4 615 232.3 616 231.5 618 229.8 620 228.7 621 228.5 624 227.8 626 227.0 626 227.1 628 227.1 630 227.0 631 227.2 634 227.6 635 227.9 636 227.6 638 226.9 640 226.4 641 226.5 644 227.0 646 227.6 646 227.7 648 228.6 651 229.5 651 229.6 654 229.8 656 229.8 656 229.8 658 230.0 661 230.2 662 230.2 664 229.6 666 228.8 667 228.4 668 227.7 671 226.6 672 226.2 674 225.8 676 225.1 678 224.6 678 224.5 681 224.0 684 223.5 684 223.4 686 223.2 688 222.9 688 222.9 691 222.1 692 221.8 694 222.2 696 222.8 696 222.7 698 222.4 701 222.2 703 222.0 704 221.9 706 221.6 708 221.3 710 221.1 711 220.9 713 220.5 714 219.8 716 216.4 718 210.4 720 207.9 721 204.0"/><path d="M381 276.2 382 276.1 384 275.2 384 274.9 386 272.1 388 268.7 391 266.4 393 264.7 394 264.9 396 265.9 398 266.5 398 267.3 401 269.4 402 270.3 404 271.5 406 273.4 406 273.6 408 274.9 410 271.4 411 270.1 412 266.3 414 265.3 414 264.7 416 264.9 418 265.0 418 265.0 421 264.9 422 264.9 424 264.5 424 264.3 426 261.7 426 260.9 428 252.9 430 247.6 431 247.2 432 246.2 434 246.4 436 247.0 438 248.7 440 249.7 441 250.8 444 253.5 446 256.6 447 257.9 448 258.9 450 259.9 451 260.4 454 261.5 454 261.6 456 262.0 457 262.2 458 261.7 461 261.0 462 260.6 464 260.4 466 260.0 468 259.7 470 259.6 471 258.0 472 256.9 474 255.2 475 253.7 476 252.8 478 250.7 478 250.7 481 249.9 482 249.6 484 249.9 486 250.3 487 250.4 488 250.8 490 251.2 491 251.4 494 252.1 495 252.4 496 253.1 498 254.7 500 255.7 501 255.9 504 256.5 506 257.2 507 257.5 508 257.2 511 256.9 514 255.5 514 255.2 516 252.0 518 249.1 518 248.1 521 245.2 521 244.9 524 243.8 526 242.5 527 242.2 528 241.3 531 240.1 532 239.6 534 237.5 536 234.8 536 233.7 538 229.6 538 228.7 541 224.4 541 224.4 544 224.2 544 224.1 546 225.1 548 226.5 550 227.4 551 227.8 554 228.8 556 229.8 557 230.3 558 231.6 561 233.9 562 235.0 564 235.7 566 237.1 567 237.9 568 238.3 571 239.1 573 239.8 574 240.0 576 240.7 578 241.3 578 241.4 581 242.1 583 242.7 584 242.7 586 243.1 588 243.5 589 243.6 591 243.5 593 243.5 594 243.4 596 242.4 597 241.9 598 241.4 601 240.5 604 239.6 604 239.4 606 238.1 608 236.5 610 235.7 611 234.5 614 232.4 615 231.3 616 230.4 618 228.4 620 227.0 621 226.7 624 225.7 626 224.8 626 224.9 628 224.9 630 225.0 631 225.3 634 226.1 635 226.6 636 226.4 638 225.9 640 225.5 641 225.6 644 226.0 646 226.3 646 226.4 648 226.9 651 227.5 651 227.5 654 227.5 656 227.4 656 227.4 658 227.7 661 228.1 662 228.2 664 227.9 666 227.3 667 227.0 668 226.5 671 225.4 672 225.0 674 224.5 676 223.7 678 223.0 678 222.9 681 222.4 684 221.8 684 221.7 686 221.6 688 221.5 688 221.5 691 220.9 692 220.7 694 221.2 696 221.9 696 221.8 698 221.5 701 221.1 703 220.8 704 220.6 706 220.1 708 219.5 710 219.2 711 218.8 713 218.3 714 217.6 716 214.0 718 207.8 720 205.4 721 201.4"/><path d="M381 276.6 382 276.5 384 275.8 384 275.5 386 272.8 388 269.4 391 267.1 393 265.3 394 265.4 396 266.2 398 266.7 398 267.5 401 269.3 402 270.1 404 271.3 406 273.0 406 273.1 408 274.5 410 271.0 411 269.8 412 266.1 414 265.2 414 264.7 416 265.2 418 265.6 418 265.7 421 265.9 422 265.9 424 265.7 424 265.5 426 262.8 426 261.9 428 253.7 430 247.9 431 247.4 432 246.0 434 246.0 436 246.0 438 247.4 440 248.3 441 249.4 444 252.3 446 256.0 447 257.5 448 259.0 450 260.5 451 261.3 454 263.0 454 263.0 456 263.8 457 264.0 458 263.4 461 262.4 462 261.7 464 261.2 466 260.2 468 259.3 470 259.0 471 257.2 472 256.0 474 254.3 475 252.8 476 252.0 478 250.2 478 250.2 481 249.8 482 249.6 484 250.1 486 250.7 487 250.9 488 251.2 490 251.5 491 251.7 494 252.1 495 252.3 496 252.9 498 254.4 500 255.4 501 255.7 504 256.4 506 257.4 507 257.8 508 257.8 511 257.7 514 256.6 514 256.2 516 253.1 518 250.0 518 249.0 521 245.9 521 245.5 524 244.1 526 242.4 527 242.0 528 240.9 531 239.4 532 238.9 534 236.6 536 233.9 536 232.8 538 228.8 538 227.9 541 223.7 541 223.7 544 223.8 544 223.9 546 225.1 548 226.9 550 228.1 551 228.6 554 229.9 556 231.1 557 231.6 558 232.9 561 235.0 562 235.9 564 236.5 566 237.4 567 237.9 568 238.1 571 238.5 573 238.9 574 239.1 576 239.8 578 240.5 578 240.7 581 241.7 583 242.7 584 242.7 586 243.5 588 244.2 589 244.2 591 244.2 593 244.1 594 243.9 596 242.7 597 242.1 598 241.4 601 240.2 604 239.2 604 239.0 606 237.8 608 236.4 610 235.8 611 234.8 614 233.0 615 232.0 616 231.2 618 229.2 620 227.8 621 227.4 624 226.1 626 225.0 626 224.9 628 224.7 630 224.6 631 224.8 634 225.5 635 226.1 636 226.0 638 225.8 640 225.6 641 225.7 644 226.3 646 226.7 646 226.8 648 227.3 651 227.6 651 227.6 654 227.4 656 227.1 656 227.1 658 227.4 661 227.8 662 228.0 664 227.8 666 227.6 667 227.6 668 227.2 671 226.4 672 226.0 674 225.6 676 224.7 678 223.8 678 223.6 681 222.7 684 221.7 684 221.5 686 221.1 688 220.7 688 220.7 691 220.0 692 219.8 694 220.4 696 221.2 696 221.2 698 221.1 701 221.0 703 220.9 704 220.8 706 220.5 708 220.1 710 219.8 711 219.5 713 219.1 714 218.4 716 214.8 718 208.6 720 206.1 721 202.0"/><path d="M381 276.7 382 276.7 384 275.9 384 275.6 386 272.9 388 269.5 391 267.3 393 265.5 394 265.7 396 266.6 398 267.2 398 268.0 401 270.1 402 271.0 404 272.3 406 274.3 406 274.4 408 276.0 410 272.6 411 271.4 412 267.7 414 266.8 414 266.3 416 266.6 418 266.8 418 266.8 421 266.8 422 266.7 424 266.3 424 266.0 426 263.3 426 262.4 428 254.2 430 248.5 431 248.0 432 246.8 434 246.8 436 246.9 438 248.3 440 249.2 441 250.2 444 252.8 446 256.0 447 257.3 448 258.5 450 259.7 451 260.4 454 261.9 454 262.0 456 263.0 457 263.3 458 263.1 461 262.8 462 262.6 464 262.5 466 262.2 468 261.9 470 261.7 471 260.0 472 258.7 474 256.9 475 255.1 476 254.0 478 251.6 478 251.6 481 250.4 482 249.9 484 250.1 486 250.3 487 250.4 488 250.7 490 251.1 491 251.5 494 252.3 495 252.7 496 253.5 498 255.4 500 256.6 501 256.9 504 257.7 506 258.4 507 258.8 508 258.5 511 258.1 514 256.6 514 256.2 516 252.9 518 249.7 518 248.7 521 245.6 521 245.2 524 244.0 526 242.6 527 242.3 528 241.4 531 240.2 532 239.8 534 237.8 536 235.3 536 234.3 538 230.3 538 229.4 541 225.4 541 225.4 544 225.5 544 225.5 546 226.5 548 228.1 550 229.1 551 229.5 554 230.4 556 231.3 557 231.7 558 232.9 561 235.1 562 236.0 564 236.6 566 237.8 567 238.4 568 238.7 571 239.4 573 239.9 574 240.0 576 240.6 578 241.2 578 241.3 581 241.9 583 242.5 584 242.6 586 243.1 588 243.6 589 243.7 591 243.8 593 243.9 594 243.8 596 243.1 597 242.8 598 242.4 601 241.8 604 241.1 604 240.9 606 239.8 608 238.2 610 237.5 611 236.3 614 234.1 615 232.9 616 232.0 618 229.8 620 228.3 621 227.9 624 226.6 626 225.5 626 225.5 628 225.3 630 225.2 631 225.4 634 226.0 635 226.4 636 226.2 638 225.6 640 225.3 641 225.4 644 225.8 646 226.2 646 226.3 648 227.0 651 227.8 651 227.8 654 228.0 656 228.1 656 228.2 658 228.7 661 229.3 662 229.5 664 229.2 666 228.8 667 228.6 668 228.1 671 227.1 672 226.7 674 226.1 676 225.2 678 224.5 678 224.4 681 223.6 684 222.8 684 222.7 686 222.3 688 221.9 688 221.9 691 221.1 692 220.7 694 221.1 696 221.6 696 221.5 698 221.1 701 220.8 703 220.6 704 220.4 706 220.1 708 219.8 710 219.7 711 219.5 713 219.2 714 218.6 716 215.3 718 209.3 720 206.9 721 202.9"/><path d="M381 275.4 382 275.4 384 274.7 384 274.5 386 271.9 388 268.7 391 266.7 393 265.0 394 265.2 396 266.2 398 266.8 398 267.7 401 269.7 402 270.5 404 271.8 406 273.6 406 273.7 408 275.0 410 271.5 411 270.2 412 266.4 414 265.3 414 264.8 416 264.9 418 265.0 418 265.0 421 264.8 422 264.8 424 264.4 424 264.1 426 261.4 426 260.5 428 252.5 430 246.9 431 246.5 432 245.4 434 245.6 436 246.0 438 247.6 440 248.6 441 249.8 444 252.6 446 256.0 447 257.3 448 258.6 450 259.8 451 260.4 454 261.9 454 262.0 456 262.8 457 263.1 458 262.8 461 262.2 462 261.9 464 261.7 466 261.1 468 260.5 470 260.3 471 258.4 472 257.1 474 255.1 475 253.3 476 252.1 478 249.7 478 249.6 481 248.4 482 248.0 484 248.2 486 248.5 487 248.7 488 249.1 490 249.6 491 250.0 494 251.0 495 251.6 496 252.6 498 254.7 500 256.0 501 256.4 504 257.3 506 258.3 507 258.6 508 258.4 511 258.1 514 256.6 514 256.2 516 252.8 518 249.7 518 248.6 521 245.3 521 244.9 524 243.6 526 242.0 527 241.6 528 240.5 531 239.1 532 238.7 534 236.5 536 233.8 536 232.7 538 228.7 538 227.8 541 223.6 541 223.6 544 223.6 544 223.6 546 224.6 548 226.3 550 227.3 551 227.7 554 228.8 556 230.0 557 230.5 558 231.8 561 234.1 562 235.2 564 236.0 566 237.3 567 238.1 568 238.4 571 239.3 573 239.8 574 240.0 576 240.7 578 241.2 578 241.3 581 241.9 583 242.5 584 242.5 586 242.8 588 243.2 589 243.2 591 243.2 593 243.2 594 243.1 596 242.1 597 241.7 598 241.2 601 240.4 604 239.6 604 239.3 606 238.1 608 236.5 610 235.8 611 234.6 614 232.4 615 231.2 616 230.3 618 228.2 620 226.8 621 226.4 624 225.3 626 224.4 626 224.4 628 224.4 630 224.4 631 224.7 634 225.5 635 226.0 636 225.9 638 225.5 640 225.2 641 225.4 644 225.9 646 226.4 646 226.4 648 227.1 651 227.8 651 227.8 654 227.9 656 227.9 656 227.9 658 228.2 661 228.6 662 228.7 664 228.2 666 227.6 667 227.3 668 226.6 671 225.4 672 225.0 674 224.4 676 223.4 678 222.6 678 222.4 681 221.7 684 221.0 684 220.8 686 220.6 688 220.4 688 220.3 691 219.7 692 219.5 694 220.0 696 220.8 696 220.7 698 220.6 701 220.5 703 220.4 704 220.4 706 220.2 708 220.1 710 220.0 711 219.8 713 219.6 714 218.9 716 215.6 718 209.5 720 207.0 721 202.9"/><path d="M381 277.0 382 276.9 384 276.1 384 275.8 386 273.1 388 269.8 391 267.6 393 265.9 394 266.1 396 267.1 398 267.6 398 268.4 401 270.4 402 271.2 404 272.4 406 274.2 406 274.4 408 275.7 410 272.2 411 271.0 412 267.3 414 266.3 414 265.8 416 266.1 418 266.4 418 266.5 421 266.6 422 266.6 424 266.4 424 266.3 426 263.7 426 262.8 428 254.9 430 249.4 431 249.0 432 247.8 434 247.9 436 248.1 438 249.4 440 250.2 441 251.1 444 253.5 446 256.5 447 257.8 448 258.8 450 260.0 451 260.5 454 262.0 454 262.1 456 263.0 457 263.3 458 263.2 461 262.9 462 262.8 464 262.7 466 262.5 468 262.2 470 262.0 471 260.3 472 259.0 474 257.1 475 255.3 476 254.2 478 251.6 478 251.6 481 250.2 482 249.7 484 249.8 486 250.0 487 250.1 488 250.5 490 250.9 491 251.3 494 252.3 495 252.9 496 253.9 498 256.0 500 257.3 501 257.7 504 258.7 506 259.6 507 259.9 508 259.6 511 259.1 514 257.4 514 256.9 516 253.4 518 250.1 518 249.0 521 245.6 521 245.2 524 243.8 526 242.3 527 242.0 528 241.1 531 240.1 532 239.7 534 237.8 536 235.5 536 234.5 538 230.8 538 229.9 541 226.0 541 226.0 544 226.2 544 226.2 546 227.2 548 228.7 550 229.5 551 229.8 554 230.5 556 231.1 557 231.4 558 232.5 561 234.5 562 235.4 564 236.0 566 237.3 567 238.0 568 238.4 571 239.4 573 240.2 574 240.4 576 241.4 578 242.2 578 242.4 581 243.3 583 244.0 584 244.0 586 244.5 588 244.9 589 245.0 591 244.9 593 244.8 594 244.6 596 243.5 597 243.1 598 242.5 601 241.5 604 240.6 604 240.4 606 239.2 608 237.5 610 236.8 611 235.6 614 233.5 615 232.3 616 231.4 618 229.3 620 227.9 621 227.5 624 226.4 626 225.4 626 225.4 628 225.4 630 225.4 631 225.7 634 226.6 635 227.1 636 227.0 638 226.7 640 226.5 641 226.7 644 227.3 646 227.9 646 227.9 648 228.7 651 229.3 651 229.3 654 229.2 656 229.0 656 229.0 658 229.1 661 229.1 662 229.1 664 228.5 666 227.7 667 227.3 668 226.7 671 225.5 672 225.1 674 224.7 676 224.0 678 223.6 678 223.5 681 223.3 684 223.1 684 223.0 686 223.1 688 223.1 688 223.1 691 222.6 692 222.3 694 222.7 696 223.2 696 223.1 698 222.5 701 221.9 703 221.4 704 221.2 706 220.5 708 219.9 710 219.6 711 219.3 713 219.0 714 218.3 716 215.1 718 209.2 720 206.9 721 203.0"/><path d="M381 277.6 382 277.6 384 276.8 384 276.5 386 273.9 388 270.8 391 269.0 393 267.5 394 267.8 396 268.9 398 269.6 398 270.4 401 272.4 402 273.1 404 274.1 406 275.5 406 275.6 408 276.4 410 272.5 411 271.1 412 267.1 414 265.9 414 265.3 416 265.4 418 265.6 418 265.6 421 265.7 422 265.8 424 265.8 424 265.8 426 263.5 426 262.7 428 255.1 430 249.9 431 249.6 432 248.6 434 248.9 436 249.3 438 250.8 440 251.6 441 252.6 444 255.0 446 258.0 447 259.3 448 260.3 450 261.4 451 262.0 454 263.4 454 263.5 456 264.3 457 264.6 458 264.3 461 263.8 462 263.5 464 263.3 466 262.7 468 262.1 470 261.9 471 260.0 472 258.7 474 256.7 475 254.9 476 253.8 478 251.4 478 251.3 481 250.3 482 249.9 484 250.2 486 250.7 487 250.9 488 251.4 490 252.0 491 252.4 494 253.5 495 254.0 496 254.9 498 257.0 500 258.2 501 258.6 504 259.5 506 260.4 507 260.7 508 260.5 511 260.2 514 258.6 514 258.2 516 254.8 518 251.5 518 250.4 521 246.9 521 246.5 524 244.8 526 243.0 527 242.6 528 241.4 531 239.9 532 239.5 534 237.4 536 234.9 536 233.9 538 230.1 538 229.3 541 225.6 541 225.6 544 226.0 544 226.2 546 227.5 548 229.3 550 230.3 551 230.7 554 231.6 556 232.3 557 232.7 558 233.8 561 235.7 562 236.6 564 237.3 566 238.5 567 239.3 568 239.7 571 240.8 573 241.6 574 241.9 576 242.8 578 243.5 578 243.6 581 244.2 583 244.5 584 244.5 586 244.5 588 244.5 589 244.4 591 244.0 593 243.6 594 243.5 596 242.4 597 242.0 598 241.6 601 241.1 604 240.8 604 240.7 606 239.9 608 238.9 610 238.4 611 237.4 614 235.5 615 234.4 616 233.4 618 231.2 620 229.6 621 229.1 624 227.6 626 226.4 626 226.4 628 226.1 630 226.0 631 226.3 634 227.0 635 227.5 636 227.4 638 227.1 640 226.8 641 226.9 644 227.4 646 227.8 646 227.8 648 228.3 651 228.8 651 228.8 654 228.7 656 228.5 656 228.5 658 228.8 661 229.3 662 229.4 664 229.2 666 228.9 667 228.7 668 228.3 671 227.5 672 227.2 674 226.8 676 226.0 678 225.4 678 225.3 681 224.7 684 224.0 684 223.9 686 223.6 688 223.3 688 223.3 691 222.5 692 222.2 694 222.6 696 223.0 696 222.9 698 222.4 701 221.8 703 221.4 704 221.2 706 220.6 708 220.1 710 219.9 711 219.6 713 219.4 714 218.7 716 215.6 718 209.9 720 207.6 721 203.8"/><path d="M381 275.1 382 275.2 384 274.8 384 274.6 386 272.3 388 269.3 391 267.3 393 265.6 394 265.7 396 266.5 398 266.8 398 267.5 401 269.1 402 269.8 404 270.8 406 272.3 406 272.5 408 273.6 410 270.0 411 268.7 412 265.0 414 264.0 414 263.5 416 263.8 418 264.1 418 264.1 421 264.2 422 264.2 424 263.9 424 263.7 426 261.0 426 260.2 428 252.1 430 246.5 431 246.1 432 244.9 434 245.0 436 245.3 438 246.9 440 247.9 441 249.0 444 251.9 446 255.5 447 256.9 448 258.3 450 259.7 451 260.4 454 262.1 454 262.2 456 263.0 457 263.3 458 262.9 461 262.2 462 261.7 464 261.3 466 260.4 468 259.5 470 259.1 471 257.1 472 255.7 474 253.6 475 251.8 476 250.6 478 248.3 478 248.2 481 247.3 482 247.0 484 247.4 486 248.0 487 248.4 488 248.9 490 249.6 491 250.0 494 251.1 495 251.7 496 252.6 498 254.6 500 255.7 501 256.0 504 256.8 506 257.6 507 257.9 508 257.7 511 257.4 514 256.0 514 255.6 516 252.4 518 249.3 518 248.3 521 245.1 521 244.8 524 243.4 526 241.7 527 241.3 528 240.1 531 238.5 532 237.9 534 235.5 536 232.6 536 231.5 538 227.3 538 226.3 541 222.1 541 222.1 544 222.2 544 222.3 546 223.5 548 225.5 550 226.7 551 227.3 554 228.8 556 230.3 557 230.9 558 232.3 561 234.7 562 235.7 564 236.4 566 237.5 567 238.1 568 238.3 571 238.9 573 239.3 574 239.4 576 239.9 578 240.3 578 240.4 581 241.0 583 241.6 584 241.6 586 242.1 588 242.5 589 242.6 591 242.5 593 242.5 594 242.3 596 241.3 597 240.8 598 240.2 601 239.2 604 238.3 604 238.0 606 236.9 608 235.3 610 234.7 611 233.7 614 231.9 615 231.0 616 230.2 618 228.6 620 227.4 621 227.2 624 226.3 626 225.4 626 225.4 628 225.3 630 225.2 631 225.4 634 225.7 635 225.9 636 225.6 638 224.7 640 224.1 641 224.1 644 224.4 646 224.7 646 224.7 648 225.4 651 226.2 651 226.2 654 226.4 656 226.6 656 226.7 658 227.1 661 227.6 662 227.8 664 227.4 666 226.8 667 226.6 668 225.9 671 224.8 672 224.4 674 223.9 676 223.1 678 222.6 678 222.5 681 222.1 684 221.7 684 221.7 686 221.6 688 221.5 688 221.5 691 220.8 692 220.5 694 220.9 696 221.3 696 221.2 698 220.5 701 219.7 703 219.3 704 219.0 706 218.3 708 217.8 710 217.6 711 217.4 713 217.2 714 216.6 716 213.5 718 207.7 720 205.4 721 201.6"/><path d="M381 279.0 382 279.0 384 278.2 384 278.0 386 275.3 388 272.0 391 269.7 393 267.9 394 268.1 396 268.9 398 269.4 398 270.2 401 272.1 402 272.9 404 274.1 406 275.9 406 276.1 408 277.5 410 274.0 411 272.7 412 269.0 414 268.0 414 267.5 416 267.7 418 268.0 418 268.0 421 267.9 422 267.9 424 267.6 424 267.4 426 264.7 426 263.8 428 255.8 430 250.3 431 249.9 432 248.8 434 248.9 436 249.3 438 250.9 440 251.9 441 253.0 444 255.7 446 259.0 447 260.3 448 261.5 450 262.7 451 263.3 454 264.7 454 264.7 456 265.4 457 265.7 458 265.2 461 264.5 462 264.1 464 263.9 466 263.2 468 262.6 470 262.4 471 260.6 472 259.3 474 257.4 475 255.7 476 254.7 478 252.5 478 252.4 481 251.6 482 251.2 484 251.6 486 252.2 487 252.5 488 253.0 490 253.6 491 254.1 494 255.1 495 255.6 496 256.4 498 258.3 500 259.4 501 259.6 504 260.1 506 260.6 507 260.8 508 260.4 511 259.7 514 258.0 514 257.5 516 254.1 518 251.0 518 250.0 521 247.0 521 246.6 524 245.5 526 244.3 527 244.1 528 243.3 531 242.4 532 242.0 534 240.1 536 237.5 536 236.6 538 232.6 538 231.7 541 227.5 541 227.5 544 227.3 544 227.2 546 228.1 548 229.5 550 230.2 551 230.6 554 231.4 556 232.2 557 232.6 558 233.9 561 236.1 562 237.1 564 237.9 566 239.3 567 240.1 568 240.6 571 241.5 573 242.2 574 242.4 576 243.2 578 243.9 578 244.0 581 244.6 583 245.2 584 245.2 586 245.6 588 245.9 589 245.9 591 245.8 593 245.7 594 245.6 596 244.6 597 244.2 598 243.7 601 242.8 604 242.0 604 241.8 606 240.6 608 239.0 610 238.3 611 237.1 614 235.0 615 233.8 616 232.9 618 230.9 620 229.5 621 229.2 624 228.1 626 227.2 626 227.2 628 227.2 630 227.3 631 227.6 634 228.3 635 228.8 636 228.7 638 228.2 640 227.8 641 227.9 644 228.3 646 228.6 646 228.7 648 229.2 651 229.8 651 229.8 654 229.7 656 229.7 656 229.7 658 230.0 661 230.5 662 230.6 664 230.3 666 229.8 667 229.6 668 229.1 671 228.2 672 227.8 674 227.3 676 226.5 678 225.9 678 225.7 681 225.1 684 224.4 684 224.2 686 223.9 688 223.5 688 223.5 691 222.7 692 222.4 694 222.8 696 223.4 696 223.3 698 223.0 701 222.7 703 222.5 704 222.5 706 222.3 708 222.1 710 222.0 711 221.8 713 221.6 714 221.0 716 217.7 718 211.5 720 209.1 721 205.0"/><path d="M381 279.9 382 279.9 384 279.2 384 279.0 386 276.4 388 273.5 391 271.7 393 270.3 394 270.5 396 271.8 398 272.5 398 273.4 401 275.5 402 276.2 404 277.4 406 279.0 406 279.1 408 280.1 410 276.3 411 274.9 412 270.9 414 269.8 414 269.2 416 269.1 418 269.2 418 269.2 421 269.1 422 269.1 424 268.8 424 268.7 426 266.3 426 265.4 428 257.7 430 252.4 431 252.1 432 251.1 434 251.4 436 252.0 438 253.6 440 254.5 441 255.6 444 258.1 446 261.2 447 262.4 448 263.4 450 264.5 451 265.0 454 266.3 454 266.3 456 267.0 457 267.3 458 266.9 461 266.5 462 266.2 464 266.1 466 265.7 468 265.2 470 265.0 471 263.3 472 262.0 474 260.1 475 258.3 476 257.1 478 254.7 478 254.6 481 253.4 482 253.0 484 253.2 486 253.6 487 253.8 488 254.3 490 254.9 491 255.3 494 256.5 495 257.1 496 258.1 498 260.3 500 261.5 501 261.9 504 262.6 506 263.3 507 263.5 508 263.1 511 262.4 514 260.5 514 260.0 516 256.4 518 253.1 518 252.0 521 248.7 521 248.4 524 247.1 526 245.8 527 245.5 528 244.8 531 243.9 532 243.5 534 241.6 536 239.2 536 238.3 538 234.4 538 233.5 541 229.4 541 229.4 544 229.3 544 229.3 546 230.2 548 231.5 550 232.3 551 232.6 554 233.4 556 234.3 557 234.7 558 236.0 561 238.2 562 239.3 564 240.0 566 241.4 567 242.2 568 242.6 571 243.5 573 244.1 574 244.3 576 244.9 578 245.4 578 245.5 581 246.0 583 246.5 584 246.5 586 246.9 588 247.3 589 247.4 591 247.4 593 247.6 594 247.5 596 246.7 597 246.4 598 246.0 601 245.3 604 244.5 604 244.3 606 243.1 608 241.3 610 240.4 611 239.1 614 236.7 615 235.3 616 234.3 618 232.0 620 230.5 621 230.1 624 229.0 626 228.2 626 228.3 628 228.6 630 228.9 631 229.3 634 230.5 635 231.2 636 231.1 638 230.9 640 230.6 641 230.7 644 231.0 646 231.2 646 231.2 648 231.4 651 231.5 651 231.5 654 231.1 656 230.7 656 230.7 658 230.9 661 231.2 662 231.4 664 231.2 666 231.0 667 230.9 668 230.6 671 230.0 672 229.8 674 229.5 676 229.0 678 228.5 678 228.4 681 227.7 684 226.9 684 226.8 686 226.3 688 225.7 688 225.7 691 224.6 692 224.2 694 224.5 696 224.9 696 224.8 698 224.4 701 224.0 703 223.9 704 223.8 706 223.6 708 223.5 710 223.4 711 223.3 713 223.1 714 222.5 716 219.2 718 213.1 720 210.7 721 206.7"/><path d="M381 279.3 382 279.3 384 278.6 384 278.4 386 275.8 388 272.5 391 270.3 393 268.6 394 268.7 396 269.5 398 269.9 398 270.6 401 272.4 402 273.1 404 274.2 406 275.9 406 276.1 408 277.3 410 273.9 411 272.6 412 269.0 414 268.0 414 267.6 416 268.0 418 268.5 418 268.6 421 268.9 422 269.0 424 268.9 424 268.8 426 266.3 426 265.4 428 257.5 430 251.9 431 251.5 432 250.2 434 250.3 436 250.3 438 251.4 440 252.1 441 253.0 444 255.3 446 258.3 447 259.5 448 260.7 450 261.9 451 262.5 454 264.1 454 264.2 456 265.2 457 265.6 458 265.5 461 265.3 462 265.2 464 265.1 466 264.7 468 264.3 470 264.0 471 262.2 472 260.9 474 258.9 475 257.0 476 255.8 478 253.2 478 253.2 481 252.0 482 251.5 484 251.7 486 252.1 487 252.3 488 252.8 490 253.4 491 253.8 494 254.9 495 255.5 496 256.5 498 258.5 500 259.8 501 260.1 504 260.8 506 261.4 507 261.6 508 261.3 511 260.6 514 258.9 514 258.4 516 254.9 518 251.8 518 250.7 521 247.6 521 247.2 524 246.0 526 244.8 527 244.5 528 243.7 531 242.6 532 242.2 534 240.2 536 237.6 536 236.6 538 232.6 538 231.7 541 227.5 541 227.5 544 227.3 544 227.3 546 228.3 548 229.8 550 230.7 551 231.1 554 232.2 556 233.3 557 233.8 558 235.1 561 237.5 562 238.5 564 239.3 566 240.5 567 241.2 568 241.5 571 242.1 573 242.4 574 242.5 576 242.9 578 243.3 578 243.4 581 243.8 583 244.4 584 244.4 586 244.9 588 245.5 589 245.6 591 245.9 593 246.3 594 246.2 596 245.7 597 245.4 598 245.1 601 244.5 604 243.7 604 243.5 606 242.2 608 240.3 610 239.5 611 238.0 614 235.5 615 234.1 616 233.0 618 230.7 620 229.1 621 228.7 624 227.6 626 226.8 626 226.8 628 227.0 630 227.2 631 227.6 634 228.7 635 229.3 636 229.2 638 228.9 640 228.6 641 228.7 644 229.1 646 229.3 646 229.4 648 229.8 651 230.2 651 230.2 654 230.1 656 230.0 656 230.0 658 230.4 661 230.9 662 231.0 664 230.8 666 230.5 667 230.3 668 229.8 671 228.9 672 228.5 674 228.0 676 227.2 678 226.4 678 226.2 681 225.4 684 224.6 684 224.4 686 224.1 688 223.7 688 223.6 691 222.9 692 222.6 694 223.1 696 223.8 696 223.7 698 223.5 701 223.3 703 223.2 704 223.1 706 222.8 708 222.5 710 222.3 711 222.0 713 221.7 714 221.0 716 217.5 718 211.4 720 208.9 721 204.9"/><path d="M381 271.9 382 272.0 384 271.4 384 271.2 386 268.6 388 265.3 391 263.1 393 261.2 394 261.3 396 262.0 398 262.4 398 263.1 401 264.8 402 265.4 404 266.5 406 268.2 406 268.3 408 269.5 410 266.0 411 264.7 412 261.0 414 260.0 414 259.5 416 259.9 418 260.3 418 260.3 421 260.5 422 260.5 424 260.4 424 260.3 426 257.8 426 256.9 428 249.0 430 243.6 431 243.2 432 242.1 434 242.3 436 242.6 438 244.0 440 244.8 441 245.8 444 248.3 446 251.3 447 252.6 448 253.6 450 254.7 451 255.3 454 256.7 454 256.7 456 257.5 457 257.9 458 257.6 461 257.3 462 257.1 464 257.0 466 256.8 468 256.5 470 256.4 471 254.7 472 253.5 474 251.7 475 249.9 476 248.8 478 246.4 478 246.3 481 245.1 482 244.6 484 244.7 486 244.7 487 244.8 488 245.1 490 245.4 491 245.7 494 246.5 495 246.9 496 247.8 498 249.8 500 251.0 501 251.4 504 252.4 506 253.5 507 254.0 508 253.9 511 253.8 514 252.5 514 252.1 516 248.9 518 245.8 518 244.8 521 241.6 521 241.3 524 239.9 526 238.2 527 237.8 528 236.7 531 235.2 532 234.7 534 232.4 536 229.6 536 228.6 538 224.4 538 223.5 541 219.4 541 219.4 544 219.4 544 219.4 546 220.6 548 222.4 550 223.5 551 224.0 554 225.2 556 226.5 557 227.0 558 228.4 561 230.7 562 231.7 564 232.4 566 233.6 567 234.3 568 234.6 571 235.2 573 235.6 574 235.7 576 236.2 578 236.6 578 236.7 581 237.2 583 237.8 584 237.8 586 238.3 588 238.9 589 239.0 591 239.2 593 239.4 594 239.3 596 238.7 597 238.4 598 238.1 601 237.5 604 236.7 604 236.5 606 235.3 608 233.6 610 232.8 611 231.5 614 229.1 615 227.7 616 226.7 618 224.3 620 222.7 621 222.3 624 221.0 626 219.9 626 219.9 628 219.9 630 220.0 631 220.3 634 221.3 635 221.9 636 221.9 638 221.7 640 221.6 641 221.7 644 222.4 646 223.0 646 223.0 648 223.8 651 224.4 651 224.4 654 224.3 656 224.2 656 224.1 658 224.3 661 224.4 662 224.5 664 224.0 666 223.2 667 222.9 668 222.3 671 221.2 672 220.8 674 220.3 676 219.5 678 219.0 678 218.9 681 218.5 684 218.0 684 217.9 686 217.9 688 217.7 688 217.7 691 217.1 692 216.8 694 217.2 696 217.8 696 217.7 698 217.2 701 216.7 703 216.3 704 216.1 706 215.6 708 215.1 710 214.9 711 214.7 713 214.3 714 213.7 716 210.4 718 204.5 720 202.1 721 198.2"/><path d="M381 268.6 382 268.6 384 267.9 384 267.7 386 265.1 388 261.8 391 259.8 393 258.1 394 258.3 396 259.4 398 260.0 398 260.9 401 263.0 402 263.8 404 265.1 406 267.0 406 267.2 408 268.5 410 264.9 411 263.7 412 259.8 414 258.8 414 258.2 416 258.3 418 258.4 418 258.3 421 258.0 422 258.0 424 257.5 424 257.2 426 254.5 426 253.6 428 245.5 430 239.9 431 239.5 432 238.4 434 238.6 436 239.1 438 240.8 440 241.9 441 243.0 444 245.9 446 249.4 447 250.8 448 252.0 450 253.3 451 253.9 454 255.4 454 255.5 456 256.2 457 256.5 458 256.1 461 255.5 462 255.2 464 254.9 466 254.4 468 253.8 470 253.6 471 251.8 472 250.5 474 248.6 475 246.9 476 245.8 478 243.4 478 243.4 481 242.3 482 241.9 484 242.1 486 242.4 487 242.6 488 243.0 490 243.4 491 243.8 494 244.6 495 245.1 496 246.0 498 247.9 500 249.1 501 249.4 504 250.3 506 251.2 507 251.6 508 251.4 511 251.2 514 249.9 514 249.5 516 246.3 518 243.3 518 242.3 521 239.2 521 238.8 524 237.6 526 236.1 527 235.8 528 234.8 531 233.4 532 232.9 534 230.7 536 227.9 536 226.8 538 222.7 538 221.7 541 217.4 541 217.4 544 217.3 544 217.3 546 218.3 548 219.9 550 220.9 551 221.3 554 222.5 556 223.7 557 224.2 558 225.6 561 228.0 562 229.1 564 229.9 566 231.3 567 232.1 568 232.5 571 233.3 573 233.9 574 234.1 576 234.7 578 235.2 578 235.3 581 235.9 583 236.4 584 236.5 586 236.9 588 237.3 589 237.3 591 237.3 593 237.3 594 237.2 596 236.4 597 236.0 598 235.5 601 234.7 604 233.8 604 233.6 606 232.3 608 230.6 610 229.9 611 228.6 614 226.4 615 225.2 616 224.3 618 222.2 620 220.8 621 220.4 624 219.4 626 218.6 626 218.6 628 218.8 630 218.9 631 219.3 634 220.2 635 220.7 636 220.6 638 220.3 640 219.9 641 220.0 644 220.4 646 220.7 646 220.8 648 221.2 651 221.7 651 221.7 654 221.5 656 221.3 656 221.3 658 221.5 661 221.9 662 222.0 664 221.6 666 221.1 667 220.9 668 220.4 671 219.5 672 219.1 674 218.7 676 217.9 678 217.4 678 217.2 681 216.7 684 216.1 684 216.0 686 215.7 688 215.4 688 215.4 691 214.7 692 214.4 694 214.8 696 215.3 696 215.2 698 214.9 701 214.5 703 214.4 704 214.2 706 214.0 708 213.7 710 213.5 711 213.4 713 213.1 714 212.5 716 209.1 718 203.0 720 200.6 721 196.5"/><path d="M381 278.7 382 278.9 384 278.3 384 278.1 386 275.8 388 272.8 391 270.8 393 269.2 394 269.4 396 270.2 398 270.7 398 271.4 401 273.2 402 273.8 404 274.9 406 276.4 406 276.6 408 277.7 410 274.1 411 272.8 412 269.0 414 268.0 414 267.5 416 267.8 418 268.1 418 268.1 421 268.2 422 268.2 424 268.0 424 267.8 426 265.2 426 264.3 428 256.3 430 250.7 431 250.3 432 249.1 434 249.2 436 249.4 438 250.9 440 251.9 441 252.9 444 255.7 446 259.0 447 260.4 448 261.7 450 262.9 451 263.6 454 265.2 454 265.2 456 266.1 457 266.4 458 266.0 461 265.4 462 265.1 464 264.8 466 264.2 468 263.6 470 263.3 471 261.5 472 260.2 474 258.3 475 256.5 476 255.5 478 253.1 478 253.1 481 252.0 482 251.6 484 251.8 486 252.2 487 252.3 488 252.7 490 253.1 491 253.4 494 254.2 495 254.7 496 255.5 498 257.5 500 258.7 501 259.0 504 259.9 506 261.0 507 261.4 508 261.3 511 261.2 514 259.9 514 259.5 516 256.3 518 253.2 518 252.2 521 248.9 521 248.5 524 247.0 526 245.2 527 244.7 528 243.5 531 241.9 532 241.4 534 239.1 536 236.4 536 235.4 538 231.3 538 230.4 541 226.4 541 226.4 544 226.6 544 226.7 546 227.9 548 229.7 550 230.7 551 231.2 554 232.3 556 233.3 557 233.8 558 235.0 561 237.2 562 238.1 564 238.8 566 240.1 567 240.8 568 241.1 571 242.0 573 242.7 574 242.9 576 243.7 578 244.3 578 244.4 581 245.0 583 245.6 584 245.6 586 245.9 588 246.1 589 246.2 591 246.0 593 245.8 594 245.7 596 244.6 597 244.1 598 243.6 601 242.8 604 242.1 604 241.9 606 240.8 608 239.3 610 238.6 611 237.5 614 235.4 615 234.3 616 233.4 618 231.3 620 229.9 621 229.5 624 228.4 626 227.5 626 227.5 628 227.6 630 227.7 631 228.0 634 228.9 635 229.5 636 229.4 638 229.0 640 228.7 641 228.8 644 229.2 646 229.4 646 229.4 648 229.8 651 230.1 651 230.1 654 229.7 656 229.4 656 229.4 658 229.6 661 229.9 662 230.1 664 229.8 666 229.5 667 229.4 668 229.0 671 228.3 672 228.1 674 227.8 676 227.2 678 226.7 678 226.5 681 226.0 684 225.3 684 225.1 686 224.8 688 224.3 688 224.3 691 223.4 692 223.1 694 223.5 696 224.0 696 223.9 698 223.6 701 223.2 703 223.0 704 222.9 706 222.6 708 222.2 710 222.0 711 221.8 713 221.4 714 220.7 716 217.2 718 211.0 720 208.5 721 204.5"/><path d="M381 279.0 382 279.0 384 278.2 384 277.9 386 275.1 388 271.6 391 269.2 393 267.3 394 267.4 396 268.1 398 268.5 398 269.2 401 271.1 402 271.9 404 273.1 406 274.9 406 275.0 408 276.4 410 272.9 411 271.7 412 268.0 414 267.0 414 266.5 416 266.8 418 267.1 418 267.1 421 267.2 422 267.2 424 266.9 424 266.7 426 264.1 426 263.3 428 255.3 430 249.8 431 249.5 432 248.4 434 248.5 436 248.9 438 250.6 440 251.6 441 252.6 444 255.4 446 258.6 447 260.0 448 261.1 450 262.3 451 262.9 454 264.3 454 264.3 456 265.0 457 265.2 458 264.8 461 264.2 462 263.8 464 263.5 466 262.9 468 262.2 470 261.9 471 260.1 472 258.7 474 256.8 475 255.0 476 253.8 478 251.4 478 251.4 481 250.3 482 249.9 484 250.2 486 250.7 487 251.0 488 251.5 490 252.1 491 252.6 494 253.8 495 254.4 496 255.4 498 257.6 500 258.9 501 259.3 504 260.2 506 261.1 507 261.4 508 261.1 511 260.6 514 258.9 514 258.4 516 254.9 518 251.6 518 250.5 521 247.1 521 246.6 524 245.1 526 243.4 527 243.0 528 242.0 531 240.6 532 240.2 534 238.0 536 235.4 536 234.4 538 230.5 538 229.6 541 225.6 541 225.6 544 225.7 544 225.8 546 227.0 548 228.7 550 229.8 551 230.2 554 231.4 556 232.5 557 233.0 558 234.3 561 236.6 562 237.6 564 238.3 566 239.6 567 240.3 568 240.6 571 241.3 573 241.9 574 242.1 576 242.7 578 243.2 578 243.3 581 243.9 583 244.4 584 244.4 586 244.8 588 245.2 589 245.2 591 245.1 593 245.1 594 245.0 596 244.0 597 243.5 598 243.0 601 242.1 604 241.2 604 240.9 606 239.7 608 238.1 610 237.3 611 236.2 614 234.1 615 232.9 616 232.1 618 230.1 620 228.8 621 228.5 624 227.6 626 226.8 626 226.9 628 227.1 630 227.2 631 227.5 634 228.4 635 228.9 636 228.8 638 228.3 640 227.9 641 228.0 644 228.3 646 228.5 646 228.6 648 228.9 651 229.3 651 229.3 654 229.1 656 228.9 656 228.8 658 229.0 661 229.3 662 229.4 664 229.0 666 228.5 667 228.3 668 227.8 671 226.9 672 226.6 674 226.2 676 225.6 678 225.1 678 225.0 681 224.6 684 224.1 684 224.0 686 223.9 688 223.7 688 223.7 691 223.0 692 222.7 694 223.1 696 223.7 696 223.6 698 223.1 701 222.6 703 222.3 704 222.2 706 221.7 708 221.2 710 221.0 711 220.8 713 220.4 714 219.8 716 216.4 718 210.3 720 207.9 721 203.9"/><path d="M381 284.1 382 284.0 384 283.1 384 282.8 386 279.8 388 276.1 391 273.5 393 271.5 394 271.6 396 272.2 398 272.6 398 273.4 401 275.4 402 276.3 404 277.6 406 279.7 406 279.9 408 281.6 410 278.4 411 277.2 412 273.6 414 272.8 414 272.3 416 272.8 418 273.1 418 273.1 421 273.1 422 273.1 424 272.6 424 272.4 426 269.6 426 268.6 428 260.3 430 254.5 431 254.1 432 252.7 434 252.7 436 252.8 438 254.1 440 255.0 441 256.1 444 258.8 446 262.2 447 263.6 448 264.9 450 266.3 451 267.0 454 268.7 454 268.8 456 269.8 457 270.2 458 270.0 461 269.5 462 269.2 464 269.0 466 268.4 468 267.7 470 267.4 471 265.4 472 264.0 474 261.9 475 260.0 476 258.8 478 256.2 478 256.1 481 254.9 482 254.5 484 254.7 486 255.1 487 255.4 488 255.9 490 256.6 491 257.0 494 258.3 495 259.0 496 260.0 498 262.3 500 263.6 501 264.0 504 264.8 506 265.6 507 265.9 508 265.5 511 264.8 514 262.9 514 262.4 516 258.8 518 255.4 518 254.3 521 250.8 521 250.4 524 249.0 526 247.4 527 247.1 528 246.2 531 245.2 532 244.8 534 242.9 536 240.5 536 239.6 538 235.8 538 235.0 541 231.1 541 231.2 544 231.4 544 231.4 546 232.5 548 234.1 550 234.9 551 235.3 554 236.0 556 236.8 557 237.1 558 238.1 561 240.1 562 240.9 564 241.5 566 242.6 567 243.3 568 243.6 571 244.5 573 245.2 574 245.4 576 246.3 578 247.1 578 247.2 581 248.1 583 249.0 584 249.0 586 249.6 588 250.1 589 250.1 591 250.1 593 250.0 594 249.9 596 248.7 597 248.2 598 247.6 601 246.5 604 245.4 604 245.1 606 243.8 608 242.0 610 241.3 611 240.1 614 238.0 615 236.9 616 236.1 618 234.2 620 233.0 621 232.7 624 231.9 626 231.2 626 231.2 628 231.4 630 231.5 631 231.8 634 232.5 635 232.9 636 232.7 638 232.1 640 231.5 641 231.5 644 231.7 646 231.8 646 231.9 648 232.3 651 232.7 651 232.8 654 232.7 656 232.8 656 232.8 658 233.3 661 233.9 662 234.1 664 233.9 666 233.7 667 233.6 668 233.1 671 232.3 672 231.9 674 231.4 676 230.6 678 229.9 678 229.7 681 228.9 684 228.1 684 227.9 686 227.5 688 227.0 688 226.9 691 226.0 692 225.7 694 226.1 696 226.6 696 226.5 698 226.2 701 226.0 703 225.9 704 225.8 706 225.7 708 225.6 710 225.5 711 225.4 713 225.3 714 224.6 716 221.4 718 215.3 720 212.9 721 208.8"/><path d="M381 274.8 382 274.8 384 274.0 384 273.7 386 271.0 388 267.5 391 265.1 393 263.1 394 263.2 396 263.8 398 264.2 398 264.9 401 266.7 402 267.5 404 268.7 406 270.6 406 270.7 408 272.3 410 268.9 411 267.7 412 264.1 414 263.2 414 262.8 416 263.2 418 263.6 418 263.6 421 263.7 422 263.8 424 263.5 424 263.3 426 260.7 426 259.8 428 251.7 430 246.2 431 245.8 432 244.7 434 244.8 436 245.1 438 246.7 440 247.7 441 248.7 444 251.4 446 254.7 447 255.9 448 257.1 450 258.2 451 258.7 454 259.9 454 260.0 456 260.5 457 260.7 458 260.2 461 259.4 462 259.0 464 258.8 466 258.2 468 257.8 470 257.6 471 255.9 472 254.7 474 253.0 475 251.4 476 250.4 478 248.4 478 248.3 481 247.5 482 247.2 484 247.6 486 248.1 487 248.3 488 248.7 490 249.2 491 249.6 494 250.4 495 250.9 496 251.7 498 253.6 500 254.7 501 255.0 504 255.8 506 256.6 507 256.9 508 256.6 511 256.2 514 254.6 514 254.2 516 250.8 518 247.5 518 246.5 521 243.1 521 242.7 524 241.2 526 239.6 527 239.2 528 238.2 531 236.9 532 236.4 534 234.3 536 231.8 536 230.8 538 227.0 538 226.2 541 222.3 541 222.3 544 222.6 544 222.7 546 223.9 548 225.7 550 226.8 551 227.3 554 228.3 556 229.3 557 229.7 558 230.9 561 233.1 562 234.0 564 234.6 566 235.8 567 236.5 568 236.8 571 237.5 573 238.1 574 238.3 576 238.9 578 239.5 578 239.6 581 240.2 583 240.7 584 240.7 586 241.0 588 241.3 589 241.3 591 241.2 593 241.1 594 241.0 596 240.0 597 239.6 598 239.2 601 238.4 604 237.8 604 237.7 606 236.7 608 235.3 610 234.7 611 233.7 614 231.8 615 230.7 616 229.8 618 227.8 620 226.3 621 226.0 624 224.7 626 223.7 626 223.6 628 223.4 630 223.3 631 223.6 634 224.2 635 224.6 636 224.4 638 223.9 640 223.6 641 223.7 644 224.1 646 224.5 646 224.6 648 225.2 651 225.7 651 225.7 654 225.6 656 225.5 656 225.5 658 225.8 661 226.1 662 226.3 664 225.9 666 225.5 667 225.3 668 224.8 671 224.0 672 223.7 674 223.3 676 222.7 678 222.2 678 222.1 681 221.6 684 221.0 684 220.9 686 220.6 688 220.2 688 220.2 691 219.3 692 219.0 694 219.3 696 219.7 696 219.6 698 219.1 701 218.7 703 218.5 704 218.3 706 218.0 708 217.7 710 217.6 711 217.4 713 217.1 714 216.5 716 213.1 718 207.0 720 204.5 721 200.5"/><path d="M381 273.3 382 273.3 384 272.6 384 272.3 386 269.7 388 266.4 391 264.2 393 262.5 394 262.7 396 263.5 398 263.9 398 264.6 401 266.4 402 267.1 404 268.2 406 269.8 406 269.9 408 271.1 410 267.5 411 266.2 412 262.5 414 261.5 414 261.0 416 261.3 418 261.7 418 261.7 421 261.9 422 261.9 424 261.7 424 261.6 426 259.0 426 258.2 428 250.2 430 244.7 431 244.3 432 243.2 434 243.3 436 243.6 438 245.2 440 246.1 441 247.2 444 249.9 446 253.3 447 254.6 448 255.9 450 257.1 451 257.7 454 259.1 454 259.1 456 259.8 457 260.1 458 259.6 461 258.9 462 258.5 464 258.3 466 257.7 468 257.1 470 256.9 471 255.2 472 253.9 474 252.1 475 250.4 476 249.4 478 247.1 478 247.1 481 246.0 482 245.6 484 245.8 486 246.1 487 246.3 488 246.6 490 247.1 491 247.4 494 248.3 495 248.9 496 249.8 498 251.8 500 253.1 501 253.5 504 254.6 506 255.6 507 256.0 508 255.8 511 255.4 514 253.9 514 253.4 516 250.0 518 246.8 518 245.7 521 242.4 521 242.0 524 240.6 526 239.0 527 238.7 528 237.7 531 236.5 532 236.0 534 233.9 536 231.2 536 230.2 538 226.2 538 225.2 541 221.0 541 221.0 544 220.9 544 220.8 546 221.8 548 223.4 550 224.3 551 224.8 554 226.0 556 227.2 557 227.8 558 229.2 561 231.8 562 232.9 564 233.8 566 235.2 567 236.0 568 236.3 571 237.1 573 237.6 574 237.8 576 238.3 578 238.7 578 238.8 581 239.3 583 239.8 584 239.8 586 240.2 588 240.5 589 240.5 591 240.5 593 240.4 594 240.2 596 239.2 597 238.7 598 238.2 601 237.2 604 236.4 604 236.1 606 235.0 608 233.5 610 232.8 611 231.8 614 230.0 615 228.9 616 228.2 618 226.4 620 225.1 621 224.8 624 223.8 626 222.9 626 222.9 628 222.8 630 222.7 631 223.0 634 223.6 635 223.9 636 223.7 638 223.2 640 222.8 641 222.9 644 223.2 646 223.6 646 223.6 648 224.1 651 224.6 651 224.6 654 224.5 656 224.3 656 224.3 658 224.5 661 224.9 662 225.0 664 224.7 666 224.3 667 224.2 668 223.8 671 223.0 672 222.7 674 222.3 676 221.7 678 221.1 678 221.0 681 220.4 684 219.7 684 219.5 686 219.2 688 218.9 688 218.8 691 218.1 692 217.8 694 218.2 696 218.8 696 218.7 698 218.4 701 218.1 703 217.9 704 217.7 706 217.3 708 216.8 710 216.6 711 216.3 713 215.8 714 215.1 716 211.7 718 205.6 720 203.1 721 199.2"/><path d="M381 275.3 382 275.3 384 274.6 384 274.3 386 271.7 388 268.4 391 266.2 393 264.5 394 264.6 396 265.5 398 266.0 398 266.8 401 268.9 402 269.7 404 271.0 406 273.0 406 273.2 408 274.7 410 271.4 411 270.2 412 266.6 414 265.7 414 265.2 416 265.5 418 265.8 418 265.8 421 265.7 422 265.7 424 265.2 424 264.9 426 262.1 426 261.2 428 252.9 430 247.1 431 246.7 432 245.4 434 245.4 436 245.6 438 247.1 440 248.0 441 249.1 444 251.9 446 255.3 447 256.7 448 257.9 450 259.2 451 259.8 454 261.4 454 261.4 456 262.3 457 262.6 458 262.3 461 261.7 462 261.5 464 261.3 466 260.9 468 260.5 470 260.3 471 258.6 472 257.4 474 255.6 475 253.9 476 252.8 478 250.5 478 250.4 481 249.3 482 248.9 484 249.0 486 249.2 487 249.2 488 249.5 490 249.8 491 250.1 494 250.8 495 251.2 496 252.0 498 253.9 500 255.1 501 255.4 504 256.4 506 257.4 507 257.8 508 257.8 511 257.6 514 256.3 514 255.9 516 252.6 518 249.5 518 248.5 521 245.3 521 244.9 524 243.5 526 242.0 527 241.6 528 240.6 531 239.3 532 238.8 534 236.7 536 234.1 536 233.1 538 229.1 538 228.2 541 224.0 541 224.0 544 224.0 544 224.0 546 225.0 548 226.5 550 227.3 551 227.7 554 228.6 556 229.5 557 229.9 558 231.2 561 233.4 562 234.5 564 235.3 566 236.8 567 237.6 568 238.1 571 239.1 573 239.9 574 240.1 576 240.9 578 241.5 578 241.6 581 242.2 583 242.6 584 242.6 586 242.9 588 243.1 589 243.1 591 242.9 593 242.8 594 242.7 596 241.7 597 241.3 598 240.9 601 240.1 604 239.4 604 239.2 606 238.1 608 236.5 610 235.8 611 234.6 614 232.5 615 231.2 616 230.3 618 228.2 620 226.8 621 226.4 624 225.3 626 224.4 626 224.5 628 224.6 630 224.7 631 225.0 634 225.9 635 226.5 636 226.3 638 225.9 640 225.5 641 225.6 644 225.9 646 226.1 646 226.1 648 226.5 651 226.9 651 227.0 654 226.8 656 226.7 656 226.7 658 227.1 661 227.6 662 227.8 664 227.5 666 227.2 667 227.1 668 226.6 671 225.7 672 225.3 674 224.9 676 224.0 678 223.3 678 223.2 681 222.4 684 221.7 684 221.6 686 221.3 688 221.0 688 220.9 691 220.3 692 220.0 694 220.5 696 221.1 696 221.0 698 220.7 701 220.4 703 220.2 704 220.0 706 219.6 708 219.1 710 218.9 711 218.6 713 218.2 714 217.5 716 214.2 718 208.1 720 205.7 721 201.7"/><path d="M381 271.8 382 271.7 384 270.8 384 270.5 386 267.7 388 264.2 391 261.9 393 260.1 394 260.2 396 261.1 398 261.6 398 262.4 401 264.5 402 265.3 404 266.6 406 268.5 406 268.7 408 270.2 410 266.9 411 265.6 412 262.0 414 261.0 414 260.5 416 260.9 418 261.1 418 261.1 421 261.1 422 261.1 424 260.7 424 260.5 426 257.9 426 257.0 428 248.9 430 243.3 431 242.9 432 241.7 434 241.8 436 242.0 438 243.5 440 244.5 441 245.5 444 248.2 446 251.5 447 252.8 448 254.0 450 255.2 451 255.8 454 257.3 454 257.4 456 258.2 457 258.5 458 258.2 461 257.7 462 257.4 464 257.2 466 256.7 468 256.2 470 256.0 471 254.2 472 252.9 474 250.9 475 249.1 476 248.0 478 245.6 478 245.5 481 244.4 482 244.0 484 244.2 486 244.6 487 244.9 488 245.3 490 245.9 491 246.3 494 247.4 495 248.0 496 248.9 498 251.1 500 252.3 501 252.7 504 253.6 506 254.4 507 254.7 508 254.5 511 254.0 514 252.3 514 251.8 516 248.3 518 245.0 518 243.9 521 240.5 521 240.1 524 238.7 526 237.1 527 236.7 528 235.7 531 234.5 532 234.0 534 232.0 536 229.5 536 228.5 538 224.7 538 223.9 541 220.0 541 220.0 544 220.3 544 220.4 546 221.7 548 223.5 550 224.6 551 225.1 554 226.2 556 227.3 557 227.7 558 228.9 561 231.0 562 231.9 564 232.4 566 233.4 567 233.9 568 234.1 571 234.6 573 234.9 574 235.1 576 235.5 578 236.0 578 236.1 581 236.7 583 237.4 584 237.4 586 238.1 588 238.8 589 238.9 591 239.2 593 239.6 594 239.5 596 239.0 597 238.8 598 238.5 601 238.0 604 237.3 604 237.1 606 235.9 608 234.2 610 233.4 611 232.0 614 229.6 615 228.2 616 227.1 618 224.5 620 222.8 621 222.3 624 220.9 626 219.7 626 219.7 628 219.5 630 219.5 631 219.8 634 220.7 635 221.3 636 221.2 638 221.1 640 221.1 641 221.3 644 222.2 646 223.0 646 223.0 648 224.0 651 224.9 651 225.0 654 225.1 656 225.1 656 225.1 658 225.4 661 225.5 662 225.5 664 224.9 666 224.0 667 223.5 668 222.7 671 221.2 672 220.7 674 219.9 676 218.8 678 218.0 678 217.9 681 217.2 684 216.7 684 216.6 686 216.6 688 216.7 688 216.7 691 216.4 692 216.3 694 217.0 696 217.9 696 218.0 698 218.0 701 217.9 703 217.8 704 217.7 706 217.4 708 216.9 710 216.6 711 216.3 713 215.7 714 215.0 716 211.2 718 204.7 720 202.1 721 197.9"/><path d="M381 276.2 382 276.3 384 275.5 384 275.3 386 272.6 388 269.3 391 267.1 393 265.4 394 265.5 396 266.4 398 266.9 398 267.7 401 269.6 402 270.4 404 271.6 406 273.3 406 273.5 408 274.8 410 271.3 411 270.0 412 266.2 414 265.2 414 264.7 416 264.9 418 265.2 418 265.2 421 265.2 422 265.2 424 264.8 424 264.7 426 262.0 426 261.2 428 253.2 430 247.7 431 247.3 432 246.2 434 246.4 436 246.8 438 248.4 440 249.3 441 250.4 444 253.1 446 256.3 447 257.6 448 258.8 450 259.9 451 260.5 454 261.9 454 261.9 456 262.7 457 262.9 458 262.6 461 262.0 462 261.7 464 261.4 466 260.9 468 260.4 470 260.2 471 258.5 472 257.2 474 255.3 475 253.6 476 252.5 478 250.1 478 250.1 481 249.0 482 248.6 484 248.8 486 249.2 487 249.5 488 249.9 490 250.4 491 250.8 494 251.8 495 252.3 496 253.2 498 255.2 500 256.4 501 256.7 504 257.6 506 258.4 507 258.7 508 258.5 511 258.0 514 256.5 514 256.0 516 252.7 518 249.5 518 248.5 521 245.2 521 244.8 524 243.5 526 242.0 527 241.6 528 240.6 531 239.3 532 238.9 534 236.8 536 234.1 536 233.1 538 229.1 538 228.2 541 224.1 541 224.1 544 224.1 544 224.1 546 225.2 548 226.8 550 227.8 551 228.2 554 229.3 556 230.4 557 230.9 558 232.2 561 234.5 562 235.5 564 236.3 566 237.6 567 238.3 568 238.7 571 239.5 573 240.1 574 240.3 576 240.9 578 241.4 578 241.5 581 242.1 583 242.6 584 242.6 586 242.9 588 243.3 589 243.3 591 243.2 593 243.2 594 243.0 596 242.1 597 241.7 598 241.2 601 240.4 604 239.6 604 239.3 606 238.2 608 236.6 610 235.9 611 234.8 614 232.7 615 231.6 616 230.7 618 228.7 620 227.4 621 227.1 624 226.0 626 225.2 626 225.2 628 225.2 630 225.3 631 225.6 634 226.3 635 226.8 636 226.6 638 226.1 640 225.7 641 225.8 644 226.1 646 226.4 646 226.4 648 226.9 651 227.4 651 227.5 654 227.4 656 227.3 656 227.3 658 227.6 661 227.9 662 228.1 664 227.7 666 227.2 667 227.0 668 226.4 671 225.5 672 225.1 674 224.6 676 223.9 678 223.3 678 223.2 681 222.7 684 222.2 684 222.1 686 221.9 688 221.7 688 221.7 691 221.1 692 220.8 694 221.3 696 221.9 696 221.8 698 221.4 701 221.0 703 220.7 704 220.6 706 220.1 708 219.6 710 219.4 711 219.1 713 218.7 714 218.1 716 214.6 718 208.4 720 206.0 721 201.9"/><path d="M381 271.5 382 271.6 384 271.0 384 270.8 386 268.4 388 265.4 391 263.4 393 261.7 394 261.9 396 262.8 398 263.2 398 264.0 401 265.8 402 266.5 404 267.6 406 269.3 406 269.4 408 270.6 410 267.1 411 265.8 412 262.1 414 261.1 414 260.6 416 260.9 418 261.2 418 261.2 421 261.2 422 261.2 424 260.9 424 260.7 426 258.0 426 257.1 428 249.0 430 243.4 431 243.0 432 241.7 434 241.8 436 242.0 438 243.6 440 244.5 441 245.6 444 248.4 446 251.8 447 253.2 448 254.5 450 255.8 451 256.5 454 258.1 454 258.1 456 259.0 457 259.3 458 258.9 461 258.3 462 258.0 464 257.7 466 257.1 468 256.5 470 256.2 471 254.4 472 253.2 474 251.3 475 249.6 476 248.5 478 246.3 478 246.2 481 245.3 482 244.9 484 245.2 486 245.6 487 245.8 488 246.2 490 246.6 491 247.0 494 247.8 495 248.2 496 249.0 498 250.8 500 251.9 501 252.2 504 253.0 506 253.8 507 254.2 508 254.0 511 253.8 514 252.5 514 252.1 516 248.8 518 245.8 518 244.8 521 241.6 521 241.2 524 239.8 526 238.3 527 237.9 528 236.8 531 235.4 532 235.0 534 232.8 536 230.2 536 229.2 538 225.2 538 224.4 541 220.4 541 220.4 544 220.6 544 220.6 546 221.8 548 223.5 550 224.5 551 225.0 554 226.0 556 226.9 557 227.3 558 228.5 561 230.6 562 231.5 564 232.2 566 233.4 567 234.1 568 234.5 571 235.3 573 236.0 574 236.2 576 237.0 578 237.7 578 237.8 581 238.5 583 239.0 584 239.0 586 239.4 588 239.6 589 239.7 591 239.5 593 239.4 594 239.2 596 238.3 597 237.9 598 237.4 601 236.7 604 236.0 604 235.9 606 234.9 608 233.5 610 232.9 611 231.8 614 229.8 615 228.6 616 227.7 618 225.6 620 224.1 621 223.7 624 222.5 626 221.4 626 221.4 628 221.3 630 221.3 631 221.5 634 222.3 635 222.8 636 222.6 638 222.2 640 221.9 641 222.0 644 222.5 646 222.8 646 222.8 648 223.3 651 223.8 651 223.8 654 223.6 656 223.4 656 223.4 658 223.6 661 224.0 662 224.2 664 223.9 666 223.6 667 223.5 668 223.0 671 222.3 672 222.0 674 221.6 676 221.0 678 220.4 678 220.3 681 219.7 684 219.0 684 218.8 686 218.5 688 218.1 688 218.1 691 217.2 692 216.9 694 217.3 696 217.8 696 217.8 698 217.4 701 217.1 703 216.9 704 216.8 706 216.5 708 216.1 710 215.8 711 215.6 713 215.1 714 214.4 716 210.9 718 204.6 720 202.1 721 198.0"/><path d="M381 276.8 382 276.8 384 276.1 384 275.9 386 273.1 388 269.6 391 267.2 393 265.2 394 265.3 396 266.0 398 266.5 398 267.2 401 269.2 402 270.0 404 271.3 406 273.1 406 273.3 408 274.7 410 271.2 411 269.9 412 266.2 414 265.1 414 264.6 416 264.8 418 265.1 418 265.1 421 265.1 422 265.2 424 265.0 424 264.9 426 262.4 426 261.6 428 253.7 430 248.4 431 248.0 432 246.9 434 247.1 436 247.3 438 248.6 440 249.3 441 250.2 444 252.4 446 255.3 447 256.5 448 257.6 450 258.8 451 259.4 454 261.2 454 261.2 456 262.5 457 262.9 458 262.9 461 262.8 462 262.6 464 262.5 466 262.0 468 261.3 470 260.9 471 258.8 472 257.4 474 255.2 475 253.2 476 251.9 478 249.3 478 249.3 481 248.2 482 247.9 484 248.2 486 249.0 487 249.4 488 250.0 490 250.8 491 251.3 494 252.4 495 253.0 496 253.8 498 255.6 500 256.6 501 256.8 504 257.4 506 258.0 507 258.2 508 258.0 511 257.6 514 256.2 514 255.8 516 252.6 518 249.5 518 248.5 521 245.3 521 244.9 524 243.5 526 241.8 527 241.4 528 240.3 531 238.9 532 238.4 534 236.3 536 233.8 536 232.9 538 229.1 538 228.3 541 224.6 541 224.6 544 225.0 544 225.1 546 226.3 548 227.9 550 228.8 551 229.1 554 229.7 556 230.2 557 230.4 558 231.4 561 233.3 562 234.2 564 234.9 566 236.4 567 237.3 568 237.8 571 239.1 573 240.1 574 240.4 576 241.5 578 242.2 578 242.3 581 242.8 583 243.1 584 243.1 586 243.1 588 243.1 589 243.1 591 242.8 593 242.7 594 242.6 596 241.7 597 241.3 598 241.0 601 240.4 604 239.8 604 239.7 606 238.6 608 237.1 610 236.4 611 235.2 614 233.0 615 231.8 616 230.9 618 228.8 620 227.3 621 227.0 624 225.9 626 225.1 626 225.1 628 225.1 630 225.1 631 225.4 634 226.0 635 226.3 636 226.1 638 225.4 640 224.9 641 225.0 644 225.3 646 225.7 646 225.8 648 226.6 651 227.5 651 227.5 654 227.8 656 228.1 656 228.1 658 228.6 661 229.1 662 229.2 664 228.7 666 227.9 667 227.5 668 226.8 671 225.5 672 224.9 674 224.3 676 223.4 678 222.8 678 222.7 681 222.2 684 221.8 684 221.7 686 221.6 688 221.5 688 221.5 691 220.9 692 220.7 694 221.1 696 221.7 696 221.6 698 221.2 701 220.8 703 220.6 704 220.5 706 220.1 708 219.7 710 219.4 711 219.2 713 218.8 714 218.1 716 214.6 718 208.3 720 205.8 721 201.8"/><path d="M381 280.9 382 280.9 384 280.1 384 279.8 386 276.9 388 273.3 391 270.8 393 268.9 394 269.0 396 269.8 398 270.3 398 271.1 401 273.1 402 274.0 404 275.3 406 277.3 406 277.5 408 279.0 410 275.6 411 274.4 412 270.6 414 269.6 414 269.1 416 269.2 418 269.4 418 269.3 421 269.2 422 269.1 424 268.7 424 268.5 426 265.8 426 264.9 428 256.9 430 251.5 431 251.1 432 250.1 434 250.3 436 250.7 438 252.4 440 253.4 441 254.4 444 257.1 446 260.2 447 261.4 448 262.5 450 263.6 451 264.1 454 265.4 454 265.5 456 266.2 457 266.5 458 266.2 461 265.7 462 265.4 464 265.3 466 264.9 468 264.5 470 264.3 471 262.6 472 261.3 474 259.4 475 257.6 476 256.5 478 254.0 478 254.0 481 252.8 482 252.4 484 252.6 486 253.0 487 253.2 488 253.7 490 254.2 491 254.6 494 255.7 495 256.2 496 257.1 498 259.2 500 260.3 501 260.6 504 261.3 506 262.0 507 262.2 508 261.9 511 261.3 514 259.7 514 259.3 516 255.9 518 252.8 518 251.8 521 248.7 521 248.3 524 247.2 526 245.8 527 245.5 528 244.6 531 243.4 532 242.9 534 240.8 536 238.1 536 237.1 538 233.0 538 232.1 541 227.9 541 227.9 544 227.8 544 227.8 546 228.8 548 230.4 550 231.4 551 231.8 554 232.9 556 234.0 557 234.4 558 235.7 561 238.0 562 239.0 564 239.7 566 240.9 567 241.6 568 242.0 571 242.7 573 243.3 574 243.4 576 244.1 578 244.6 578 244.7 581 245.3 583 245.9 584 245.9 586 246.3 588 246.7 589 246.7 591 246.7 593 246.7 594 246.6 596 245.7 597 245.3 598 244.8 601 244.1 604 243.4 604 243.2 606 242.1 608 240.5 610 239.8 611 238.6 614 236.5 615 235.2 616 234.3 618 232.0 620 230.5 621 230.1 624 228.8 626 227.9 626 227.8 628 227.9 630 227.9 631 228.3 634 229.2 635 229.9 636 229.8 638 229.5 640 229.3 641 229.4 644 229.8 646 230.1 646 230.2 648 230.5 651 230.9 651 230.9 654 230.6 656 230.4 656 230.3 658 230.6 661 231.1 662 231.3 664 231.1 666 230.9 667 230.8 668 230.5 671 229.8 672 229.5 674 229.1 676 228.2 678 227.4 678 227.3 681 226.3 684 225.3 684 225.1 686 224.5 688 224.0 688 223.9 691 223.1 692 222.9 694 223.4 696 224.2 696 224.2 698 224.2 701 224.3 703 224.4 704 224.4 706 224.2 708 223.9 710 223.6 711 223.3 713 222.7 714 222.0 716 218.2 718 211.6 720 209.1 721 204.9"/><path d="M381 277.7 382 277.8 384 277.2 384 277.0 386 274.5 388 271.4 391 269.3 393 267.6 394 267.8 396 268.6 398 269.0 398 269.7 401 271.4 402 272.1 404 273.2 406 274.9 406 275.1 408 276.4 410 272.9 411 271.7 412 268.1 414 267.2 414 266.8 416 267.3 418 267.8 418 267.9 421 268.2 422 268.2 424 268.0 424 267.9 426 265.3 426 264.4 428 256.3 430 250.6 431 250.1 432 248.8 434 248.7 436 248.6 438 249.8 440 250.5 441 251.4 444 253.8 446 257.0 447 258.3 448 259.5 450 260.8 451 261.5 454 263.3 454 263.4 456 264.5 457 264.9 458 264.7 461 264.5 462 264.3 464 264.1 466 263.7 468 263.1 470 262.9 471 261.0 472 259.7 474 257.8 475 255.9 476 254.8 478 252.3 478 252.3 481 251.2 482 250.8 484 251.0 486 251.4 487 251.7 488 252.1 490 252.6 491 253.0 494 253.9 495 254.3 496 255.2 498 257.0 500 258.1 501 258.4 504 259.0 506 259.6 507 259.9 508 259.6 511 259.2 514 257.7 514 257.3 516 254.1 518 251.0 518 250.1 521 247.0 521 246.7 524 245.5 526 244.2 527 243.9 528 243.0 531 241.8 532 241.3 534 239.2 536 236.6 536 235.6 538 231.6 538 230.7 541 226.5 541 226.5 544 226.6 544 226.6 546 227.6 548 229.2 550 230.1 551 230.5 554 231.4 556 232.3 557 232.6 558 233.8 561 235.8 562 236.6 564 237.2 566 238.3 567 238.9 568 239.2 571 240.0 573 240.7 574 241.0 576 241.9 578 242.8 578 242.9 581 244.0 583 244.9 584 244.9 586 245.6 588 246.2 589 246.2 591 246.2 593 246.1 594 245.9 596 244.7 597 244.2 598 243.5 601 242.4 604 241.3 604 241.0 606 239.7 608 238.0 610 237.4 611 236.2 614 234.3 615 233.2 616 232.4 618 230.5 620 229.2 621 228.9 624 227.8 626 226.9 626 226.8 628 226.6 630 226.5 631 226.7 634 227.2 635 227.5 636 227.3 638 226.8 640 226.5 641 226.6 644 227.2 646 227.9 646 228.0 648 229.0 651 230.0 651 230.0 654 230.3 656 230.5 656 230.5 658 230.8 661 231.1 662 231.2 664 230.6 666 229.7 667 229.3 668 228.5 671 227.1 672 226.5 674 225.9 676 224.9 678 224.2 678 224.1 681 223.5 684 223.1 684 223.0 686 223.0 688 222.9 688 222.9 691 222.4 692 222.2 694 222.7 696 223.3 696 223.3 698 223.0 701 222.6 703 222.4 704 222.3 706 221.9 708 221.6 710 221.4 711 221.3 713 221.0 714 220.4 716 217.1 718 211.0 720 208.5 721 204.5"/><path d="M381 276.7 382 276.5 384 275.5 384 275.2 386 272.2 388 268.5 391 266.1 393 264.3 394 264.5 396 265.5 398 266.2 398 267.1 401 269.4 402 270.4 404 271.8 406 273.9 406 274.2 408 275.8 410 272.4 411 271.2 412 267.5 414 266.4 414 265.9 416 266.1 418 266.2 418 266.1 421 265.9 422 265.8 424 265.3 424 265.0 426 262.3 426 261.3 428 253.2 430 247.7 431 247.3 432 246.2 434 246.4 436 246.8 438 248.5 440 249.5 441 250.6 444 253.4 446 256.6 447 257.9 448 259.1 450 260.2 451 260.7 454 262.0 454 262.1 456 262.7 457 263.0 458 262.6 461 262.0 462 261.8 464 261.6 466 261.2 468 260.9 470 260.7 471 259.0 472 257.8 474 256.0 475 254.2 476 253.1 478 250.7 478 250.7 481 249.5 482 249.0 484 249.1 486 249.3 487 249.4 488 249.8 490 250.2 491 250.5 494 251.5 495 252.0 496 253.0 498 255.2 500 256.5 501 257.0 504 258.1 506 259.2 507 259.7 508 259.5 511 259.2 514 257.6 514 257.1 516 253.6 518 250.2 518 249.1 521 245.5 521 245.0 524 243.3 526 241.4 527 241.0 528 239.9 531 238.5 532 238.0 534 236.0 536 233.5 536 232.5 538 228.8 538 228.0 541 224.2 541 224.3 544 224.7 544 224.8 546 226.2 548 228.0 550 229.1 551 229.5 554 230.6 556 231.5 557 231.8 558 233.0 561 235.0 562 235.8 564 236.4 566 237.4 567 238.1 568 238.3 571 239.1 573 239.7 574 239.9 576 240.6 578 241.2 578 241.4 581 242.1 583 242.8 584 242.8 586 243.2 588 243.6 589 243.7 591 243.6 593 243.6 594 243.4 596 242.5 597 242.1 598 241.6 601 240.8 604 240.1 604 239.9 606 238.8 608 237.3 610 236.6 611 235.5 614 233.4 615 232.3 616 231.3 618 229.2 620 227.7 621 227.3 624 225.9 626 224.8 626 224.8 628 224.6 630 224.6 631 224.8 634 225.6 635 226.1 636 226.0 638 225.7 640 225.6 641 225.8 644 226.6 646 227.2 646 227.3 648 228.1 651 228.9 651 228.9 654 228.8 656 228.6 656 228.6 658 228.6 661 228.6 662 228.6 664 227.9 666 227.0 667 226.6 668 225.9 671 224.8 672 224.4 674 223.9 676 223.3 678 222.9 678 222.8 681 222.6 684 222.4 684 222.4 686 222.5 688 222.4 688 222.4 691 221.9 692 221.6 694 222.0 696 222.5 696 222.4 698 221.8 701 221.2 703 220.8 704 220.6 706 220.0 708 219.5 710 219.3 711 219.1 713 218.7 714 218.1 716 214.8 718 208.9 720 206.5 721 202.5"/><path d="M381 283.5 382 283.5 384 282.6 384 282.4 386 279.6 388 276.2 391 274.0 393 272.3 394 272.5 396 273.4 398 274.0 398 274.8 401 276.9 402 277.7 404 279.0 406 280.9 406 281.1 408 282.4 410 278.9 411 277.7 412 273.9 414 272.9 414 272.4 416 272.5 418 272.7 418 272.7 421 272.6 422 272.6 424 272.2 424 272.0 426 269.3 426 268.4 428 260.4 430 254.9 431 254.5 432 253.4 434 253.5 436 253.9 438 255.5 440 256.4 441 257.4 444 260.0 446 263.2 447 264.5 448 265.6 450 266.7 451 267.2 454 268.5 454 268.6 456 269.3 457 269.6 458 269.3 461 268.8 462 268.5 464 268.4 466 268.1 468 267.8 470 267.7 471 266.1 472 264.9 474 263.1 475 261.4 476 260.4 478 258.1 478 258.0 481 256.9 482 256.5 484 256.6 486 256.8 487 256.8 488 257.1 490 257.4 491 257.7 494 258.3 495 258.7 496 259.5 498 261.3 500 262.5 501 262.8 504 263.6 506 264.4 507 264.8 508 264.6 511 264.4 514 263.0 514 262.7 516 259.4 518 256.4 518 255.4 521 252.3 521 251.9 524 250.7 526 249.2 527 248.8 528 247.9 531 246.6 532 246.1 534 244.0 536 241.3 536 240.3 538 236.2 538 235.3 541 231.1 541 231.1 544 231.1 544 231.1 546 232.1 548 233.7 550 234.6 551 235.0 554 235.9 556 236.9 557 237.3 558 238.4 561 240.6 562 241.5 564 242.2 566 243.4 567 244.0 568 244.4 571 245.2 573 245.8 574 246.0 576 246.7 578 247.4 578 247.6 581 248.3 583 249.1 584 249.1 586 249.7 588 250.2 589 250.3 591 250.3 593 250.3 594 250.2 596 249.1 597 248.7 598 248.1 601 247.1 604 246.1 604 245.8 606 244.5 608 242.8 610 242.0 611 240.8 614 238.6 615 237.5 616 236.6 618 234.6 620 233.3 621 233.0 624 232.1 626 231.3 626 231.3 628 231.4 630 231.4 631 231.8 634 232.5 635 233.0 636 232.8 638 232.2 640 231.8 641 231.8 644 232.1 646 232.4 646 232.5 648 233.0 651 233.6 651 233.6 654 233.6 656 233.6 656 233.6 658 234.0 661 234.5 662 234.7 664 234.3 666 233.9 667 233.7 668 233.1 671 232.1 672 231.7 674 231.2 676 230.3 678 229.6 678 229.5 681 228.8 684 228.2 684 228.1 686 227.9 688 227.7 688 227.7 691 227.1 692 226.9 694 227.3 696 228.0 696 227.9 698 227.6 701 227.3 703 227.0 704 226.9 706 226.4 708 225.9 710 225.6 711 225.3 713 224.8 714 224.1 716 220.6 718 214.4 720 211.9 721 207.9"/><path d="M381 273.0 382 272.8 384 271.9 384 271.6 386 268.7 388 265.3 391 263.1 393 261.5 394 261.7 396 262.9 398 263.6 398 264.5 401 266.7 402 267.6 404 268.9 406 270.7 406 270.8 408 272.1 410 268.4 411 267.1 412 263.2 414 262.1 414 261.6 416 261.7 418 261.8 418 261.8 421 261.7 422 261.7 424 261.5 424 261.3 426 258.8 426 258.0 428 250.1 430 244.8 431 244.4 432 243.4 434 243.6 436 244.0 438 245.5 440 246.4 441 247.4 444 249.8 446 252.9 447 254.1 448 255.2 450 256.4 451 256.9 454 258.4 454 258.4 456 259.3 457 259.6 458 259.4 461 259.1 462 258.8 464 258.7 466 258.3 468 257.8 470 257.5 471 255.7 472 254.4 474 252.4 475 250.5 476 249.4 478 246.9 478 246.8 481 245.7 482 245.3 484 245.5 486 246.0 487 246.3 488 246.8 490 247.5 491 247.9 494 249.1 495 249.7 496 250.6 498 252.6 500 253.8 501 254.0 504 254.7 506 255.3 507 255.5 508 255.1 511 254.5 514 252.9 514 252.4 516 249.1 518 246.0 518 245.0 521 242.0 521 241.6 524 240.5 526 239.2 527 238.9 528 238.1 531 236.9 532 236.4 534 234.3 536 231.6 536 230.6 538 226.5 538 225.5 541 221.3 541 221.3 544 221.2 544 221.2 546 222.3 548 223.9 550 225.0 551 225.4 554 226.6 556 227.8 557 228.3 558 229.6 561 231.8 562 232.8 564 233.4 566 234.5 567 235.2 568 235.4 571 236.0 573 236.5 574 236.7 576 237.4 578 238.0 578 238.1 581 239.0 583 239.9 584 239.9 586 240.6 588 241.2 589 241.3 591 241.3 593 241.3 594 241.1 596 240.0 597 239.5 598 238.8 601 237.7 604 236.5 604 236.2 606 234.9 608 233.3 610 232.6 611 231.5 614 229.7 615 228.8 616 228.1 618 226.4 620 225.3 621 225.1 624 224.2 626 223.3 626 223.2 628 223.0 630 222.8 631 222.9 634 223.2 635 223.3 636 222.9 638 222.1 640 221.5 641 221.6 644 222.0 646 222.6 646 222.7 648 223.7 651 224.9 651 224.9 654 225.4 656 225.9 656 225.9 658 226.4 661 226.8 662 226.9 664 226.4 666 225.4 667 225.0 668 224.1 671 222.5 672 222.0 674 221.2 676 220.2 678 219.5 678 219.4 681 219.0 684 218.8 684 218.7 686 218.9 688 219.1 688 219.1 691 218.7 692 218.6 694 219.1 696 219.7 696 219.6 698 219.1 701 218.4 703 217.9 704 217.6 706 216.9 708 216.3 710 216.0 711 215.7 713 215.4 714 214.7 716 211.5 718 205.7 720 203.3 721 199.5"/><path d="M381 280.1 382 280.2 384 279.6 384 279.4 386 277.1 388 274.2 391 272.3 393 270.6 394 270.8 396 271.4 398 271.7 398 272.3 401 273.8 402 274.4 404 275.5 406 277.2 406 277.4 408 279.0 410 275.9 411 274.8 412 271.4 414 270.7 414 270.3 416 271.0 418 271.5 418 271.5 421 271.5 422 271.5 424 270.8 424 270.4 426 267.4 426 266.4 428 257.9 430 251.9 431 251.5 432 250.1 434 250.2 436 250.5 438 252.3 440 253.4 441 254.6 444 257.5 446 260.9 447 262.2 448 263.4 450 264.4 451 264.9 454 266.2 454 266.2 456 266.8 457 267.1 458 266.7 461 266.3 462 266.1 464 266.0 466 265.8 468 265.5 470 265.3 471 263.6 472 262.4 474 260.5 475 258.7 476 257.6 478 255.2 478 255.2 481 254.2 482 253.8 484 254.1 486 254.6 487 254.8 488 255.2 490 255.7 491 256.0 494 256.7 495 257.0 496 257.6 498 259.1 500 260.0 501 260.1 504 260.6 506 261.4 507 261.8 508 261.8 511 261.8 514 260.9 514 260.6 516 257.6 518 254.6 518 253.6 521 250.4 521 250.0 524 248.4 526 246.5 527 246.0 528 244.8 531 243.3 532 242.9 534 240.9 536 238.5 536 237.6 538 234.0 538 233.2 541 229.6 541 229.6 544 229.9 544 229.9 546 231.0 548 232.2 550 232.9 551 233.1 554 233.5 556 234.0 557 234.2 558 235.3 561 237.5 562 238.5 564 239.4 566 240.9 567 241.8 568 242.3 571 243.3 573 244.0 574 244.2 576 244.9 578 245.4 578 245.5 581 246.1 583 246.7 584 246.8 586 247.3 588 247.9 589 248.0 591 248.1 593 248.1 594 248.0 596 247.0 597 246.5 598 245.9 601 244.9 604 244.0 604 243.7 606 242.5 608 241.0 610 240.4 611 239.3 614 237.4 615 236.2 616 235.3 618 233.1 620 231.4 621 230.9 624 229.3 626 228.0 626 227.9 628 227.6 630 227.6 631 227.9 634 228.9 635 229.8 636 229.8 638 230.0 640 230.2 641 230.4 644 231.2 646 231.6 646 231.7 648 232.0 651 232.2 651 232.2 654 231.7 656 231.3 656 231.3 658 231.5 661 232.1 662 232.3 664 232.2 666 232.1 667 232.0 668 231.6 671 230.7 672 230.2 674 229.6 676 228.3 678 227.3 678 227.1 681 226.0 684 225.1 684 224.9 686 224.7 688 224.6 688 224.5 691 224.1 692 224.0 694 224.6 696 225.4 696 225.4 698 225.2 701 224.9 703 224.7 704 224.6 706 224.3 708 224.1 710 224.0 711 223.9 713 223.7 714 223.0 716 219.8 718 213.6 720 211.1 721 206.9"/><path d="M381 278.5 382 278.7 384 278.1 384 277.9 386 275.5 388 272.5 391 270.5 393 268.9 394 269.1 396 270.0 398 270.5 398 271.3 401 273.2 402 273.9 404 275.0 406 276.6 406 276.7 408 277.8 410 274.1 411 272.8 412 268.9 414 267.9 414 267.3 416 267.4 418 267.6 418 267.6 421 267.6 422 267.6 424 267.3 424 267.2 426 264.6 426 263.8 428 255.9 430 250.6 431 250.2 432 249.2 434 249.5 436 250.0 438 251.7 440 252.7 441 253.8 444 256.4 446 259.6 447 260.8 448 261.9 450 262.9 451 263.4 454 264.6 454 264.6 456 265.1 457 265.3 458 264.8 461 264.1 462 263.8 464 263.5 466 263.0 468 262.6 470 262.5 471 260.8 472 259.6 474 257.8 475 256.2 476 255.2 478 253.1 478 253.1 481 252.3 482 252.0 484 252.3 486 252.8 487 253.1 488 253.5 490 254.1 491 254.4 494 255.3 495 255.8 496 256.6 498 258.4 500 259.4 501 259.7 504 260.2 506 260.8 507 261.0 508 260.7 511 260.1 514 258.4 514 257.9 516 254.6 518 251.4 518 250.4 521 247.2 521 246.9 524 245.6 526 244.3 527 244.0 528 243.1 531 242.0 532 241.6 534 239.6 536 237.1 536 236.1 538 232.2 538 231.3 541 227.3 541 227.3 544 227.3 544 227.3 546 228.4 548 229.9 550 230.9 551 231.3 554 232.3 556 233.3 557 233.7 558 234.9 561 237.2 562 238.1 564 238.8 566 240.1 567 240.8 568 241.1 571 241.8 573 242.3 574 242.5 576 243.1 578 243.6 578 243.6 581 244.2 583 244.7 584 244.7 586 245.0 588 245.4 589 245.4 591 245.4 593 245.4 594 245.3 596 244.4 597 244.1 598 243.7 601 243.0 604 242.3 604 242.2 606 241.1 608 239.7 610 239.0 611 237.9 614 235.9 615 234.8 616 233.9 618 231.8 620 230.4 621 230.0 624 228.8 626 227.8 626 227.7 628 227.6 630 227.4 631 227.7 634 228.2 635 228.6 636 228.3 638 227.7 640 227.3 641 227.4 644 227.8 646 228.2 646 228.2 648 229.0 651 229.7 651 229.7 654 229.9 656 230.1 656 230.1 658 230.6 661 231.2 662 231.3 664 231.0 666 230.6 667 230.3 668 229.7 671 228.6 672 228.2 674 227.6 676 226.6 678 225.8 678 225.6 681 224.8 684 224.1 684 223.9 686 223.6 688 223.4 688 223.3 691 222.7 692 222.5 694 223.0 696 223.7 696 223.6 698 223.5 701 223.4 703 223.3 704 223.2 706 223.0 708 222.8 710 222.6 711 222.5 713 222.1 714 221.4 716 218.0 718 211.7 720 209.1 721 205.0"/><path d="M381 277.6 382 277.7 384 277.0 384 276.7 386 274.2 388 271.0 391 268.9 393 267.2 394 267.4 396 268.3 398 268.8 398 269.6 401 271.5 402 272.3 404 273.6 406 275.4 406 275.5 408 276.9 410 273.4 411 272.2 412 268.5 414 267.5 414 267.0 416 267.2 418 267.5 418 267.5 421 267.5 422 267.5 424 267.1 424 266.9 426 264.2 426 263.3 428 255.2 430 249.6 431 249.3 432 248.1 434 248.2 436 248.5 438 250.0 440 251.0 441 252.0 444 254.8 446 258.1 447 259.4 448 260.7 450 261.9 451 262.5 454 263.9 454 264.0 456 264.7 457 265.0 458 264.6 461 264.0 462 263.6 464 263.3 466 262.6 468 262.0 470 261.7 471 259.9 472 258.6 474 256.7 475 255.0 476 253.9 478 251.7 478 251.7 481 250.8 482 250.5 484 250.9 486 251.5 487 251.8 488 252.4 490 253.0 491 253.4 494 254.5 495 255.0 496 255.9 498 257.8 500 258.9 501 259.1 504 259.7 506 260.2 507 260.4 508 260.0 511 259.4 514 257.6 514 257.2 516 253.7 518 250.5 518 249.5 521 246.3 521 245.9 524 244.6 526 243.2 527 242.9 528 242.0 531 240.9 532 240.5 534 238.5 536 236.0 536 235.0 538 231.1 538 230.2 541 226.3 541 226.3 544 226.5 544 226.5 546 227.7 548 229.5 550 230.5 551 231.0 554 232.1 556 233.1 557 233.5 558 234.7 561 236.7 562 237.6 564 238.1 566 239.1 567 239.6 568 239.8 571 240.3 573 240.6 574 240.7 576 241.2 578 241.7 578 241.8 581 242.5 583 243.3 584 243.3 586 244.0 588 244.8 589 244.9 591 245.2 593 245.4 594 245.4 596 244.7 597 244.4 598 244.0 601 243.3 604 242.4 604 242.2 606 240.9 608 239.1 610 238.3 611 237.0 614 234.7 615 233.4 616 232.4 618 230.2 620 228.8 621 228.4 624 227.2 626 226.3 626 226.2 628 226.2 630 226.2 631 226.5 634 227.2 635 227.7 636 227.5 638 227.1 640 226.7 641 226.8 644 227.3 646 227.8 646 227.8 648 228.6 651 229.3 651 229.3 654 229.5 656 229.6 656 229.6 658 230.0 661 230.5 662 230.6 664 230.2 666 229.6 667 229.3 668 228.7 671 227.5 672 227.0 674 226.4 676 225.5 678 224.7 678 224.6 681 224.0 684 223.4 684 223.3 686 223.2 688 223.0 688 223.0 691 222.5 692 222.3 694 222.8 696 223.5 696 223.4 698 223.1 701 222.7 703 222.4 704 222.2 706 221.6 708 221.1 710 220.8 711 220.5 713 220.1 714 219.4 716 215.9 718 209.8 720 207.4 721 203.5"/><path d="M381 276.0 382 275.9 384 275.1 384 274.8 386 272.1 388 268.6 391 266.4 393 264.6 394 264.8 396 265.7 398 266.2 398 267.1 401 269.1 402 269.9 404 271.2 406 273.1 406 273.3 408 274.7 410 271.2 411 269.9 412 266.2 414 265.2 414 264.7 416 264.9 418 265.1 418 265.1 421 265.0 422 265.0 424 264.6 424 264.4 426 261.7 426 260.9 428 252.8 430 247.3 431 247.0 432 245.8 434 246.0 436 246.4 438 248.1 440 249.1 441 250.2 444 252.9 446 256.1 447 257.4 448 258.6 450 259.7 451 260.3 454 261.6 454 261.6 456 262.3 457 262.5 458 262.1 461 261.4 462 261.1 464 260.8 466 260.3 468 259.8 470 259.6 471 257.9 472 256.7 474 254.8 475 253.2 476 252.2 478 250.0 478 249.9 481 249.1 482 248.7 484 249.0 486 249.5 487 249.8 488 250.2 490 250.7 491 251.1 494 252.0 495 252.5 496 253.3 498 255.1 500 256.1 501 256.4 504 257.0 506 257.6 507 257.8 508 257.5 511 257.0 514 255.4 514 255.0 516 251.7 518 248.6 518 247.6 521 244.6 521 244.2 524 243.1 526 241.8 527 241.5 528 240.7 531 239.6 532 239.2 534 237.2 536 234.6 536 233.6 538 229.5 538 228.6 541 224.4 541 224.4 544 224.3 544 224.3 546 225.2 548 226.7 550 227.5 551 227.9 554 228.8 556 229.8 557 230.2 558 231.5 561 233.8 562 234.8 564 235.6 566 236.9 567 237.7 568 238.1 571 239.0 573 239.6 574 239.8 576 240.5 578 241.0 578 241.1 581 241.7 583 242.3 584 242.3 586 242.6 588 243.0 589 243.1 591 243.0 593 243.0 594 242.9 596 242.0 597 241.7 598 241.2 601 240.5 604 239.8 604 239.6 606 238.5 608 236.9 610 236.2 611 235.0 614 232.9 615 231.7 616 230.7 618 228.5 620 227.0 621 226.6 624 225.4 626 224.3 626 224.3 628 224.2 630 224.2 631 224.4 634 225.2 635 225.7 636 225.5 638 225.1 640 224.9 641 225.0 644 225.6 646 226.2 646 226.3 648 227.1 651 227.8 651 227.8 654 227.9 656 228.0 656 228.0 658 228.3 661 228.6 662 228.6 664 228.2 666 227.4 667 227.1 668 226.4 671 225.2 672 224.7 674 224.1 676 223.2 678 222.5 678 222.4 681 221.8 684 221.2 684 221.1 686 221.0 688 220.9 688 220.9 691 220.4 692 220.2 694 220.8 696 221.5 696 221.4 698 221.2 701 220.9 703 220.6 704 220.5 706 220.1 708 219.6 710 219.4 711 219.1 713 218.7 714 218.0 716 214.5 718 208.4 720 205.9 721 201.9"/><path d="M381 279.4 382 279.5 384 278.9 384 278.7 386 276.2 388 273.1 391 270.9 393 269.0 394 269.2 396 269.8 398 270.1 398 270.8 401 272.4 402 273.1 404 274.2 406 275.9 406 276.1 408 277.4 410 274.0 411 272.8 412 269.1 414 268.2 414 267.7 416 268.0 418 268.3 418 268.4 421 268.4 422 268.4 424 268.1 424 268.0 426 265.4 426 264.5 428 256.7 430 251.3 431 251.0 432 250.0 434 250.2 436 250.8 438 252.4 440 253.4 441 254.4 444 256.8 446 259.7 447 260.8 448 261.7 450 262.6 451 263.0 454 264.1 454 264.1 456 264.7 457 265.0 458 264.7 461 264.3 462 264.1 464 264.1 466 263.9 468 263.6 470 263.5 471 261.8 472 260.6 474 258.8 475 257.1 476 256.0 478 253.7 478 253.7 481 252.7 482 252.3 484 252.6 486 253.1 487 253.3 488 253.7 490 254.2 491 254.5 494 255.3 495 255.7 496 256.4 498 258.1 500 259.1 501 259.3 504 259.9 506 260.6 507 261.0 508 260.8 511 260.6 514 259.2 514 258.9 516 255.7 518 252.6 518 251.6 521 248.4 521 248.0 524 246.6 526 245.0 527 244.6 528 243.5 531 242.2 532 241.7 534 239.6 536 237.1 536 236.1 538 232.2 538 231.4 541 227.4 541 227.4 544 227.5 544 227.5 546 228.6 548 230.2 550 231.1 551 231.5 554 232.4 556 233.4 557 233.9 558 235.2 561 237.5 562 238.5 564 239.3 566 240.6 567 241.3 568 241.6 571 242.2 573 242.5 574 242.6 576 242.9 578 243.3 578 243.3 581 243.8 583 244.4 584 244.4 586 245.0 588 245.8 589 245.9 591 246.2 593 246.5 594 246.4 596 245.8 597 245.4 598 245.0 601 244.2 604 243.3 604 243.1 606 241.8 608 240.1 610 239.3 611 238.1 614 235.9 615 234.7 616 233.7 618 231.5 620 230.0 621 229.6 624 228.2 626 227.1 626 227.0 628 226.8 630 226.8 631 227.0 634 227.8 635 228.5 636 228.4 638 228.3 640 228.2 641 228.4 644 229.1 646 229.7 646 229.8 648 230.5 651 231.0 651 231.0 654 230.8 656 230.6 656 230.5 658 230.7 661 231.1 662 231.2 664 230.8 666 230.3 667 230.1 668 229.6 671 228.6 672 228.2 674 227.7 676 226.7 678 226.0 678 225.8 681 225.1 684 224.5 684 224.4 686 224.2 688 224.0 688 224.0 691 223.5 692 223.3 694 223.8 696 224.4 696 224.3 698 223.9 701 223.4 703 223.0 704 222.8 706 222.3 708 221.9 710 221.7 711 221.6 713 221.4 714 220.8 716 217.7 718 212.0 720 209.6 721 205.8"/><path d="M381 287.2 382 287.2 384 286.4 384 286.1 386 283.4 388 279.9 391 277.6 393 275.7 394 275.8 396 276.6 398 277.0 398 277.7 401 279.6 402 280.4 404 281.6 406 283.3 406 283.5 408 284.9 410 281.5 411 280.2 412 276.5 414 275.6 414 275.1 416 275.5 418 275.9 418 275.9 421 276.0 422 276.1 424 275.8 424 275.7 426 273.1 426 272.2 428 264.2 430 258.6 431 258.2 432 257.0 434 257.1 436 257.3 438 258.6 440 259.4 441 260.4 444 262.8 446 265.9 447 267.1 448 268.2 450 269.4 451 269.9 454 271.4 454 271.4 456 272.3 457 272.7 458 272.5 461 272.1 462 272.0 464 271.9 466 271.6 468 271.3 470 271.1 471 269.3 472 268.1 474 266.2 475 264.4 476 263.2 478 260.7 478 260.6 481 259.3 482 258.8 484 258.9 486 259.1 487 259.2 488 259.5 490 259.9 491 260.3 494 261.2 495 261.7 496 262.6 498 264.7 500 266.0 501 266.4 504 267.4 506 268.3 507 268.7 508 268.5 511 268.1 514 266.5 514 266.1 516 262.7 518 259.4 518 258.3 521 255.0 521 254.5 524 253.1 526 251.5 527 251.1 528 250.1 531 248.8 532 248.4 534 246.3 536 243.7 536 242.7 538 238.8 538 237.9 541 233.9 541 233.9 544 234.0 544 234.0 546 235.1 548 236.7 550 237.6 551 238.0 554 238.9 556 239.8 557 240.2 558 241.4 561 243.5 562 244.4 564 245.0 566 246.3 567 247.0 568 247.3 571 248.2 573 248.8 574 249.1 576 249.9 578 250.6 578 250.7 581 251.5 583 252.1 584 252.1 586 252.6 588 252.9 589 252.9 591 252.8 593 252.6 594 252.4 596 251.3 597 250.7 598 250.1 601 249.1 604 248.1 604 247.9 606 246.7 608 245.1 610 244.5 611 243.4 614 241.5 615 240.5 616 239.7 618 237.9 620 236.7 621 236.5 624 235.5 626 234.7 626 234.7 628 234.7 630 234.6 631 234.8 634 235.3 635 235.6 636 235.3 638 234.5 640 233.9 641 234.0 644 234.1 646 234.4 646 234.4 648 235.0 651 235.7 651 235.7 654 235.9 656 236.2 656 236.2 658 236.8 661 237.6 662 237.8 664 237.6 666 237.3 667 237.1 668 236.6 671 235.5 672 235.1 674 234.5 676 233.5 678 232.6 678 232.4 681 231.5 684 230.7 684 230.5 686 230.1 688 229.7 688 229.7 691 229.0 692 228.7 694 229.2 696 229.8 696 229.8 698 229.6 701 229.4 703 229.3 704 229.3 706 229.1 708 228.8 710 228.7 711 228.5 713 228.3 714 227.6 716 224.2 718 218.1 720 215.6 721 211.6"/><path d="M381 277.4 382 277.4 384 276.8 384 276.6 386 274.0 388 270.9 391 268.8 393 267.2 394 267.3 396 268.2 398 268.7 398 269.5 401 271.3 402 272.0 404 273.1 406 274.8 406 274.9 408 276.0 410 272.3 411 271.1 412 267.2 414 266.2 414 265.6 416 265.8 418 266.1 418 266.1 421 266.2 422 266.2 424 266.0 424 265.9 426 263.4 426 262.6 428 254.8 430 249.4 431 249.1 432 248.1 434 248.3 436 248.7 438 250.3 440 251.2 441 252.2 444 254.7 446 257.7 447 258.9 448 259.9 450 260.9 451 261.3 454 262.5 454 262.6 456 263.2 457 263.4 458 263.1 461 262.6 462 262.3 464 262.2 466 261.9 468 261.7 470 261.6 471 260.0 472 258.8 474 257.1 475 255.5 476 254.5 478 252.2 478 252.2 481 251.2 482 250.7 484 250.9 486 251.2 487 251.3 488 251.6 490 252.0 491 252.3 494 253.1 495 253.5 496 254.3 498 256.2 500 257.4 501 257.7 504 258.5 506 259.3 507 259.7 508 259.4 511 259.1 514 257.5 514 257.1 516 253.8 518 250.6 518 249.5 521 246.3 521 245.9 524 244.5 526 242.9 527 242.5 528 241.5 531 240.2 532 239.8 534 237.7 536 235.1 536 234.2 538 230.3 538 229.4 541 225.5 541 225.5 544 225.8 544 225.8 546 227.1 548 228.9 550 230.0 551 230.5 554 231.6 556 232.6 557 233.1 558 234.3 561 236.3 562 237.2 564 237.7 566 238.6 567 239.2 568 239.3 571 239.8 573 240.2 574 240.3 576 240.7 578 241.2 578 241.3 581 242.0 583 242.7 584 242.7 586 243.4 588 244.1 589 244.2 591 244.4 593 244.7 594 244.6 596 244.0 597 243.7 598 243.3 601 242.6 604 241.8 604 241.6 606 240.3 608 238.6 610 237.9 611 236.6 614 234.4 615 233.1 616 232.1 618 230.0 620 228.5 621 228.2 624 227.0 626 226.1 626 226.1 628 226.1 630 226.1 631 226.4 634 227.1 635 227.5 636 227.3 638 226.7 640 226.3 641 226.3 644 226.6 646 226.8 646 226.9 648 227.4 651 227.9 651 228.0 654 228.0 656 228.1 656 228.1 658 228.6 661 229.3 662 229.5 664 229.4 666 229.2 667 229.1 668 228.7 671 227.9 672 227.6 674 227.2 676 226.4 678 225.6 678 225.5 681 224.7 684 223.8 684 223.6 686 223.1 688 222.5 688 222.4 691 221.4 692 221.0 694 221.3 696 221.7 696 221.6 698 221.2 701 220.8 703 220.7 704 220.6 706 220.4 708 220.3 710 220.3 711 220.2 713 220.1 714 219.5 716 216.3 718 210.4 720 208.0 721 204.0"/><path d="M381 276.9 382 276.9 384 276.1 384 275.8 386 273.2 388 270.0 391 268.0 393 266.5 394 266.8 396 268.0 398 268.7 398 269.6 401 271.8 402 272.6 404 273.9 406 275.6 406 275.8 408 277.0 410 273.3 411 272.0 412 268.0 414 266.9 414 266.4 416 266.4 418 266.4 418 266.4 421 266.2 422 266.2 424 265.8 424 265.6 426 263.0 426 262.1 428 254.1 430 248.7 431 248.3 432 247.3 434 247.4 436 247.9 438 249.4 440 250.4 441 251.5 444 254.1 446 257.3 447 258.6 448 259.8 450 261.1 451 261.7 454 263.2 454 263.3 456 264.2 457 264.6 458 264.4 461 264.0 462 263.7 464 263.6 466 263.1 468 262.6 470 262.3 471 260.4 472 259.0 474 256.9 475 255.0 476 253.8 478 251.1 478 251.0 481 249.7 482 249.2 484 249.4 486 249.7 487 250.0 488 250.5 490 251.1 491 251.6 494 252.8 495 253.5 496 254.5 498 256.7 500 258.0 501 258.4 504 259.3 506 260.0 507 260.3 508 259.9 511 259.3 514 257.6 514 257.1 516 253.7 518 250.5 518 249.5 521 246.3 521 245.9 524 244.7 526 243.4 527 243.1 528 242.3 531 241.1 532 240.7 534 238.6 536 236.0 536 234.9 538 230.8 538 229.9 541 225.5 541 225.5 544 225.2 544 225.2 546 226.1 548 227.5 550 228.4 551 228.7 554 229.8 556 231.0 557 231.6 558 233.0 561 235.5 562 236.6 564 237.5 566 239.1 567 239.9 568 240.3 571 241.1 573 241.7 574 241.9 576 242.4 578 242.8 578 242.9 581 243.3 583 243.8 584 243.8 586 244.1 588 244.4 589 244.5 591 244.5 593 244.5 594 244.3 596 243.4 597 243.0 598 242.5 601 241.7 604 240.7 604 240.5 606 239.2 608 237.5 610 236.7 611 235.5 614 233.4 615 232.2 616 231.4 618 229.5 620 228.3 621 228.1 624 227.3 626 226.7 626 226.7 628 227.0 630 227.1 631 227.4 634 228.2 635 228.6 636 228.3 638 227.6 640 227.0 641 227.0 644 227.0 646 227.0 646 227.0 648 227.4 651 227.8 651 227.8 654 227.8 656 227.9 656 228.0 658 228.5 661 229.2 662 229.4 664 229.2 666 228.9 667 228.8 668 228.3 671 227.3 672 226.9 674 226.3 676 225.4 678 224.7 678 224.5 681 223.8 684 223.1 684 223.0 686 222.8 688 222.6 688 222.6 691 222.1 692 221.8 694 222.4 696 223.0 696 223.0 698 222.6 701 222.2 703 221.9 704 221.7 706 221.2 708 220.5 710 220.3 711 219.9 713 219.5 714 218.8 716 215.3 718 209.2 720 206.8 721 202.9"/><path d="M381 275.2 382 275.2 384 274.5 384 274.3 386 271.8 388 268.8 391 266.9 393 265.4 394 265.6 396 266.6 398 267.1 398 267.9 401 269.7 402 270.4 404 271.5 406 273.0 406 273.1 408 274.2 410 270.5 411 269.2 412 265.4 414 264.4 414 263.9 416 264.2 418 264.6 418 264.7 421 264.9 422 264.9 424 264.8 424 264.7 426 262.1 426 261.2 428 253.2 430 247.6 431 247.2 432 245.9 434 245.9 436 246.0 438 247.4 440 248.2 441 249.2 444 251.8 446 255.1 447 256.5 448 257.7 450 259.0 451 259.6 454 261.1 454 261.2 456 262.0 457 262.3 458 262.0 461 261.4 462 261.1 464 260.9 466 260.5 468 260.1 470 260.0 471 258.4 472 257.2 474 255.5 475 253.9 476 252.9 478 250.8 478 250.7 481 249.7 482 249.3 484 249.4 486 249.5 487 249.5 488 249.7 490 250.0 491 250.1 494 250.7 495 251.0 496 251.7 498 253.6 500 254.8 501 255.1 504 256.1 506 257.2 507 257.7 508 257.6 511 257.4 514 256.0 514 255.5 516 252.2 518 249.0 518 248.0 521 244.7 521 244.3 524 243.0 526 241.5 527 241.2 528 240.3 531 239.2 532 238.8 534 236.8 536 234.3 536 233.3 538 229.4 538 228.5 541 224.4 541 224.4 544 224.2 544 224.2 546 225.1 548 226.5 550 227.3 551 227.7 554 228.7 556 229.8 557 230.3 558 231.6 561 234.0 562 235.1 564 235.9 566 237.2 567 237.9 568 238.2 571 238.8 573 239.2 574 239.3 576 239.6 578 239.9 578 240.0 581 240.4 583 241.1 584 241.1 586 241.7 588 242.4 589 242.5 591 242.9 593 243.2 594 243.2 596 242.6 597 242.3 598 241.9 601 241.1 604 240.2 604 239.9 606 238.7 608 236.9 610 236.1 611 234.9 614 232.7 615 231.5 616 230.6 618 228.5 620 227.1 621 226.7 624 225.5 626 224.4 626 224.4 628 224.1 630 224.0 631 224.1 634 224.7 635 225.0 636 224.8 638 224.4 640 224.2 641 224.3 644 225.0 646 225.8 646 225.8 648 226.8 651 227.6 651 227.7 654 227.8 656 227.7 656 227.7 658 227.9 661 228.0 662 228.1 664 227.6 666 226.9 667 226.7 668 226.1 671 225.2 672 224.9 674 224.5 676 223.9 678 223.4 678 223.3 681 222.8 684 222.2 684 222.0 686 221.7 688 221.2 688 221.2 691 220.2 692 219.9 694 220.2 696 220.7 696 220.6 698 220.2 701 219.8 703 219.7 704 219.5 706 219.2 708 218.9 710 218.7 711 218.4 713 218.0 714 217.3 716 213.9 718 207.7 720 205.3 721 201.3"/><path d="M381 279.1 382 279.1 384 278.4 384 278.1 386 275.2 388 271.4 391 268.7 393 266.5 394 266.6 396 267.2 398 267.6 398 268.4 401 270.4 402 271.2 404 272.5 406 274.4 406 274.6 408 275.9 410 272.3 411 271.0 412 267.1 414 266.1 414 265.5 416 265.6 418 265.8 418 265.9 421 266.0 422 266.1 424 266.0 424 266.1 426 263.7 426 263.0 428 255.3 430 250.1 431 249.8 432 248.7 434 248.9 436 249.0 438 250.2 440 250.8 441 251.7 444 253.9 446 256.9 447 258.1 448 259.3 450 260.6 451 261.2 454 263.0 454 263.0 456 264.1 457 264.5 458 264.2 461 263.7 462 263.3 464 263.0 466 262.2 468 261.5 470 261.2 471 259.3 472 258.0 474 256.2 475 254.5 476 253.5 478 251.5 478 251.4 481 250.6 482 250.3 484 250.6 486 250.9 487 251.1 488 251.3 490 251.7 491 251.9 494 252.6 495 253.1 496 253.9 498 256.0 500 257.4 501 257.9 504 259.1 506 260.4 507 260.8 508 260.7 511 260.3 514 258.5 514 257.9 516 254.2 518 250.6 518 249.4 521 245.7 521 245.3 524 243.7 526 242.1 527 241.8 528 241.0 531 240.0 532 239.7 534 237.8 536 235.4 536 234.4 538 230.5 538 229.6 541 225.5 541 225.5 544 225.4 544 225.4 546 226.5 548 228.2 550 229.3 551 229.8 554 231.2 556 232.7 557 233.3 558 234.6 561 236.9 562 237.8 564 238.3 566 239.1 567 239.4 568 239.5 571 239.6 573 239.9 574 240.0 576 240.4 578 241.1 578 241.2 581 242.2 583 243.2 584 243.2 586 244.0 588 244.7 589 244.7 591 244.8 593 244.7 594 244.6 596 243.6 597 243.2 598 242.7 601 241.9 604 241.3 604 241.1 606 240.2 608 238.8 610 238.2 611 237.0 614 234.8 615 233.5 616 232.4 618 229.9 620 228.1 621 227.6 624 226.2 626 225.1 626 225.1 628 225.2 630 225.4 631 225.9 634 227.1 635 227.8 636 227.7 638 227.5 640 227.1 641 227.2 644 227.4 646 227.4 646 227.4 648 227.7 651 228.1 651 228.1 654 228.1 656 228.3 656 228.3 658 228.9 661 229.7 662 229.9 664 229.7 666 229.3 667 229.0 668 228.4 671 227.1 672 226.6 674 226.0 676 225.1 678 224.4 678 224.3 681 223.9 684 223.6 684 223.5 686 223.5 688 223.3 688 223.2 691 222.4 692 221.9 694 222.1 696 222.3 696 222.1 698 221.2 701 220.5 703 220.1 704 220.0 706 219.8 708 219.9 710 220.0 711 220.1 713 220.3 714 219.7 716 216.8 718 210.9 720 208.4 721 204.4"/><path d="M381 271.6 382 271.8 384 271.2 384 271.0 386 268.5 388 265.2 391 262.7 393 260.7 394 260.8 396 261.3 398 261.6 398 262.3 401 264.0 402 264.8 404 266.0 406 267.8 406 267.9 408 269.4 410 266.0 411 264.8 412 261.1 414 260.1 414 259.6 416 259.9 418 260.1 418 260.1 421 260.0 422 260.0 424 259.6 424 259.4 426 256.7 426 255.8 428 247.9 430 242.5 431 242.1 432 241.1 434 241.4 436 242.0 438 243.8 440 244.9 441 246.0 444 248.7 446 251.8 447 253.0 448 254.0 450 255.0 451 255.5 454 256.6 454 256.6 456 257.1 457 257.4 458 257.0 461 256.5 462 256.3 464 256.2 466 256.0 468 255.8 470 255.7 471 254.0 472 252.8 474 250.9 475 249.2 476 248.0 478 245.5 478 245.4 481 244.1 482 243.5 484 243.6 486 243.8 487 243.9 488 244.3 490 244.9 491 245.4 494 246.6 495 247.3 496 248.4 498 250.8 500 252.2 501 252.6 504 253.6 506 254.4 507 254.7 508 254.3 511 253.6 514 251.6 514 251.1 516 247.5 518 244.1 518 243.0 521 239.6 521 239.2 524 238.0 526 236.6 527 236.3 528 235.5 531 234.5 532 234.1 534 232.1 536 229.6 536 228.6 538 224.7 538 223.8 541 219.7 541 219.7 544 219.7 544 219.7 546 220.8 548 222.5 550 223.5 551 224.0 554 225.2 556 226.5 557 227.0 558 228.3 561 230.6 562 231.5 564 232.2 566 233.2 567 233.7 568 233.9 571 234.3 573 234.6 574 234.7 576 235.1 578 235.7 578 235.8 581 236.6 583 237.5 584 237.5 586 238.4 588 239.2 589 239.3 591 239.5 593 239.7 594 239.6 596 238.7 597 238.2 598 237.7 601 236.6 604 235.5 604 235.2 606 233.8 608 232.1 610 231.4 611 230.3 614 228.3 615 227.3 616 226.5 618 224.7 620 223.4 621 223.1 624 222.0 626 221.0 626 221.0 628 220.8 630 220.6 631 220.8 634 221.2 635 221.5 636 221.3 638 220.7 640 220.3 641 220.4 644 221.0 646 221.6 646 221.6 648 222.5 651 223.4 651 223.4 654 223.5 656 223.6 656 223.6 658 223.9 661 224.2 662 224.3 664 223.9 666 223.3 667 223.1 668 222.6 671 221.6 672 221.3 674 220.9 676 220.1 678 219.5 678 219.4 681 218.7 684 217.8 684 217.7 686 217.2 688 216.5 688 216.5 691 215.5 692 215.1 694 215.4 696 215.9 696 215.8 698 215.6 701 215.6 703 215.7 704 215.7 706 215.9 708 216.0 710 216.0 711 215.9 713 215.7 714 215.0 716 211.6 718 205.2 720 202.6 721 198.4"/><path d="M381 278.8 382 278.9 384 278.4 384 278.2 386 275.8 388 272.7 391 270.7 393 268.9 394 269.1 396 269.9 398 270.3 398 271.0 401 272.7 402 273.4 404 274.4 406 276.0 406 276.1 408 277.2 410 273.5 411 272.2 412 268.4 414 267.3 414 266.8 416 267.0 418 267.3 418 267.3 421 267.4 422 267.4 424 267.2 424 267.1 426 264.6 426 263.8 428 255.9 430 250.6 431 250.2 432 249.2 434 249.4 436 249.8 438 251.4 440 252.4 441 253.4 444 256.0 446 259.2 447 260.4 448 261.5 450 262.6 451 263.1 454 264.4 454 264.5 456 265.1 457 265.4 458 265.0 461 264.4 462 264.1 464 263.8 466 263.3 468 262.9 470 262.7 471 260.9 472 259.6 474 257.8 475 256.0 476 255.0 478 252.6 478 252.6 481 251.6 482 251.2 484 251.5 486 251.9 487 252.2 488 252.6 490 253.2 491 253.6 494 254.7 495 255.3 496 256.2 498 258.2 500 259.4 501 259.7 504 260.5 506 261.1 507 261.4 508 261.0 511 260.4 514 258.6 514 258.1 516 254.6 518 251.4 518 250.3 521 246.9 521 246.5 524 245.2 526 243.8 527 243.4 528 242.6 531 241.6 532 241.2 534 239.3 536 236.9 536 236.0 538 232.2 538 231.3 541 227.4 541 227.5 544 227.6 544 227.7 546 228.8 548 230.3 550 231.2 551 231.5 554 232.3 556 233.0 557 233.3 558 234.4 561 236.3 562 237.1 564 237.7 566 238.8 567 239.4 568 239.8 571 240.6 573 241.3 574 241.5 576 242.5 578 243.3 578 243.5 581 244.4 583 245.3 584 245.4 586 246.1 588 246.7 589 246.7 591 246.8 593 246.7 594 246.6 596 245.5 597 245.0 598 244.3 601 243.2 604 242.0 604 241.7 606 240.2 608 238.4 610 237.6 611 236.3 614 234.1 615 233.0 616 232.1 618 230.3 620 229.1 621 228.8 624 228.0 626 227.4 626 227.5 628 227.8 630 227.9 631 228.3 634 229.2 635 229.6 636 229.5 638 228.9 640 228.4 641 228.4 644 228.5 646 228.6 646 228.6 648 228.9 651 229.3 651 229.3 654 229.1 656 229.1 656 229.1 658 229.4 661 230.0 662 230.2 664 230.0 666 229.7 667 229.6 668 229.2 671 228.4 672 228.1 674 227.7 676 227.0 678 226.4 678 226.2 681 225.6 684 224.8 684 224.6 686 224.3 688 223.8 688 223.7 691 222.8 692 222.5 694 222.8 696 223.3 696 223.2 698 222.8 701 222.4 703 222.2 704 222.1 706 221.9 708 221.7 710 221.6 711 221.5 713 221.3 714 220.7 716 217.4 718 211.4 720 209.0 721 205.0"/><path d="M381 273.0 382 273.0 384 272.3 384 272.1 386 269.5 388 266.3 391 264.2 393 262.5 394 262.7 396 263.5 398 264.0 398 264.8 401 266.6 402 267.3 404 268.4 406 270.0 406 270.1 408 271.3 410 267.7 411 266.4 412 262.6 414 261.5 414 261.0 416 261.3 418 261.6 418 261.6 421 261.7 422 261.8 424 261.6 424 261.5 426 259.0 426 258.2 428 250.3 430 244.9 431 244.6 432 243.5 434 243.7 436 244.1 438 245.7 440 246.6 441 247.6 444 250.2 446 253.4 447 254.6 448 255.8 450 256.9 451 257.4 454 258.8 454 258.9 456 259.6 457 259.9 458 259.6 461 259.0 462 258.7 464 258.4 466 257.9 468 257.3 470 257.0 471 255.2 472 253.9 474 251.9 475 250.1 476 249.0 478 246.6 478 246.6 481 245.6 482 245.2 484 245.5 486 246.0 487 246.3 488 246.9 490 247.5 491 248.0 494 249.1 495 249.8 496 250.7 498 252.8 500 254.0 501 254.3 504 255.1 506 255.8 507 256.0 508 255.6 511 255.0 514 253.3 514 252.8 516 249.4 518 246.2 518 245.1 521 241.9 521 241.5 524 240.3 526 238.9 527 238.5 528 237.6 531 236.5 532 236.0 534 234.0 536 231.4 536 230.3 538 226.3 538 225.4 541 221.3 541 221.3 544 221.3 544 221.3 546 222.3 548 223.9 550 224.9 551 225.4 554 226.5 556 227.7 557 228.2 558 229.5 561 231.9 562 232.9 564 233.7 566 235.0 567 235.7 568 236.0 571 236.7 573 237.2 574 237.3 576 237.8 578 238.2 578 238.3 581 238.8 583 239.4 584 239.4 586 239.8 588 240.3 589 240.4 591 240.5 593 240.7 594 240.6 596 239.8 597 239.5 598 239.1 601 238.4 604 237.5 604 237.3 606 236.1 608 234.3 610 233.5 611 232.3 614 230.0 615 228.8 616 227.8 618 225.7 620 224.3 621 223.9 624 222.8 626 222.0 626 222.0 628 222.1 630 222.2 631 222.5 634 223.3 635 223.8 636 223.7 638 223.2 640 222.8 641 222.9 644 223.3 646 223.6 646 223.7 648 224.3 651 224.9 651 224.9 654 225.0 656 225.0 656 225.1 658 225.5 661 226.0 662 226.1 664 225.8 666 225.3 667 225.0 668 224.4 671 223.3 672 222.8 674 222.2 676 221.1 678 220.3 678 220.1 681 219.4 684 218.6 684 218.5 686 218.3 688 218.1 688 218.1 691 217.5 692 217.3 694 217.9 696 218.6 696 218.6 698 218.5 701 218.3 703 218.2 704 218.1 706 217.8 708 217.4 710 217.2 711 217.0 713 216.6 714 215.9 716 212.4 718 206.3 720 203.8 721 199.8"/><path d="M381 272.6 382 272.5 384 271.6 384 271.3 386 268.5 388 265.0 391 262.8 393 261.1 394 261.3 396 262.5 398 263.2 398 264.2 401 266.5 402 267.4 404 268.8 406 270.8 406 271.0 408 272.3 410 268.7 411 267.4 412 263.5 414 262.3 414 261.8 416 261.7 418 261.6 418 261.5 421 261.2 422 261.2 424 260.7 424 260.5 426 257.9 426 257.0 428 249.1 430 243.7 431 243.4 432 242.4 434 242.6 436 243.2 438 244.8 440 245.7 441 246.8 444 249.3 446 252.4 447 253.6 448 254.7 450 255.8 451 256.3 454 257.8 454 257.8 456 258.7 457 259.1 458 258.9 461 258.7 462 258.6 464 258.5 466 258.3 468 257.9 470 257.6 471 255.8 472 254.5 474 252.5 475 250.6 476 249.4 478 246.7 478 246.7 481 245.4 482 244.9 484 245.1 486 245.5 487 245.8 488 246.3 490 247.0 491 247.4 494 248.6 495 249.3 496 250.2 498 252.2 500 253.4 501 253.6 504 254.2 506 254.7 507 254.8 508 254.4 511 253.6 514 251.9 514 251.5 516 248.1 518 245.1 518 244.1 521 241.2 521 240.9 524 239.9 526 238.8 527 238.6 528 237.8 531 236.8 532 236.3 534 234.3 536 231.6 536 230.6 538 226.4 538 225.5 541 221.3 541 221.3 544 221.2 544 221.1 546 222.2 548 223.9 550 224.9 551 225.4 554 226.6 556 227.7 557 228.2 558 229.4 561 231.6 562 232.5 564 233.0 566 233.9 567 234.4 568 234.6 571 235.1 573 235.5 574 235.7 576 236.3 578 237.0 578 237.2 581 238.1 583 239.1 584 239.1 586 239.9 588 240.7 589 240.8 591 240.9 593 241.0 594 240.8 596 239.8 597 239.3 598 238.7 601 237.7 604 236.7 604 236.4 606 235.2 608 233.6 610 232.9 611 231.8 614 229.9 615 228.9 616 228.1 618 226.2 620 224.8 621 224.5 624 223.3 626 222.3 626 222.2 628 221.9 630 221.8 631 221.9 634 222.4 635 222.8 636 222.6 638 222.1 640 221.8 641 221.9 644 222.5 646 223.1 646 223.1 648 223.9 651 224.6 651 224.6 654 224.6 656 224.4 656 224.4 658 224.6 661 224.8 662 224.9 664 224.4 666 223.9 667 223.7 668 223.2 671 222.5 672 222.3 674 222.0 676 221.6 678 221.2 678 221.1 681 220.7 684 220.1 684 220.0 686 219.6 688 219.0 688 219.0 691 217.9 692 217.4 694 217.6 696 217.9 696 217.8 698 217.2 701 216.8 703 216.6 704 216.5 706 216.4 708 216.2 710 216.1 711 216.0 713 215.8 714 215.1 716 211.8 718 205.6 720 203.1 721 199.0"/><path d="M381 275.3 382 275.3 384 274.5 384 274.2 386 271.4 388 267.9 391 265.4 393 263.5 394 263.6 396 264.3 398 264.7 398 265.5 401 267.3 402 268.1 404 269.2 406 271.0 406 271.2 408 272.5 410 269.1 411 267.9 412 264.2 414 263.2 414 262.8 416 263.1 418 263.5 418 263.5 421 263.7 422 263.8 424 263.6 424 263.5 426 260.9 426 260.1 428 252.2 430 246.8 431 246.4 432 245.4 434 245.5 436 245.9 438 247.5 440 248.4 441 249.4 444 252.0 446 255.1 447 256.3 448 257.4 450 258.5 451 258.9 454 260.2 454 260.2 456 260.8 457 261.0 458 260.6 461 260.0 462 259.6 464 259.4 466 258.9 468 258.4 470 258.2 471 256.5 472 255.3 474 253.5 475 251.8 476 250.8 478 248.6 478 248.5 481 247.6 482 247.3 484 247.6 486 248.1 487 248.4 488 248.8 490 249.4 491 249.8 494 250.8 495 251.4 496 252.2 498 254.2 500 255.4 501 255.7 504 256.4 506 257.1 507 257.4 508 257.1 511 256.5 514 254.8 514 254.4 516 250.9 518 247.7 518 246.6 521 243.3 521 243.0 524 241.6 526 240.1 527 239.7 528 238.8 531 237.6 532 237.2 534 235.1 536 232.5 536 231.6 538 227.6 538 226.8 541 222.8 541 222.8 544 222.9 544 223.0 546 224.1 548 225.8 550 226.8 551 227.3 554 228.4 556 229.5 557 229.9 558 231.2 561 233.5 562 234.4 564 235.1 566 236.4 567 237.0 568 237.3 571 238.0 573 238.5 574 238.7 576 239.2 578 239.7 578 239.7 581 240.3 583 240.8 584 240.8 586 241.1 588 241.5 589 241.6 591 241.6 593 241.6 594 241.5 596 240.7 597 240.3 598 239.9 601 239.2 604 238.5 604 238.3 606 237.2 608 235.7 610 235.1 611 233.9 614 231.9 615 230.8 616 229.9 618 227.8 620 226.4 621 226.1 624 225.0 626 224.0 626 224.0 628 223.9 630 223.8 631 224.1 634 224.7 635 225.1 636 224.9 638 224.3 640 223.9 641 224.0 644 224.3 646 224.6 646 224.6 648 225.2 651 225.8 651 225.8 654 225.8 656 225.9 656 225.9 658 226.3 661 226.8 662 226.9 664 226.6 666 226.2 667 226.1 668 225.5 671 224.6 672 224.3 674 223.8 676 223.1 678 222.5 678 222.3 681 221.8 684 221.1 684 221.0 686 220.8 688 220.5 688 220.4 691 219.7 692 219.3 694 219.7 696 220.2 696 220.1 698 219.7 701 219.2 703 218.9 704 218.8 706 218.3 708 217.9 710 217.7 711 217.5 713 217.2 714 216.5 716 213.2 718 207.1 720 204.7 721 200.7"/><path d="M381 276.0 382 276.0 384 275.2 384 274.9 386 272.1 388 268.4 391 265.9 393 263.9 394 264.1 396 264.8 398 265.4 398 266.2 401 268.3 402 269.2 404 270.6 406 272.6 406 272.8 408 274.2 410 270.7 411 269.4 412 265.6 414 264.5 414 264.0 416 264.0 418 264.1 418 264.0 421 263.9 422 263.9 424 263.6 424 263.4 426 261.0 426 260.1 428 252.4 430 247.2 431 246.9 432 246.0 434 246.3 436 246.8 438 248.3 440 249.2 441 250.1 444 252.3 446 255.1 447 256.2 448 257.1 450 258.0 451 258.5 454 259.9 454 259.9 456 260.9 457 261.3 458 261.2 461 261.1 462 261.0 464 261.0 466 260.8 468 260.4 470 260.1 471 258.3 472 256.9 474 254.9 475 252.9 476 251.7 478 249.1 478 249.0 481 247.9 482 247.4 484 247.7 486 248.3 487 248.7 488 249.2 490 249.9 491 250.4 494 251.5 495 252.1 496 252.9 498 254.7 500 255.8 501 255.9 504 256.3 506 256.8 507 257.0 508 256.6 511 256.2 514 254.8 514 254.4 516 251.3 518 248.4 518 247.5 521 244.7 521 244.4 524 243.3 526 241.9 527 241.6 528 240.5 531 239.0 532 238.5 534 236.2 536 233.4 536 232.3 538 228.2 538 227.3 541 223.2 541 223.2 544 223.3 544 223.3 546 224.5 548 226.3 550 227.3 551 227.7 554 228.7 556 229.6 557 230.0 558 231.2 561 233.2 562 234.2 564 234.8 566 236.1 567 236.9 568 237.3 571 238.4 573 239.1 574 239.4 576 240.4 578 241.1 578 241.2 581 241.8 583 242.2 584 242.2 586 242.3 588 242.4 589 242.4 591 242.2 593 242.1 594 241.9 596 241.0 597 240.7 598 240.4 601 239.8 604 239.3 604 239.1 606 238.1 608 236.5 610 235.8 611 234.5 614 232.2 615 230.8 616 229.8 618 227.5 620 226.0 621 225.6 624 224.6 626 223.8 626 223.9 628 224.2 630 224.5 631 224.9 634 225.9 635 226.5 636 226.4 638 225.8 640 225.2 641 225.2 644 225.2 646 225.1 646 225.1 648 225.4 651 225.8 651 225.8 654 225.9 656 226.1 656 226.2 658 226.9 661 227.8 662 228.0 664 227.9 666 227.6 667 227.4 668 226.8 671 225.6 672 225.0 674 224.3 676 223.1 678 222.3 678 222.1 681 221.4 684 220.8 684 220.7 686 220.7 688 220.7 688 220.7 691 220.3 692 220.1 694 220.6 696 221.2 696 221.1 698 220.5 701 219.9 703 219.4 704 219.1 706 218.5 708 218.0 710 217.8 711 217.7 713 217.6 714 216.9 716 214.0 718 208.3 720 206.0 721 202.2"/><path d="M381 283.9 382 283.9 384 283.2 384 283.0 386 280.3 388 277.0 391 274.7 393 272.9 394 273.0 396 273.8 398 274.2 398 275.0 401 276.9 402 277.6 404 278.8 406 280.5 406 280.7 408 281.9 410 278.4 411 277.1 412 273.3 414 272.3 414 271.8 416 272.0 418 272.2 418 272.2 421 272.2 422 272.2 424 271.8 424 271.6 426 269.0 426 268.1 428 260.2 430 254.7 431 254.3 432 253.2 434 253.4 436 253.8 438 255.5 440 256.5 441 257.6 444 260.4 446 263.7 447 265.0 448 266.2 450 267.4 451 268.0 454 269.4 454 269.5 456 270.1 457 270.4 458 270.0 461 269.3 462 268.9 464 268.6 466 268.0 468 267.3 470 267.0 471 265.2 472 263.8 474 261.9 475 260.0 476 258.9 478 256.5 478 256.5 481 255.4 482 255.0 484 255.3 486 255.8 487 256.1 488 256.6 490 257.2 491 257.7 494 258.8 495 259.5 496 260.4 498 262.6 500 263.9 501 264.2 504 265.1 506 265.9 507 266.2 508 265.9 511 265.3 514 263.6 514 263.1 516 259.6 518 256.2 518 255.1 521 251.7 521 251.3 524 249.8 526 248.1 527 247.7 528 246.7 531 245.4 532 244.9 534 242.8 536 240.3 536 239.3 538 235.4 538 234.5 541 230.5 541 230.5 544 230.7 544 230.7 546 231.9 548 233.7 550 234.7 551 235.2 554 236.3 556 237.5 557 237.9 558 239.2 561 241.5 562 242.5 564 243.1 566 244.3 567 245.0 568 245.3 571 246.0 573 246.4 574 246.6 576 247.1 578 247.5 578 247.6 581 248.0 583 248.4 584 248.5 586 248.7 588 249.0 589 249.1 591 249.0 593 249.0 594 248.8 596 247.9 597 247.6 598 247.1 601 246.4 604 245.8 604 245.6 606 244.6 608 243.2 610 242.5 611 241.5 614 239.6 615 238.5 616 237.6 618 235.7 620 234.4 621 234.0 624 232.9 626 231.9 626 231.9 628 231.8 630 231.7 631 231.9 634 232.4 635 232.7 636 232.4 638 231.6 640 231.1 641 231.1 644 231.3 646 231.5 646 231.6 648 232.1 651 232.7 651 232.7 654 232.9 656 233.0 656 233.1 658 233.6 661 234.4 662 234.6 664 234.5 666 234.2 667 234.1 668 233.7 671 232.9 672 232.5 674 232.1 676 231.3 678 230.6 678 230.5 681 229.7 684 228.9 684 228.7 686 228.3 688 227.7 688 227.7 691 226.7 692 226.3 694 226.6 696 227.0 696 226.9 698 226.4 701 225.9 703 225.7 704 225.5 706 225.2 708 225.0 710 224.9 711 224.8 713 224.7 714 224.0 716 220.9 718 215.1 720 212.7 721 208.8"/><path d="M381 277.8 382 277.8 384 277.2 384 277.0 386 274.6 388 271.5 391 269.5 393 267.8 394 268.0 396 268.8 398 269.2 398 269.9 401 271.5 402 272.1 404 273.1 406 274.6 406 274.7 408 275.7 410 272.1 411 270.8 412 267.1 414 266.1 414 265.6 416 266.1 418 266.6 418 266.7 421 267.2 422 267.3 424 267.3 424 267.3 426 264.9 426 264.1 428 256.2 430 250.8 431 250.4 432 249.2 434 249.2 436 249.2 438 250.3 440 251.0 441 251.8 444 254.1 446 257.0 447 258.2 448 259.3 450 260.5 451 261.1 454 262.8 454 262.8 456 263.9 457 264.4 458 264.3 461 264.1 462 264.0 464 263.9 466 263.5 468 263.0 470 262.8 471 260.9 472 259.6 474 257.5 475 255.6 476 254.4 478 251.8 478 251.8 481 250.6 482 250.1 484 250.3 486 250.7 487 251.0 488 251.5 490 252.1 491 252.5 494 253.6 495 254.2 496 255.2 498 257.2 500 258.4 501 258.6 504 259.3 506 259.9 507 260.2 508 259.8 511 259.2 514 257.6 514 257.1 516 253.8 518 250.7 518 249.7 521 246.7 521 246.3 524 245.2 526 244.0 527 243.7 528 242.9 531 241.7 532 241.3 534 239.2 536 236.5 536 235.4 538 231.3 538 230.4 541 226.0 541 226.0 544 225.8 544 225.7 546 226.7 548 228.2 550 229.1 551 229.5 554 230.5 556 231.7 557 232.2 558 233.5 561 235.9 562 237.0 564 237.8 566 239.2 567 239.9 568 240.3 571 241.2 573 241.7 574 241.9 576 242.6 578 243.1 578 243.2 581 243.7 583 244.3 584 244.3 586 244.6 588 244.9 589 245.0 591 244.8 593 244.7 594 244.6 596 243.6 597 243.1 598 242.6 601 241.8 604 241.0 604 240.8 606 239.7 608 238.2 610 237.6 611 236.5 614 234.6 615 233.6 616 232.8 618 230.9 620 229.5 621 229.2 624 228.1 626 227.0 626 227.0 628 226.8 630 226.6 631 226.8 634 227.2 635 227.5 636 227.3 638 226.6 640 226.2 641 226.3 644 226.8 646 227.4 646 227.5 648 228.3 651 229.2 651 229.3 654 229.5 656 229.7 656 229.7 658 230.1 661 230.4 662 230.5 664 230.0 666 229.3 667 228.9 668 228.2 671 227.0 672 226.5 674 226.0 676 225.2 678 224.6 678 224.5 681 224.1 684 223.8 684 223.7 686 223.6 688 223.5 688 223.5 691 222.8 692 222.4 694 222.8 696 223.2 696 223.0 698 222.4 701 221.7 703 221.3 704 221.1 706 220.6 708 220.3 710 220.2 711 220.2 713 220.1 714 219.5 716 216.6 718 211.0 720 208.7 721 204.9"/><path d="M381 280.4 382 280.4 384 279.6 384 279.4 386 276.6 388 273.2 391 270.9 393 269.1 394 269.3 396 270.1 398 270.6 398 271.3 401 273.3 402 274.1 404 275.4 406 277.2 406 277.4 408 278.9 410 275.4 411 274.2 412 270.5 414 269.6 414 269.1 416 269.4 418 269.7 418 269.7 421 269.7 422 269.7 424 269.4 424 269.2 426 266.5 426 265.7 428 257.6 430 252.0 431 251.7 432 250.5 434 250.6 436 250.9 438 252.3 440 253.2 441 254.3 444 256.9 446 260.0 447 261.3 448 262.5 450 263.6 451 264.2 454 265.6 454 265.7 456 266.4 457 266.7 458 266.3 461 265.8 462 265.5 464 265.3 466 264.8 468 264.3 470 264.1 471 262.3 472 261.1 474 259.2 475 257.4 476 256.3 478 254.0 478 254.0 481 252.9 482 252.5 484 252.8 486 253.3 487 253.5 488 254.0 490 254.5 491 255.0 494 256.0 495 256.6 496 257.5 498 259.6 500 260.8 501 261.2 504 262.0 506 262.7 507 263.0 508 262.7 511 262.1 514 260.3 514 259.8 516 256.3 518 252.9 518 251.8 521 248.4 521 248.0 524 246.5 526 244.9 527 244.5 528 243.5 531 242.3 532 241.8 534 239.8 536 237.3 536 236.4 538 232.5 538 231.7 541 227.8 541 227.9 544 228.2 544 228.3 546 229.6 548 231.4 550 232.5 551 233.0 554 234.1 556 235.2 557 235.6 558 236.8 561 238.9 562 239.8 564 240.4 566 241.4 567 241.9 568 242.1 571 242.6 573 242.9 574 243.0 576 243.5 578 243.9 578 243.9 581 244.5 583 245.1 584 245.1 586 245.6 588 246.2 589 246.3 591 246.5 593 246.8 594 246.7 596 246.0 597 245.8 598 245.4 601 244.8 604 244.1 604 243.9 606 242.7 608 241.0 610 240.3 611 239.0 614 236.7 615 235.4 616 234.4 618 232.1 620 230.6 621 230.1 624 228.9 626 227.9 626 227.8 628 227.8 630 227.8 631 228.2 634 229.0 635 229.6 636 229.5 638 229.2 640 229.1 641 229.2 644 229.8 646 230.4 646 230.4 648 231.1 651 231.8 651 231.8 654 231.7 656 231.6 656 231.5 658 231.7 661 231.9 662 231.9 664 231.4 666 230.6 667 230.3 668 229.6 671 228.4 672 228.0 674 227.4 676 226.6 678 226.0 678 225.9 681 225.5 684 225.1 684 225.0 686 225.1 688 225.1 688 225.1 691 224.7 692 224.5 694 225.1 696 225.8 696 225.8 698 225.5 701 225.2 703 224.9 704 224.7 706 224.2 708 223.6 710 223.3 711 223.0 713 222.4 714 221.7 716 218.1 718 211.7 720 209.2 721 205.1"/></g></g>
<path d="M393.70 246.80V289.80M387.50 268.70H399.90" stroke="#111" stroke-width="1.5" fill="none"/>
<path d="M406.40 264.30V300.80M400.20 282.70H412.60" stroke="#111" stroke-width="1.5" fill="none"/>
<path d="M419.20 238.20V279.10M413.00 258.80H425.40" stroke="#111" stroke-width="1.5" fill="none"/>
<path d="M432.00 217.10V253.20M425.80 235.70H438.20" stroke="#111" stroke-width="1.5" fill="none"/>
<path d="M456.90 244.90V283.60M450.70 264.10H463.10" stroke="#111" stroke-width="1.5" fill="none"/>
<path d="M469.50 244.10V283.90M463.30 264.10H475.70" stroke="#111" stroke-width="1.5" fill="none"/>
<path d="M482.30 231.90V274.60M476.10 253.40H488.50" stroke="#111" stroke-width="1.5" fill="none"/>
<path d="M494.90 237.30V272.40M488.70 255.10H501.10" stroke="#111" stroke-width="1.5" fill="none"/>
<path d="M507.80 258.40V305.00M501.60 281.40H514.00" stroke="#111" stroke-width="1.5" fill="none"/>
<path d="M520.40 237.30V280.80M514.20 259.40H526.60" stroke="#111" stroke-width="1.5" fill="none"/>
<path d="M533.10 206.60V251.90M526.90 229.50H539.30" stroke="#111" stroke-width="1.5" fill="none"/>
<path d="M545.90 188.40V244.70M539.70 216.50H552.10" stroke="#111" stroke-width="1.5" fill="none"/>
<path d="M558.40 202.70V252.60M552.20 227.50H564.60" stroke="#111" stroke-width="1.5" fill="none"/>
<path d="M571.10 211.60V268.60M564.90 240.30H577.30" stroke="#111" stroke-width="1.5" fill="none"/>
<path d="M584.10 211.20V253.30M577.90 232.10H590.30" stroke="#111" stroke-width="1.5" fill="none"/>
<path d="M596.60 198.40V246.90M590.40 223.00H602.80" stroke="#111" stroke-width="1.5" fill="none"/>
<path d="M609.20 200.90V252.50M603.00 226.20H615.40" stroke="#111" stroke-width="1.5" fill="none"/>
<path d="M622.00 216.40V253.00M615.80 234.60H628.20" stroke="#111" stroke-width="1.5" fill="none"/>
<path d="M634.80 187.40V222.30M628.60 205.10H641.00" stroke="#111" stroke-width="1.5" fill="none"/>
<path d="M647.30 217.40V262.40M641.10 239.70H653.50" stroke="#111" stroke-width="1.5" fill="none"/>
<path d="M660.10 205.10V250.10M653.90 227.20H666.30" stroke="#111" stroke-width="1.5" fill="none"/>
<path d="M672.80 222.10V264.20M666.60 243.20H679.00" stroke="#111" stroke-width="1.5" fill="none"/>
<path d="M685.50 216.00V261.30M679.30 238.40H691.70" stroke="#111" stroke-width="1.5" fill="none"/>
<path d="M698.20 233.50V286.90M692.00 260.10H704.40" stroke="#111" stroke-width="1.5" fill="none"/>
<circle cx="393.70" cy="268.70" r="2.7" fill="#fff" stroke="#000" stroke-width="1"/>
<circle cx="406.40" cy="282.70" r="2.7" fill="#fff" stroke="#000" stroke-width="1"/>
<circle cx="419.20" cy="258.80" r="2.7" fill="#fff" stroke="#000" stroke-width="1"/>
<circle cx="432.00" cy="235.70" r="2.7" fill="#fff" stroke="#000" stroke-width="1"/>
<circle cx="456.90" cy="264.10" r="2.7" fill="#fff" stroke="#000" stroke-width="1"/>
<circle cx="469.50" cy="264.10" r="2.7" fill="#fff" stroke="#000" stroke-width="1"/>
<circle cx="482.30" cy="253.40" r="2.7" fill="#fff" stroke="#000" stroke-width="1"/>
<circle cx="494.90" cy="255.10" r="2.7" fill="#fff" stroke="#000" stroke-width="1"/>
<circle cx="507.80" cy="281.40" r="2.7" fill="#fff" stroke="#000" stroke-width="1"/>
<circle cx="520.40" cy="259.40" r="2.7" fill="#fff" stroke="#000" stroke-width="1"/>
<circle cx="533.10" cy="229.50" r="2.7" fill="#fff" stroke="#000" stroke-width="1"/>
<circle cx="545.90" cy="216.50" r="2.7" fill="#fff" stroke="#000" stroke-width="1"/>
<circle cx="558.40" cy="227.50" r="2.7" fill="#fff" stroke="#000" stroke-width="1"/>
<circle cx="571.10" cy="240.30" r="2.7" fill="#fff" stroke="#000" stroke-width="1"/>
<circle cx="584.10" cy="232.10" r="2.7" fill="#fff" stroke="#000" stroke-width="1"/>
<circle cx="596.60" cy="223.00" r="2.7" fill="#fff" stroke="#000" stroke-width="1"/>
<circle cx="609.20" cy="226.20" r="2.7" fill="#fff" stroke="#000" stroke-width="1"/>
<circle cx="622.00" cy="234.60" r="2.7" fill="#fff" stroke="#000" stroke-width="1"/>
<circle cx="634.80" cy="205.10" r="2.7" fill="#fff" stroke="#000" stroke-width="1"/>
<circle cx="647.30" cy="239.70" r="2.7" fill="#fff" stroke="#000" stroke-width="1"/>
<circle cx="660.10" cy="227.20" r="2.7" fill="#fff" stroke="#000" stroke-width="1"/>
<circle cx="672.80" cy="243.20" r="2.7" fill="#fff" stroke="#000" stroke-width="1"/>
<circle cx="685.50" cy="238.40" r="2.7" fill="#fff" stroke="#000" stroke-width="1"/>
<circle cx="698.20" cy="260.10" r="2.7" fill="#fff" stroke="#000" stroke-width="1"/>
<rect x="382.1" y="179.4" width="338.4" height="131.8" fill="none" stroke="#111" stroke-width="1.2"/>
<path d="M376.6 293.70H382.1M376.6 264.13H382.1M376.6 234.57H382.1M376.6 205.00H382.1M398.60 311.2V316.4M440.98 311.2V316.4M483.37 311.2V316.4M525.75 311.2V316.4M568.14 311.2V316.4M610.53 311.2V316.4M652.91 311.2V316.4M695.30 311.2V316.4" stroke="#111" stroke-width="1.1" fill="none"/>
<text x="342.95" y="297.30" font-size="10.2" textLength="30.88" lengthAdjust="spacingAndGlyphs" fill="#000">11000</text>
<text x="342.95" y="267.74" font-size="10.2" textLength="30.88" lengthAdjust="spacingAndGlyphs" fill="#000">11500</text>
<text x="342.95" y="238.17" font-size="10.2" textLength="30.88" lengthAdjust="spacingAndGlyphs" fill="#000">12000</text>
<text x="342.95" y="208.60" font-size="10.2" textLength="30.88" lengthAdjust="spacingAndGlyphs" fill="#000">12500</text>
<text x="387.86" y="326.90" font-size="10.2" textLength="21.91" lengthAdjust="spacingAndGlyphs" fill="#000">0.55</text>
<text x="430.25" y="326.90" font-size="10.2" textLength="21.88" lengthAdjust="spacingAndGlyphs" fill="#000">0.60</text>
<text x="472.63" y="326.90" font-size="10.2" textLength="21.91" lengthAdjust="spacingAndGlyphs" fill="#000">0.65</text>
<text x="515.02" y="326.90" font-size="10.2" textLength="21.88" lengthAdjust="spacingAndGlyphs" fill="#000">0.70</text>
<text x="557.40" y="326.90" font-size="10.2" textLength="21.91" lengthAdjust="spacingAndGlyphs" fill="#000">0.75</text>
<text x="599.79" y="326.90" font-size="10.2" textLength="21.88" lengthAdjust="spacingAndGlyphs" fill="#000">0.80</text>
<text x="642.17" y="326.90" font-size="10.2" textLength="21.91" lengthAdjust="spacingAndGlyphs" fill="#000">0.85</text>
<text x="684.56" y="326.90" font-size="10.2" textLength="21.88" lengthAdjust="spacingAndGlyphs" fill="#000">0.90</text>
</svg></body></html>
